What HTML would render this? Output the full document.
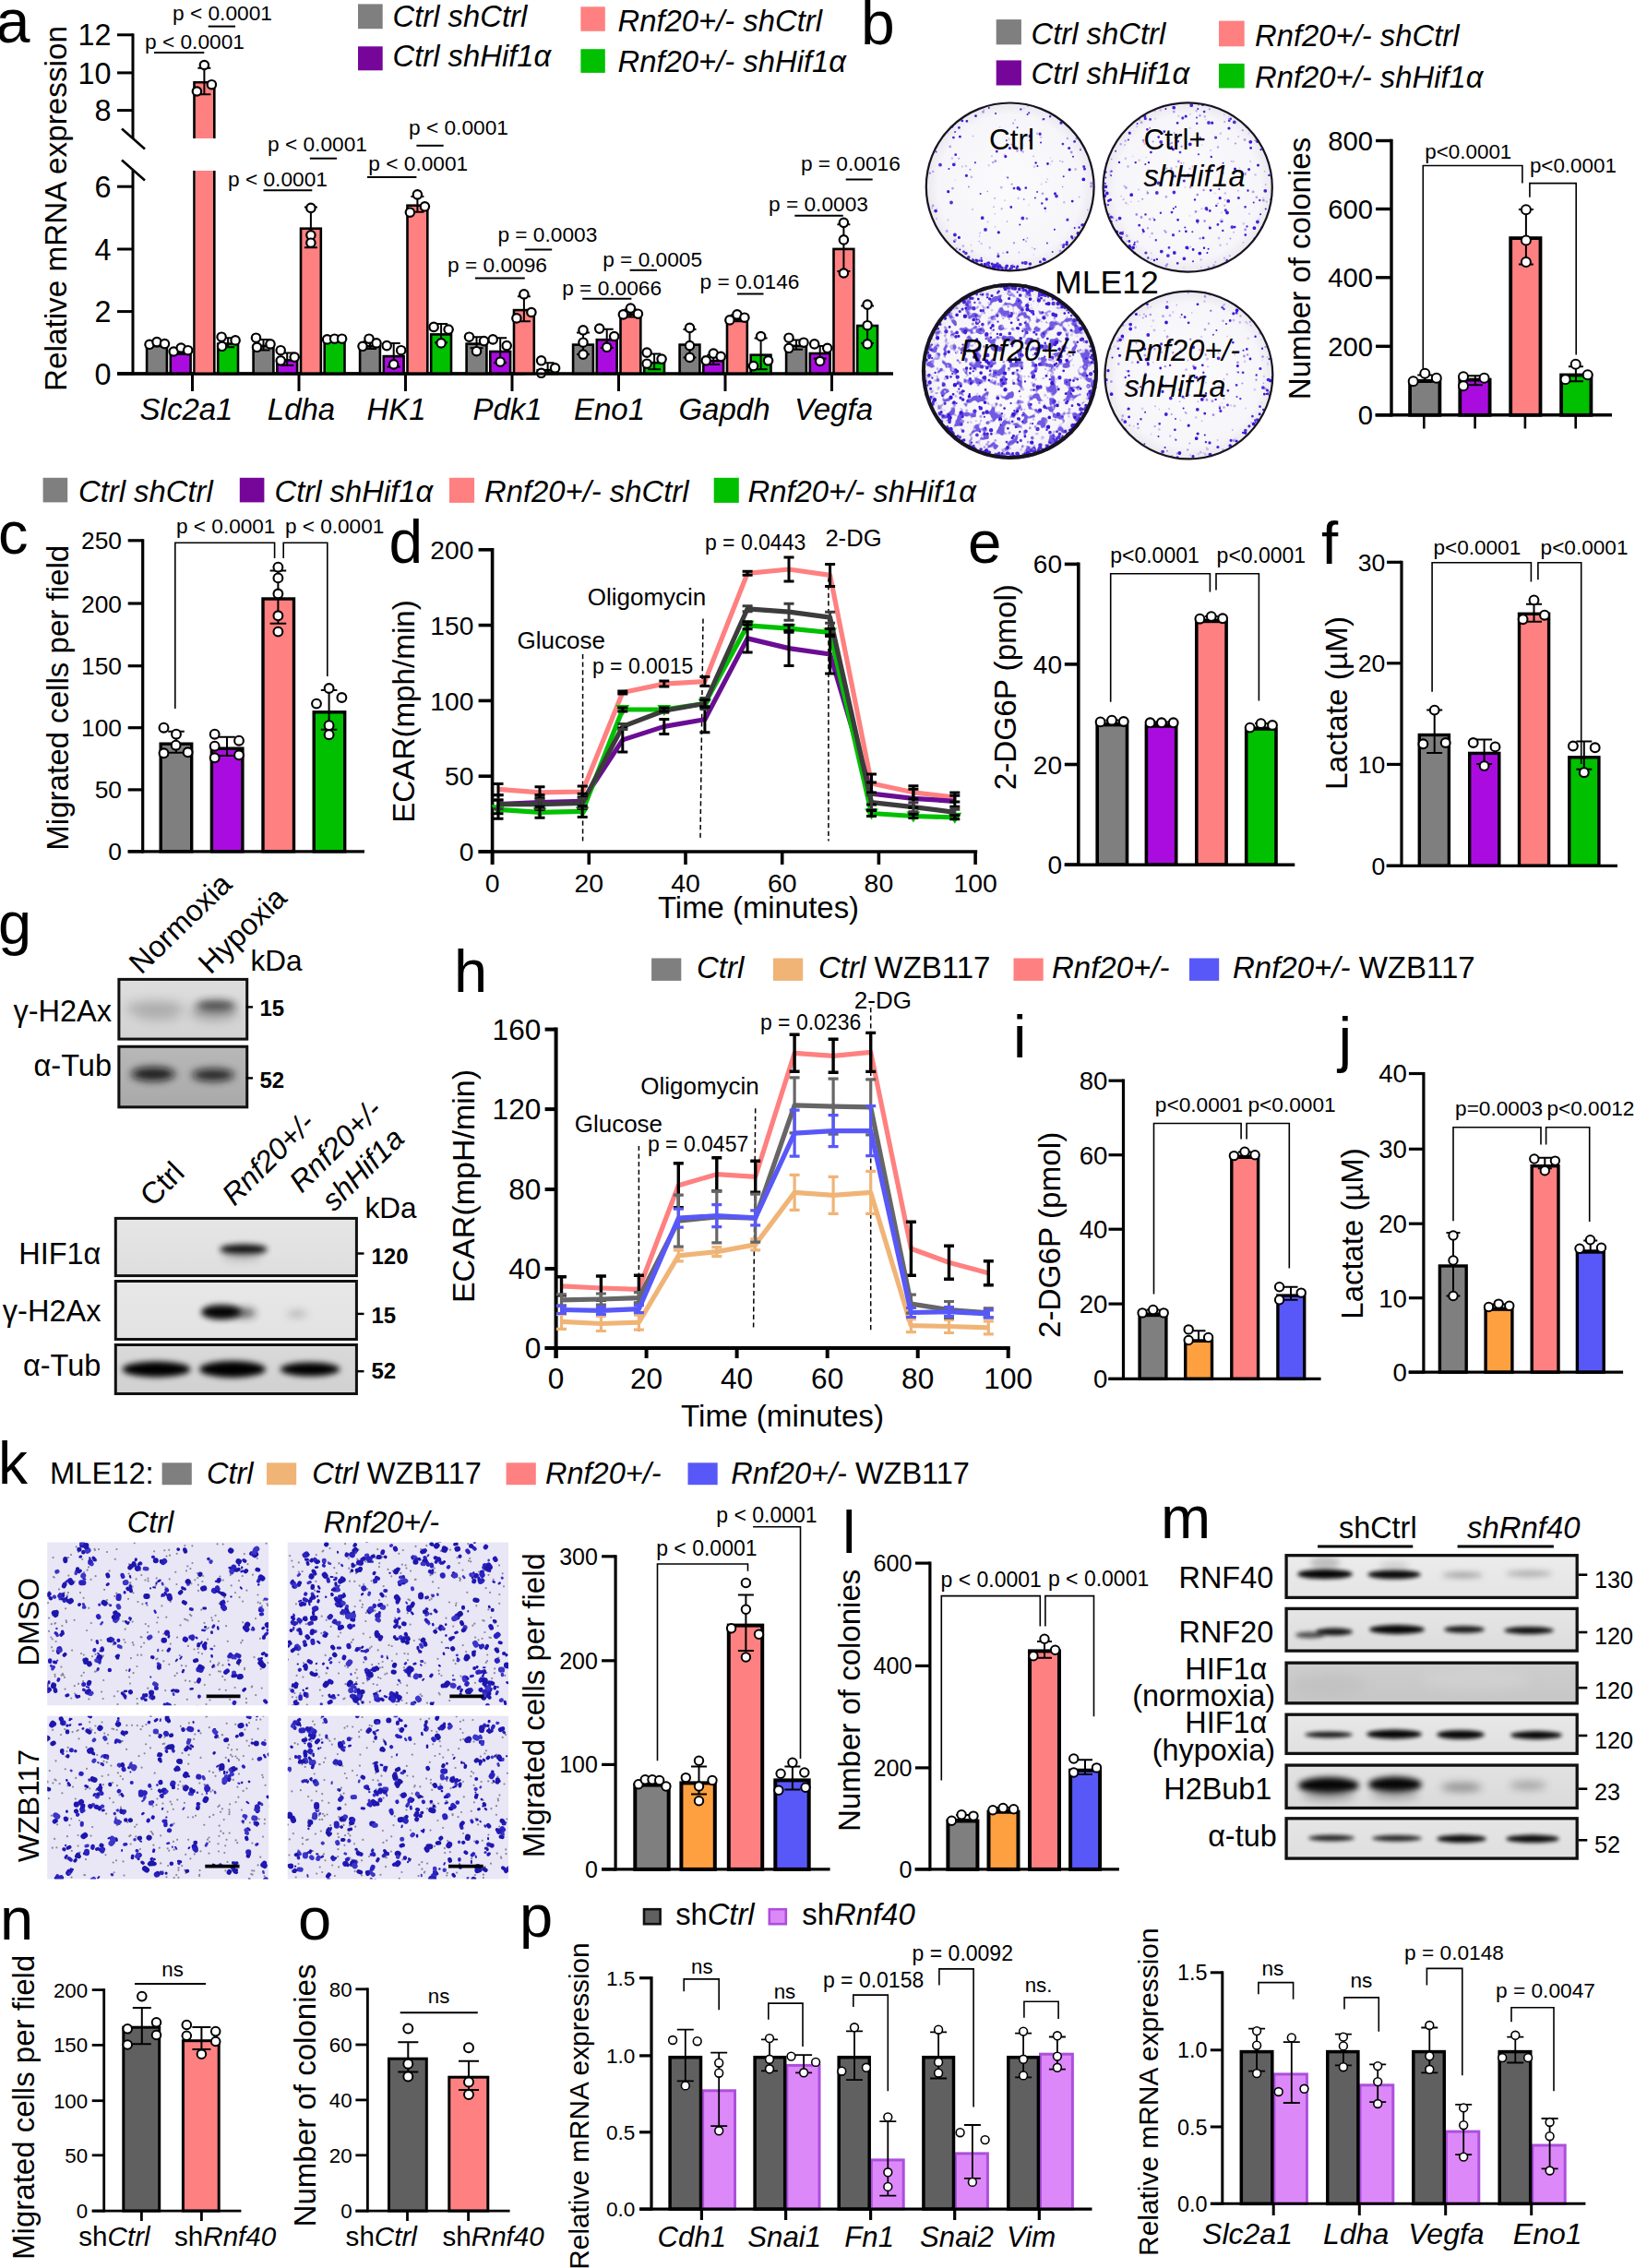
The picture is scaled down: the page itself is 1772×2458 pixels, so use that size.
<!DOCTYPE html>
<html><head><meta charset="utf-8"><title>Figure</title>
<style>html,body{margin:0;padding:0;background:#fff}svg{display:block}text{font-family:"Liberation Sans",Arial,Helvetica,sans-serif;fill:#000;stroke:none}</style></head>
<body>
<svg width="1772" height="2458" viewBox="0 0 1772 2458">
<rect width="1772" height="2458" fill="#fff"/>
<g stroke="#000" fill="none">
<text x="-4.5" y="46.3" font-size="66.5">a</text>
<text font-size="33.3" text-anchor="middle" transform="translate(72.3 226) rotate(-90)">Relative mRNA expression</text>
<path d="M144 185L144 406.5" stroke-width="3"/>
<path d="M144 36.3L144 150" stroke-width="3"/>
<path d="M127 37.8L144 37.8" stroke-width="3"/>
<text x="120.5" y="49.4" font-size="32.4" text-anchor="end">12</text>
<path d="M127 78.9L144 78.9" stroke-width="3"/>
<text x="120.5" y="90.5" font-size="32.4" text-anchor="end">10</text>
<path d="M127 119.6L144 119.6" stroke-width="3"/>
<text x="120.5" y="131.2" font-size="32.4" text-anchor="end">8</text>
<path d="M127 202.2L144 202.2" stroke-width="3"/>
<text x="120.5" y="213.8" font-size="32.4" text-anchor="end">6</text>
<path d="M127 270L144 270" stroke-width="3"/>
<text x="120.5" y="281.6" font-size="32.4" text-anchor="end">4</text>
<path d="M127 337.6L144 337.6" stroke-width="3"/>
<text x="120.5" y="349.2" font-size="32.4" text-anchor="end">2</text>
<path d="M127 405L144 405" stroke-width="3"/>
<text x="120.5" y="416.6" font-size="32.4" text-anchor="end">0</text>
<path d="M132 139.5L157 161.5" stroke-width="2.6"/>
<path d="M132 173.6L157 195.6" stroke-width="2.6"/>
<path d="M127 405L568.5 405" stroke-width="3"/>
<path d="M127 405L968 405" stroke-width="3"/>
<path d="M208.5 405L208.5 424" stroke-width="3"/>
<text x="202" y="455" font-size="33" text-anchor="middle" font-style="italic">Slc2a1</text>
<path d="M324 405L324 424" stroke-width="3"/>
<text x="326.5" y="455" font-size="33" text-anchor="middle" font-style="italic">Ldha</text>
<path d="M439.5 405L439.5 424" stroke-width="3"/>
<text x="429.5" y="455" font-size="33" text-anchor="middle" font-style="italic">HK1</text>
<path d="M555 405L555 424" stroke-width="3"/>
<text x="550" y="455" font-size="33" text-anchor="middle" font-style="italic">Pdk1</text>
<path d="M670.5 405L670.5 424" stroke-width="3"/>
<text x="660.5" y="455" font-size="33" text-anchor="middle" font-style="italic">Eno1</text>
<path d="M786 405L786 424" stroke-width="3"/>
<text x="785" y="455" font-size="33" text-anchor="middle" font-style="italic">Gapdh</text>
<path d="M901.5 405L901.5 424" stroke-width="3"/>
<text x="903.5" y="455" font-size="33" text-anchor="middle" font-style="italic">Vegfa</text>
<rect x="159.1" y="374.9" width="21.8" height="30.1" fill="#7f7f7f" stroke="#000" stroke-width="2.6"/>
<path d="M170 371.9V375.3M163 371.9H177M163 375.3H177" fill="none" stroke-width="2"/>
<circle cx="162" cy="373.3" r="4.7" fill="#fff" stroke="#000" stroke-width="2.2"/>
<circle cx="170" cy="370.6" r="4.7" fill="#fff" stroke="#000" stroke-width="2.2"/>
<circle cx="178.5" cy="372.6" r="4.7" fill="#fff" stroke="#000" stroke-width="2.2"/>
<rect x="184.8" y="382" width="21.8" height="23" fill="#aa0ce0" stroke="#000" stroke-width="2.6"/>
<path d="M195.7 377.3V384.1M188.7 377.3H202.7M188.7 384.1H202.7" fill="none" stroke-width="2"/>
<circle cx="188.2" cy="381" r="4.7" fill="#fff" stroke="#000" stroke-width="2.2"/>
<circle cx="196.2" cy="377" r="4.7" fill="#fff" stroke="#000" stroke-width="2.2"/>
<circle cx="203.7" cy="379.7" r="4.7" fill="#fff" stroke="#000" stroke-width="2.2"/>
<rect x="210.5" y="89.3" width="21.8" height="60.7" fill="#ff8080" stroke="none"/>
<path d="M210.5 150V89.3H232.3V150" stroke-width="2.6"/>
<path d="M210.5 185V405M232.3 185V405" stroke-width="2.6"/>
<rect x="211.8" y="185" width="19.2" height="219" fill="#ff8080" stroke="none"/>
<path d="M221.4 73.7V102.3M214.4 73.7H228.4M214.4 102.3H228.4" fill="none" stroke-width="2"/>
<circle cx="221.4" cy="70.5" r="4.7" fill="#fff" stroke="#000" stroke-width="2.2"/>
<circle cx="213.4" cy="99" r="4.7" fill="#fff" stroke="#000" stroke-width="2.2"/>
<circle cx="229.4" cy="91.7" r="4.7" fill="#fff" stroke="#000" stroke-width="2.2"/>
<rect x="236.2" y="372.6" width="21.8" height="32.5" fill="#00c000" stroke="#000" stroke-width="2.6"/>
<path d="M247.1 366.2V376.3M240.1 366.2H254.1M240.1 376.3H254.1" fill="none" stroke-width="2"/>
<circle cx="240.1" cy="365.2" r="4.7" fill="#fff" stroke="#000" stroke-width="2.2"/>
<circle cx="240.6" cy="375.3" r="4.7" fill="#fff" stroke="#000" stroke-width="2.2"/>
<circle cx="255.1" cy="368.9" r="4.7" fill="#fff" stroke="#000" stroke-width="2.2"/>
<rect x="274.6" y="374.9" width="21.8" height="30.1" fill="#7f7f7f" stroke="#000" stroke-width="2.6"/>
<path d="M285.5 367.9V379.4M278.5 367.9H292.5M278.5 379.4H292.5" fill="none" stroke-width="2"/>
<circle cx="277.5" cy="366.2" r="4.7" fill="#fff" stroke="#000" stroke-width="2.2"/>
<circle cx="278.5" cy="376.3" r="4.7" fill="#fff" stroke="#000" stroke-width="2.2"/>
<circle cx="293" cy="372.9" r="4.7" fill="#fff" stroke="#000" stroke-width="2.2"/>
<rect x="300.3" y="390.4" width="21.8" height="14.6" fill="#aa0ce0" stroke="#000" stroke-width="2.6"/>
<path d="M311.2 382.4V395.9M304.2 382.4H318.2M304.2 395.9H318.2" fill="none" stroke-width="2"/>
<circle cx="304.2" cy="379.7" r="4.7" fill="#fff" stroke="#000" stroke-width="2.2"/>
<circle cx="304.2" cy="390.8" r="4.7" fill="#fff" stroke="#000" stroke-width="2.2"/>
<circle cx="319.2" cy="387.1" r="4.7" fill="#fff" stroke="#000" stroke-width="2.2"/>
<rect x="326" y="247.7" width="21.8" height="157.3" fill="#ff8080" stroke="#000" stroke-width="2.6"/>
<path d="M336.9 224.4V268.3M329.9 224.4H343.9M329.9 268.3H343.9" fill="none" stroke-width="2"/>
<circle cx="336.9" cy="225.4" r="4.7" fill="#fff" stroke="#000" stroke-width="2.2"/>
<circle cx="336.9" cy="254.8" r="4.7" fill="#fff" stroke="#000" stroke-width="2.2"/>
<circle cx="336.9" cy="263.2" r="4.7" fill="#fff" stroke="#000" stroke-width="2.2"/>
<rect x="351.7" y="370.2" width="21.8" height="34.8" fill="#00c000" stroke="#000" stroke-width="2.6"/>
<path d="M362.6 366.9V370.9M355.6 366.9H369.6M355.6 370.9H369.6" fill="none" stroke-width="2"/>
<circle cx="354.6" cy="367.9" r="4.7" fill="#fff" stroke="#000" stroke-width="2.2"/>
<circle cx="362.6" cy="367.2" r="4.7" fill="#fff" stroke="#000" stroke-width="2.2"/>
<circle cx="370.6" cy="367.2" r="4.7" fill="#fff" stroke="#000" stroke-width="2.2"/>
<rect x="390.1" y="375.2" width="21.8" height="29.8" fill="#7f7f7f" stroke="#000" stroke-width="2.6"/>
<path d="M401 369.9V378M394 369.9H408M394 378H408" fill="none" stroke-width="2"/>
<circle cx="393" cy="375.3" r="4.7" fill="#fff" stroke="#000" stroke-width="2.2"/>
<circle cx="400" cy="367.2" r="4.7" fill="#fff" stroke="#000" stroke-width="2.2"/>
<circle cx="408" cy="371.9" r="4.7" fill="#fff" stroke="#000" stroke-width="2.2"/>
<rect x="415.8" y="386.1" width="21.8" height="18.9" fill="#aa0ce0" stroke="#000" stroke-width="2.6"/>
<path d="M426.7 371.9V397.6M419.7 371.9H433.7M419.7 397.6H433.7" fill="none" stroke-width="2"/>
<circle cx="419.2" cy="374.6" r="4.7" fill="#fff" stroke="#000" stroke-width="2.2"/>
<circle cx="426.7" cy="394.9" r="4.7" fill="#fff" stroke="#000" stroke-width="2.2"/>
<circle cx="434.7" cy="379.7" r="4.7" fill="#fff" stroke="#000" stroke-width="2.2"/>
<rect x="441.5" y="222.7" width="21.8" height="182.3" fill="#ff8080" stroke="#000" stroke-width="2.6"/>
<path d="M452.4 213V229.8M445.4 213H459.4M445.4 229.8H459.4" fill="none" stroke-width="2"/>
<circle cx="452.4" cy="210.9" r="4.7" fill="#fff" stroke="#000" stroke-width="2.2"/>
<circle cx="444.4" cy="230.2" r="4.7" fill="#fff" stroke="#000" stroke-width="2.2"/>
<circle cx="460.4" cy="223.8" r="4.7" fill="#fff" stroke="#000" stroke-width="2.2"/>
<rect x="467.2" y="362.4" width="21.8" height="42.6" fill="#00c000" stroke="#000" stroke-width="2.6"/>
<path d="M478.1 351V371.2M471.1 351H485.1M471.1 371.2H485.1" fill="none" stroke-width="2"/>
<circle cx="470.1" cy="354.4" r="4.7" fill="#fff" stroke="#000" stroke-width="2.2"/>
<circle cx="478.1" cy="371.9" r="4.7" fill="#fff" stroke="#000" stroke-width="2.2"/>
<circle cx="486.1" cy="357.1" r="4.7" fill="#fff" stroke="#000" stroke-width="2.2"/>
<rect x="505.6" y="372.6" width="21.8" height="32.5" fill="#7f7f7f" stroke="#000" stroke-width="2.6"/>
<path d="M516.5 365.2V377.3M509.5 365.2H523.5M509.5 377.3H523.5" fill="none" stroke-width="2"/>
<circle cx="508.5" cy="365.2" r="4.7" fill="#fff" stroke="#000" stroke-width="2.2"/>
<circle cx="516.5" cy="380.7" r="4.7" fill="#fff" stroke="#000" stroke-width="2.2"/>
<circle cx="524.5" cy="369.6" r="4.7" fill="#fff" stroke="#000" stroke-width="2.2"/>
<rect x="531.3" y="381" width="21.8" height="24" fill="#aa0ce0" stroke="#000" stroke-width="2.6"/>
<path d="M542.2 366.2V393.2M535.2 366.2H549.2M535.2 393.2H549.2" fill="none" stroke-width="2"/>
<circle cx="534.2" cy="367.9" r="4.7" fill="#fff" stroke="#000" stroke-width="2.2"/>
<circle cx="542.2" cy="392.2" r="4.7" fill="#fff" stroke="#000" stroke-width="2.2"/>
<circle cx="549.2" cy="374.6" r="4.7" fill="#fff" stroke="#000" stroke-width="2.2"/>
<rect x="557" y="336.1" width="21.8" height="68.9" fill="#ff8080" stroke="#000" stroke-width="2.6"/>
<path d="M567.9 321.3V348.3M560.9 321.3H574.9M560.9 348.3H574.9" fill="none" stroke-width="2"/>
<circle cx="567.9" cy="318.9" r="4.7" fill="#fff" stroke="#000" stroke-width="2.2"/>
<circle cx="559.9" cy="344.9" r="4.7" fill="#fff" stroke="#000" stroke-width="2.2"/>
<circle cx="575.9" cy="338.5" r="4.7" fill="#fff" stroke="#000" stroke-width="2.2"/>
<rect x="582.7" y="401.2" width="21.8" height="3.8" fill="#00c000" stroke="#000" stroke-width="2.6"/>
<path d="M593.6 393.2V404.3M586.6 393.2H600.6M586.6 404.3H600.6" fill="none" stroke-width="2"/>
<circle cx="586.6" cy="390.8" r="4.7" fill="#fff" stroke="#000" stroke-width="2.2"/>
<circle cx="586.6" cy="404.3" r="4.7" fill="#fff" stroke="#000" stroke-width="2.2"/>
<circle cx="601.6" cy="398.9" r="4.7" fill="#fff" stroke="#000" stroke-width="2.2"/>
<rect x="621.1" y="373.6" width="21.8" height="31.4" fill="#7f7f7f" stroke="#000" stroke-width="2.6"/>
<path d="M632 360.4V384.1M625 360.4H639M625 384.1H639" fill="none" stroke-width="2"/>
<circle cx="632" cy="357.8" r="4.7" fill="#fff" stroke="#000" stroke-width="2.2"/>
<circle cx="632" cy="371.2" r="4.7" fill="#fff" stroke="#000" stroke-width="2.2"/>
<circle cx="632" cy="384.1" r="4.7" fill="#fff" stroke="#000" stroke-width="2.2"/>
<rect x="646.8" y="368.2" width="21.8" height="36.8" fill="#aa0ce0" stroke="#000" stroke-width="2.6"/>
<path d="M657.7 356.7V377M650.7 356.7H664.7M650.7 377H664.7" fill="none" stroke-width="2"/>
<circle cx="649.7" cy="356.1" r="4.7" fill="#fff" stroke="#000" stroke-width="2.2"/>
<circle cx="657.7" cy="376.3" r="4.7" fill="#fff" stroke="#000" stroke-width="2.2"/>
<circle cx="665.7" cy="364.5" r="4.7" fill="#fff" stroke="#000" stroke-width="2.2"/>
<rect x="672.5" y="340.8" width="21.8" height="64.2" fill="#ff8080" stroke="#000" stroke-width="2.6"/>
<path d="M683.4 335.5V343.6M676.4 335.5H690.4M676.4 343.6H690.4" fill="none" stroke-width="2"/>
<circle cx="675.4" cy="340.9" r="4.7" fill="#fff" stroke="#000" stroke-width="2.2"/>
<circle cx="683.4" cy="334.1" r="4.7" fill="#fff" stroke="#000" stroke-width="2.2"/>
<circle cx="691.4" cy="340.2" r="4.7" fill="#fff" stroke="#000" stroke-width="2.2"/>
<rect x="698.2" y="393.1" width="21.8" height="11.9" fill="#00c000" stroke="#000" stroke-width="2.6"/>
<path d="M709.1 383.4V400.3M702.1 383.4H716.1M702.1 400.3H716.1" fill="none" stroke-width="2"/>
<circle cx="701.1" cy="382.1" r="4.7" fill="#fff" stroke="#000" stroke-width="2.2"/>
<circle cx="701.1" cy="394.2" r="4.7" fill="#fff" stroke="#000" stroke-width="2.2"/>
<circle cx="717.1" cy="389.1" r="4.7" fill="#fff" stroke="#000" stroke-width="2.2"/>
<rect x="736.6" y="373.6" width="21.8" height="31.4" fill="#7f7f7f" stroke="#000" stroke-width="2.6"/>
<path d="M747.5 357.1V387.4M740.5 357.1H754.5M740.5 387.4H754.5" fill="none" stroke-width="2"/>
<circle cx="747.5" cy="355.4" r="4.7" fill="#fff" stroke="#000" stroke-width="2.2"/>
<circle cx="747.5" cy="374.6" r="4.7" fill="#fff" stroke="#000" stroke-width="2.2"/>
<circle cx="747.5" cy="387.4" r="4.7" fill="#fff" stroke="#000" stroke-width="2.2"/>
<rect x="762.3" y="391.1" width="21.8" height="13.9" fill="#aa0ce0" stroke="#000" stroke-width="2.6"/>
<path d="M773.2 384.8V394.9M766.2 384.8H780.2M766.2 394.9H780.2" fill="none" stroke-width="2"/>
<circle cx="765.2" cy="390.8" r="4.7" fill="#fff" stroke="#000" stroke-width="2.2"/>
<circle cx="773.2" cy="383.1" r="4.7" fill="#fff" stroke="#000" stroke-width="2.2"/>
<circle cx="781.2" cy="386.4" r="4.7" fill="#fff" stroke="#000" stroke-width="2.2"/>
<rect x="788" y="346.2" width="21.8" height="58.8" fill="#ff8080" stroke="#000" stroke-width="2.6"/>
<path d="M798.9 341.6V348.3M791.9 341.6H805.9M791.9 348.3H805.9" fill="none" stroke-width="2"/>
<circle cx="790.9" cy="346.9" r="4.7" fill="#fff" stroke="#000" stroke-width="2.2"/>
<circle cx="798.9" cy="340.9" r="4.7" fill="#fff" stroke="#000" stroke-width="2.2"/>
<circle cx="806.9" cy="344.2" r="4.7" fill="#fff" stroke="#000" stroke-width="2.2"/>
<rect x="813.7" y="384.7" width="21.8" height="20.3" fill="#00c000" stroke="#000" stroke-width="2.6"/>
<path d="M824.6 366.5V400.3M817.6 366.5H831.6M817.6 400.3H831.6" fill="none" stroke-width="2"/>
<circle cx="824.6" cy="364.5" r="4.7" fill="#fff" stroke="#000" stroke-width="2.2"/>
<circle cx="816.6" cy="396.6" r="4.7" fill="#fff" stroke="#000" stroke-width="2.2"/>
<circle cx="832.6" cy="390.8" r="4.7" fill="#fff" stroke="#000" stroke-width="2.2"/>
<rect x="852.1" y="374.9" width="21.8" height="30.1" fill="#7f7f7f" stroke="#000" stroke-width="2.6"/>
<path d="M863 368.6V378.7M856 368.6H870M856 378.7H870" fill="none" stroke-width="2"/>
<circle cx="855" cy="366.2" r="4.7" fill="#fff" stroke="#000" stroke-width="2.2"/>
<circle cx="855" cy="377.3" r="4.7" fill="#fff" stroke="#000" stroke-width="2.2"/>
<circle cx="871" cy="371.2" r="4.7" fill="#fff" stroke="#000" stroke-width="2.2"/>
<rect x="877.8" y="383" width="21.8" height="22" fill="#aa0ce0" stroke="#000" stroke-width="2.6"/>
<path d="M888.7 375V388.5M881.7 375H895.7M881.7 388.5H895.7" fill="none" stroke-width="2"/>
<circle cx="882.7" cy="372.9" r="4.7" fill="#fff" stroke="#000" stroke-width="2.2"/>
<circle cx="888.7" cy="391.5" r="4.7" fill="#fff" stroke="#000" stroke-width="2.2"/>
<circle cx="896.7" cy="377.3" r="4.7" fill="#fff" stroke="#000" stroke-width="2.2"/>
<rect x="903.5" y="269.9" width="21.8" height="135.1" fill="#ff8080" stroke="#000" stroke-width="2.6"/>
<path d="M914.4 243.3V294M907.4 243.3H921.4M907.4 294H921.4" fill="none" stroke-width="2"/>
<circle cx="914.4" cy="241.3" r="4.7" fill="#fff" stroke="#000" stroke-width="2.2"/>
<circle cx="914.4" cy="259.9" r="4.7" fill="#fff" stroke="#000" stroke-width="2.2"/>
<circle cx="914.4" cy="296" r="4.7" fill="#fff" stroke="#000" stroke-width="2.2"/>
<rect x="929.2" y="353" width="21.8" height="52" fill="#00c000" stroke="#000" stroke-width="2.6"/>
<path d="M940.1 331.4V371.9M933.1 331.4H947.1M933.1 371.9H947.1" fill="none" stroke-width="2"/>
<circle cx="940.1" cy="330.1" r="4.7" fill="#fff" stroke="#000" stroke-width="2.2"/>
<circle cx="940.1" cy="352.7" r="4.7" fill="#fff" stroke="#000" stroke-width="2.2"/>
<circle cx="940.1" cy="372.9" r="4.7" fill="#fff" stroke="#000" stroke-width="2.2"/>
<path d="M127 405L968 405" stroke-width="3"/>
<text x="187" y="22" font-size="22.7">p &lt; 0.0001</text>
<path d="M225.7 28.6L255 28.6" stroke-width="2"/>
<text x="157" y="53.2" font-size="22.7">p &lt; 0.0001</text>
<path d="M167 56.9L221.3 56.9" stroke-width="2"/>
<text x="290" y="164" font-size="22.7">p &lt; 0.0001</text>
<path d="M335.8 171.7L365 171.7" stroke-width="2"/>
<text x="247" y="201.8" font-size="22.7">p &lt; 0.0001</text>
<path d="M285.5 206.2L338.3 206.2" stroke-width="2"/>
<text x="443" y="146" font-size="22.7">p &lt; 0.0001</text>
<path d="M451.4 157.8L480.7 157.8" stroke-width="2"/>
<text x="399.3" y="184.6" font-size="22.7">p &lt; 0.0001</text>
<path d="M398 192L451.4 192" stroke-width="2"/>
<text x="485" y="295.4" font-size="22.7">p = 0.0096</text>
<path d="M514.9 301.6L568.8 301.6" stroke-width="2"/>
<text x="539.4" y="262.4" font-size="22.7">p = 0.0003</text>
<path d="M568.8 270.5L598.2 270.5" stroke-width="2"/>
<text x="653.2" y="289.2" font-size="22.7">p = 0.0005</text>
<path d="M682.6 292.8L712 292.8" stroke-width="2"/>
<text x="609.2" y="320" font-size="22.7">p = 0.0066</text>
<path d="M631.2 323.7L684.4 323.7" stroke-width="2"/>
<text x="758.5" y="312.7" font-size="22.7">p = 0.0146</text>
<path d="M798.9 318.5L827.5 318.5" stroke-width="2"/>
<text x="867.9" y="185.3" font-size="22.7">p = 0.0016</text>
<path d="M916.7 194.5L945.7 194.5" stroke-width="2"/>
<text x="833" y="228.6" font-size="22.7">p = 0.0003</text>
<path d="M861.3 233.8L913.8 233.8" stroke-width="2"/>
<rect x="388" y="4.4" width="26.7" height="26.8" fill="#7f7f7f" stroke="none"/>
<rect x="388" y="50.3" width="26.7" height="26" fill="#76069a" stroke="none"/>
<text x="425.5" y="29.4" font-size="32.8" font-style="italic">Ctrl shCtrl</text>
<text x="425.5" y="71.6" font-size="32.8" font-style="italic">Ctrl shHif1α</text>
<rect x="629.4" y="7.3" width="26.4" height="26.5" fill="#ff8080" stroke="none"/>
<rect x="629.4" y="53.2" width="26.4" height="25.7" fill="#00c000" stroke="none"/>
<text x="669.5" y="33.8" font-size="32.8" font-style="italic">Rnf20+/- shCtrl</text>
<text x="669.5" y="78.2" font-size="32.8" font-style="italic">Rnf20+/- shHif1α</text>
<defs><filter id="blot" x="0" y="0" width="1" height="1"><feTurbulence type="fractalNoise" baseFrequency="0.11" numOctaves="2" seed="7" result="n"/><feColorMatrix in="n" type="matrix" values="0 0 0 0 0  0 0 0 0 0  0 0 0 0 0  0 0 0 9 -4.8" result="m"/><feComposite in="SourceGraphic" in2="m" operator="in"/></filter><radialGradient id="plbg"><stop offset="0" stop-color="#fbfafc"/><stop offset="0.85" stop-color="#f6f5f9"/><stop offset="1" stop-color="#e9e7ee"/></radialGradient></defs>
<text x="933" y="48.2" font-size="66">b</text>
<rect x="1079.7" y="21.1" width="27.2" height="27.2" fill="#7f7f7f" stroke="none"/>
<rect x="1079.7" y="65.4" width="27.2" height="27.1" fill="#76069a" stroke="none"/>
<text x="1117.5" y="48.3" font-size="32.8" font-style="italic">Ctrl shCtrl</text>
<text x="1117.5" y="90.5" font-size="32.8" font-style="italic">Ctrl shHif1α</text>
<rect x="1321" y="22.6" width="27.7" height="27.7" fill="#ff8080" stroke="none"/>
<rect x="1321" y="68.9" width="27.7" height="26.6" fill="#00c000" stroke="none"/>
<text x="1360" y="50.3" font-size="32.8" font-style="italic">Rnf20+/- shCtrl</text>
<text x="1360" y="94.5" font-size="32.8" font-style="italic">Rnf20+/- shHif1α</text>
<clipPath id="pc1"><circle cx="1094.7" cy="202.4" r="92"/></clipPath>
<circle cx="1094.7" cy="202.4" r="92" fill="url(#plbg)" stroke="none"/>
<g clip-path="url(#pc1)" stroke-linecap="round">
<path d="M1148.9 174.5h.01M1104.4 273.5h.01M1169.8 213.4h.01M1042.8 180.4h.01M1027.4 238.5h.01M1087.2 274.3h.01M1062.2 252.5h.01M1066.4 119h.01" stroke="#c9b4f0" stroke-width="2"/>
<path d="M1033.4 149.1h.01M1095.8 224.5h.01M1039.4 138.4h.01M1132.7 225.8h.01M1044.5 272.8h.01M1035.7 167.7h.01M1164.6 153.4h.01M1034.5 261.5h.01M1080.3 164.2h.01M1042.8 130.9h.01" stroke="#4420da" stroke-width="2.8"/>
<path d="M1121 180.7h.01M1088.9 167.9h.01M1047 180.1h.01M1063.7 264.1h.01M1128 148.7h.01M1150.6 265.7h.01M1103.7 214.9h.01" stroke="#d8c8f4" stroke-width="2.8"/>
<path d="M1134.9 263.6h.01M1121.9 214.5h.01M1171 162.2h.01M1035.1 142.9h.01M1014.6 164.4h.01M1124.1 207.9h.01M1140.7 273h.01M1109.4 259.7h.01M1092.2 192.6h.01M1090.8 152.3h.01M1062.6 210.1h.01M1075.8 288.1h.01" stroke="#5030dc" stroke-width="2"/>
<path d="M1035 195.2h.01M1120.4 276h.01M1138.4 171h.01M1035.4 175.6h.01M1138.4 178.3h.01M1133.3 229.4h.01M1050.9 281.7h.01M1115 222.4h.01" stroke="#d8c8f4" stroke-width="1.6"/>
<path d="M1081.7 275h.01M1076.3 175.9h.01M1011.2 185.9h.01M1156.9 150h.01M1096.6 199.6h.01M1099 263.2h.01M1043.9 266.6h.01" stroke="#b79cec" stroke-width="2.4"/>
<path d="M1082.3 251.8h.01M1027.7 207.7h.01M1089.8 169.6h.01M1159.2 183.8h.01M1039.4 257.4h.01M1150 133.2h.01" stroke="#3a16d6" stroke-width="3.2"/>
<path d="M1134.3 215.9h.01M1175.5 183.1h.01M1174.7 180.5h.01M1108.3 284.8h.01M1054.8 282.4h.01M1105 205.2h.01M1156.9 238.2h.01" stroke="#5030dc" stroke-width="3.2"/>
<path d="M1113.4 258.1h.01M1151.6 202.6h.01M1077.1 224.3h.01M1151.6 175.4h.01M1078 214.9h.01M1178.9 227.6h.01M1070.2 207.5h.01M1091.5 240h.01M1075 169.3h.01M1015 237.1h.01" stroke="#a98ae8" stroke-width="1.6"/>
<path d="M1085.2 203.2h.01M1108.6 164.5h.01M1165.6 183.5h.01M1052.9 191.8h.01M1053.4 272.2h.01M1065.5 121.7h.01M1130.2 129.4h.01M1086.1 161h.01M1097.7 287.5h.01" stroke="#c9b4f0" stroke-width="2.8"/>
<path d="M1102.6 138.2h.01M1105.3 243.5h.01M1115.2 122.3h.01M1128 154.4h.01M1028.4 182.9h.01M1152.7 191.2h.01M1071.8 117h.01M1163 169.8h.01" stroke="#4420da" stroke-width="2"/>
<path d="M1120.1 169.4h.01M1010.2 225.4h.01M1100.1 130h.01M1133.9 197.4h.01M1061.3 261.6h.01M1054.5 147.5h.01" stroke="#b79cec" stroke-width="1.6"/>
<path d="M1090 292.4h.01M1007.8 187.7h.01M1114 114.3h.01M1065.5 121h.01M1166.6 150.3h.01" stroke="#a98ae8" stroke-width="2.4"/>
<path d="M1138.1 126.2h.01M1116.5 152.2h.01M1131.2 129.1h.01M1079.8 289.3h.01M1099.1 289h.01M1071.4 287.8h.01M1091.1 293.1h.01M1104.4 292.1h.01M1086.5 291.5h.01M1077.3 286.7h.01M1089.4 290.5h.01M1070.3 285.3h.01M1131.8 285.1h.01M1162.3 258.3h.01" stroke="#4420da" stroke-width="2.4"/>
<path d="M1056.9 176.2h.01M1040.3 270.4h.01M1063.5 279.7h.01M1142.9 248.7h.01M1106.8 163h.01M1079.1 123h.01M1113.6 123.9h.01M1164.7 246.9h.01M1124.4 180h.01" stroke="#3a16d6" stroke-width="2"/>
<path d="M1094.4 160.6h.01M1081.9 277.7h.01M1172.8 243.8h.01M1158.7 160.5h.01M1127.1 145.2h.01M1047.4 190.3h.01M1143.5 209.8h.01" stroke="#4420da" stroke-width="3.2"/>
<path d="M1078.3 231.8h.01M1118.7 268.6h.01M1052.5 265.7h.01M1083.5 137.8h.01M1061.5 256h.01M1091.2 191.7h.01M1128.7 199.6h.01" stroke="#c9b4f0" stroke-width="1.6"/>
<path d="M1153.3 219.2h.01M1124.1 144.8h.01M1085.7 226.2h.01M1072.8 268.5h.01M1101 158.9h.01M1031.9 171.5h.01" stroke="#c9b4f0" stroke-width="2.4"/>
<path d="M1182.7 198.7h.01M1078.9 174.6h.01M1161.2 165h.01M1112.9 236.8h.01M1165.2 257.3h.01M1182.6 202h.01" stroke="#a98ae8" stroke-width="2.8"/>
<path d="M1057.5 125.7h.01M1040.4 148.2h.01M1032 137.3h.01M1135.5 177.5h.01M1047.9 131.3h.01M1162.2 218.1h.01" stroke="#3a16d6" stroke-width="2.8"/>
<path d="M1151.9 156.1h.01M1111.8 203.7h.01M1099 204.1h.01" stroke="#5030dc" stroke-width="2.8"/>
<path d="M1053.9 226.9h.01M1071.7 179.2h.01M1171.5 160.7h.01M1070.7 240.4h.01M1093.4 150.7h.01M1140.2 174.7h.01" stroke="#d8c8f4" stroke-width="2.4"/>
<path d="M1121.4 269.8h.01M1098.1 133.5h.01M1049.9 202.5h.01M1109.7 216.1h.01M1051.4 183.7h.01M1036.8 269.3h.01" stroke="#a98ae8" stroke-width="2"/>
<path d="M1174.3 194.4h.01M1103.4 203.9h.01" stroke="#3a16d6" stroke-width="3.8"/>
<path d="M1096.2 156.6h.01M1112 261.6h.01M1039.2 171.8h.01" stroke="#b79cec" stroke-width="2"/>
<path d="M1033.8 178.3h.01M1064.7 236.2h.01M1068 248.9h.01M1111.8 284.8h.01M1014.1 228.6h.01M1034.9 254.5h.01" stroke="#4420da" stroke-width="3.8"/>
<path d="M1135.2 194.3h.01M1027.3 144.2h.01M1014.9 226.2h.01M1109.8 117.2h.01M1149.2 271.6h.01M1078.5 245.8h.01M1089 217.3h.01" stroke="#d8c8f4" stroke-width="2"/>
<path d="M1035.4 260.2h.01M1032.5 204.2h.01M1026.2 250.5h.01M1102.5 163.4h.01M1011.1 222.9h.01M1130 209.8h.01M1149 272.1h.01M1029.7 158.9h.01" stroke="#b79cec" stroke-width="2.8"/>
<path d="M1111.3 285h.01M1081 286.2h.01M1116.4 147.5h.01M1031 219.5h.01M1019 178.7h.01M1108.3 236.5h.01M1145 212.6h.01" stroke="#5030dc" stroke-width="3.8"/>
<path d="M1091.7 273.4h.01M1122.6 176.5h.01M1129.3 220.4h.01M1092.7 293h.01M1059.4 282.4h.01M1169.6 246.5h.01" stroke="#3a16d6" stroke-width="2.4"/>
<path d="M1106.3 118.4h.01M1122.5 115.7h.01M1096.9 290.5h.01M1090.4 288.6h.01M1079.4 287.9h.01M1054.3 281.3h.01M1061.6 282.4h.01M1079 287.3h.01M1075.4 289.3h.01" stroke="#5030dc" stroke-width="2.4"/>
<path d="M1049.7 278.9h.01M1115.9 290.8h.01M1072.2 289.3h.01M1046.9 274.5h.01M1077.1 288.6h.01M1085.9 290.3h.01M1070.1 285.8h.01M1096.5 288.7h.01M1081.8 291.7h.01" stroke="#5030dc" stroke-width="3.6"/>
<path d="M1063.7 286.8h.01M1081.8 289h.01M1168.3 252.8h.01M1131.4 281h.01" stroke="#3a16d6" stroke-width="3.6"/>
<path d="M1071.5 285h.01M1068 288h.01M1079 287.9h.01M1116.4 286h.01M1091.3 288.2h.01M1083.6 288.4h.01M1156.1 264.7h.01" stroke="#4420da" stroke-width="3.6"/>
<path d="M1101.9 290.5h.01M1090.5 290.4h.01M1094.8 291.2h.01M1063.8 282.5h.01M1075.1 285.9h.01M1102.8 288.8h.01M1156.3 262.5h.01M1127.4 283.8h.01M1161.5 256.5h.01" stroke="#4420da" stroke-width="3"/>
<path d="M1083.7 287.8h.01M1058.9 283.2h.01M1070.4 285.9h.01M1077.8 290.8h.01M1152.4 267.5h.01M1132.4 281.5h.01M1168.6 254.6h.01M1152.9 265.5h.01" stroke="#5030dc" stroke-width="3"/>
<path d="M1077.4 289.3h.01M1067.3 286.2h.01M1076 291h.01M1084 289.3h.01M1057.9 282h.01M1174 243.8h.01" stroke="#3a16d6" stroke-width="3"/>
</g>
<circle cx="1094.7" cy="202.4" r="90.9" fill="none" stroke="#17141f" stroke-width="2.2"/>
<clipPath id="pc2"><circle cx="1287.2" cy="203" r="92.7"/></clipPath>
<circle cx="1287.2" cy="203" r="92.7" fill="url(#plbg)" stroke="none"/>
<g clip-path="url(#pc2)" stroke-linecap="round">
<path d="M1255.7 148.6h.01M1349.8 254.6h.01M1276.6 238.3h.01M1239.4 250.8h.01M1355.6 160.4h.01M1293.1 270.5h.01M1312.1 206.3h.01M1338.1 246.1h.01M1261.9 142.6h.01M1285.4 250.8h.01M1276.1 133.3h.01" stroke="#3a16d6" stroke-width="2.8"/>
<path d="M1225.7 218.7h.01M1231.4 267.6h.01M1290 123.9h.01M1218.2 215.5h.01M1282.8 176.9h.01M1243.3 207.2h.01M1347 189.3h.01M1289.9 138.9h.01M1284.4 203h.01M1326.8 124.4h.01M1301.8 289.6h.01M1247.6 274.3h.01M1310.6 245.5h.01" stroke="#c9b4f0" stroke-width="1.6"/>
<path d="M1332.8 277.2h.01M1268.2 155.7h.01M1264.3 182.6h.01M1244.2 140.4h.01M1280.3 176.7h.01M1217.2 250.9h.01M1298.1 241.8h.01M1331 150.5h.01M1325.8 187.7h.01M1349.9 187.7h.01M1327.2 132h.01" stroke="#b79cec" stroke-width="2"/>
<path d="M1274.2 224.3h.01M1298.3 118.1h.01M1366.1 232.2h.01M1263.4 118.1h.01M1308.4 274.1h.01M1351.3 138h.01M1271.8 226h.01M1309.6 269.8h.01M1258.6 197h.01M1371.7 226.4h.01" stroke="#3a16d6" stroke-width="2"/>
<path d="M1241.3 128.5h.01M1240.8 126.1h.01M1224.3 144.2h.01M1363.5 179h.01M1203.5 216.5h.01M1271.4 161.8h.01M1311.4 247h.01M1303.5 113.4h.01" stroke="#4420da" stroke-width="3.2"/>
<path d="M1307.4 226h.01M1335.4 246.1h.01M1253.8 209h.01M1272.4 208.5h.01M1310 133h.01M1255.6 198.4h.01M1265.9 277.1h.01M1258.2 153.8h.01M1337.8 132.4h.01" stroke="#5030dc" stroke-width="3.8"/>
<path d="M1322.2 214.7h.01M1287.8 189.9h.01M1313.7 133.2h.01M1338.5 183.1h.01M1332 139h.01M1285.2 126h.01" stroke="#3a16d6" stroke-width="3.2"/>
<path d="M1217.3 216.5h.01M1249.8 236.4h.01M1370.6 185.8h.01M1347.4 262.8h.01M1239.3 154h.01M1271.4 199.7h.01M1320.7 201.8h.01M1336.9 175.1h.01M1327.7 216.7h.01M1221.3 261.4h.01" stroke="#b79cec" stroke-width="1.6"/>
<path d="M1342.4 214.5h.01M1317.6 149.1h.01M1271.5 254.7h.01M1328.3 227.9h.01M1281.8 127.9h.01M1353.6 183.6h.01M1283.3 196h.01M1241.9 274h.01M1324 239.7h.01" stroke="#5030dc" stroke-width="3.2"/>
<path d="M1272.3 191.1h.01M1234 205.5h.01M1292.5 180.5h.01M1371.7 200h.01M1290 267.4h.01M1219.1 157h.01M1342.2 148h.01M1203.1 188.8h.01M1334.5 174.8h.01M1248.1 281.1h.01" stroke="#c9b4f0" stroke-width="2"/>
<path d="M1263.9 213.3h.01M1360.7 152.2h.01M1349.5 188.8h.01M1206.2 235.9h.01M1358.1 207.9h.01M1361.9 213.8h.01M1237.1 132.7h.01M1272.2 121.2h.01M1349 151.5h.01M1246.2 237.6h.01M1290.2 202.9h.01M1220.4 203.5h.01M1232.7 261.9h.01" stroke="#b79cec" stroke-width="2.8"/>
<path d="M1233.9 218.2h.01M1323.9 230.5h.01M1215 212.7h.01M1196.9 193.5h.01M1369.3 214.5h.01M1327.9 283h.01M1200 201.2h.01M1364.6 237.5h.01M1238.3 253.3h.01M1251.9 128.8h.01M1353.5 144.5h.01" stroke="#d8c8f4" stroke-width="2"/>
<path d="M1366.6 162.1h.01M1213 175.9h.01M1308.1 227.2h.01M1305 268.8h.01M1230.7 176.1h.01M1352.5 206.5h.01M1241.5 232.4h.01M1375.4 189.9h.01M1245 176.1h.01M1229.3 265h.01M1315.7 179.8h.01M1295 216.4h.01M1210.8 251.6h.01" stroke="#3a16d6" stroke-width="2.4"/>
<path d="M1313.7 178.7h.01M1273.2 149.4h.01M1341.9 206.7h.01M1274.9 180.7h.01M1320 220.5h.01M1355.1 175h.01M1317.3 284h.01M1272.7 144.1h.01M1204.7 172.5h.01M1242.8 144.9h.01M1337.1 251.7h.01M1203.1 186h.01M1354 231.7h.01" stroke="#a98ae8" stroke-width="1.6"/>
<path d="M1243.9 209.2h.01M1369.4 217.2h.01M1296 229.4h.01M1237 235.5h.01M1221.2 255.7h.01M1239.1 152.2h.01M1263.9 288h.01M1305.6 239.6h.01M1277.3 175h.01M1349.6 248.9h.01M1231.8 232.5h.01M1297.8 211.1h.01M1359.6 258.7h.01M1199.4 177.2h.01M1244.6 184.8h.01" stroke="#a98ae8" stroke-width="2.8"/>
<path d="M1265 286.5h.01M1263.5 251.6h.01M1280.6 158.8h.01M1300.5 125.2h.01M1210.2 238.7h.01M1201.9 232.2h.01M1304.6 206h.01M1300.6 258.4h.01M1309.8 289.6h.01" stroke="#a98ae8" stroke-width="2.4"/>
<path d="M1257.7 119.4h.01M1251.7 120.2h.01M1219.9 171.7h.01M1327 279.7h.01M1343.6 185.7h.01M1218.7 201.8h.01M1327.2 222.7h.01M1220.3 220h.01M1322.8 144.6h.01M1301.6 281.5h.01M1300.9 193.7h.01M1289.5 182.9h.01M1322.5 265.7h.01M1360.6 189.4h.01M1327.8 209.4h.01M1372.8 218.6h.01" stroke="#c9b4f0" stroke-width="2.4"/>
<path d="M1283.4 280.3h.01M1297.8 239.5h.01M1258.8 272.6h.01M1371.3 206.8h.01M1272.2 116.7h.01M1213.6 236.6h.01M1363.1 153.2h.01M1272.8 274h.01M1291.2 114.2h.01M1362.9 240.5h.01M1198.3 202.4h.01M1199.8 209.5h.01" stroke="#4420da" stroke-width="3.8"/>
<path d="M1238.7 248.9h.01M1318.3 222.9h.01M1251 282h.01M1253.9 280.9h.01M1325.3 249.9h.01M1243.3 140.2h.01M1312.8 170h.01M1198 221.6h.01" stroke="#4420da" stroke-width="2.4"/>
<path d="M1234.7 244.2h.01M1319.9 243.4h.01M1270 230.1h.01M1247.4 165.1h.01M1223.9 261.5h.01M1276.2 285.3h.01M1311.3 228.5h.01M1304.1 257.9h.01" stroke="#4420da" stroke-width="2.8"/>
<path d="M1246.1 138.8h.01M1299 113.4h.01M1339 155.4h.01M1332.1 128.8h.01M1333.4 258.4h.01M1310.8 118.2h.01M1238.2 215.8h.01M1249.6 153.4h.01" stroke="#a98ae8" stroke-width="2"/>
<path d="M1262.3 250.1h.01M1320 159.5h.01M1268.8 198.6h.01M1346.8 141.1h.01M1234.8 129.7h.01M1270 155h.01M1244 247.2h.01M1248.6 253h.01M1214.7 156.3h.01M1269.5 182.5h.01M1367.1 246.2h.01M1315.6 287.5h.01M1219.7 152.6h.01" stroke="#b79cec" stroke-width="2.4"/>
<path d="M1266.4 151.8h.01M1200.9 222.1h.01M1252.8 260.2h.01M1253.3 186.8h.01M1204.6 185.6h.01M1333.9 128.8h.01M1365.3 217h.01M1297.2 133.8h.01M1276.9 153.2h.01M1257.9 230.8h.01M1377.5 215.9h.01M1269.8 159.3h.01M1251.2 238.3h.01M1329.7 282h.01M1351.5 245.4h.01M1244.3 279.5h.01" stroke="#5030dc" stroke-width="2.4"/>
<path d="M1321 258.1h.01M1227.2 271.4h.01M1296.7 120.1h.01M1305.8 126.3h.01M1222.5 180.5h.01M1321.7 199.6h.01M1277.8 146.7h.01" stroke="#c9b4f0" stroke-width="2.8"/>
<path d="M1349.6 224.3h.01M1305.1 121.1h.01M1246.6 129.4h.01M1332.2 130.8h.01M1287.1 269.1h.01M1240.1 125.5h.01M1273.6 191h.01M1267 268.4h.01M1279 165.1h.01" stroke="#5030dc" stroke-width="2.8"/>
<path d="M1299 167.2h.01M1222.9 151.6h.01M1225.3 268h.01M1229.8 262.8h.01M1241.3 178h.01M1284.3 246.4h.01M1358.7 219.6h.01M1284.4 190.7h.01M1293 283.2h.01M1300.7 149.3h.01" stroke="#4420da" stroke-width="2"/>
<path d="M1312.1 163h.01M1302.5 226.2h.01M1277.3 125.7h.01M1329.8 264.4h.01" stroke="#d8c8f4" stroke-width="2.4"/>
<path d="M1335.5 174.9h.01M1316.6 209.4h.01M1222.4 221.8h.01M1246.4 256.9h.01M1220.9 255.9h.01M1343.5 182.1h.01M1242.1 170.5h.01M1331.8 126.5h.01M1306.6 129.6h.01M1227.8 169.5h.01M1346.2 187.2h.01M1289.4 233.9h.01M1302.7 157.1h.01M1283 290.4h.01M1208.2 159h.01" stroke="#d8c8f4" stroke-width="1.6"/>
<path d="M1292.3 251.3h.01M1209.1 163.7h.01M1325.6 176.8h.01M1204.1 190.3h.01M1232.6 134h.01M1197.6 206.7h.01M1321.3 205h.01M1198.3 192.5h.01M1197.9 198.7h.01M1278.3 250.4h.01M1297 127.6h.01" stroke="#5030dc" stroke-width="2"/>
<path d="M1331.2 217.9h.01M1228.1 268.4h.01M1355.3 153.8h.01M1226.2 211.2h.01M1330 230.5h.01M1286.3 268.3h.01M1300.3 274.6h.01M1359.4 247.2h.01M1289.8 156.3h.01" stroke="#3a16d6" stroke-width="3.8"/>
<path d="M1323.7 238.1h.01M1347.8 242.4h.01M1240.7 155.9h.01M1313.7 290.5h.01M1234.7 173.7h.01M1232.1 137.1h.01" stroke="#d8c8f4" stroke-width="2.8"/>
<path d="M1198.1 186.4h.01" stroke="#5030dc" stroke-width="3"/>
<path d="M1229.5 274.3h.01M1204.2 239.9h.01M1201.5 217.5h.01" stroke="#4420da" stroke-width="3"/>
<path d="M1214.6 252.8h.01M1216.2 252.9h.01M1210.4 251.3h.01" stroke="#4420da" stroke-width="3.6"/>
<path d="M1215 257.6h.01" stroke="#3a16d6" stroke-width="3"/>
<path d="M1204.2 235.3h.01" stroke="#5030dc" stroke-width="3.6"/>
<path d="M1224.1 266.9h.01M1197.3 212.4h.01" stroke="#3a16d6" stroke-width="3.6"/>
</g>
<circle cx="1287.2" cy="203" r="91.6" fill="none" stroke="#17141f" stroke-width="2.2"/>
<clipPath id="pc3"><circle cx="1094.5" cy="402.3" r="95.6"/></clipPath>
<circle cx="1094.5" cy="402.3" r="95.6" fill="url(#plbg)" stroke="none"/>
<g clip-path="url(#pc3)" stroke-linecap="round">
<rect x="998.9" y="306.7" width="191.2" height="191.2" fill="#5030dc" filter="url(#blot)" opacity="0.8"/>
<path d="M1075.2 358.4h.01M1091.3 391.1h.01M1144.4 437.8h.01M1112.6 314.2h.01M1133.1 400.2h.01M1132.1 438.6h.01M1071.9 344.9h.01M1006.7 417.5h.01M1120.1 454.5h.01M1088.4 488h.01M1045.7 402h.01M1146.3 349.1h.01M1118.5 414.8h.01M1073.7 361.5h.01M1024.1 424.5h.01M1112 348.1h.01" stroke="#c9b4f0" stroke-width="2.3"/>
<path d="M1045.9 342.8h.01M1034.9 417.3h.01M1149.1 391h.01M1031.6 468.6h.01M1100 312.6h.01M1145 371h.01M1094.9 391h.01M1012.9 433.2h.01M1113.7 491.1h.01M1156.3 367.5h.01M1146.8 329h.01M1098.5 449.3h.01M1130.4 317.6h.01M1113.5 335.2h.01M1135.6 487.1h.01M1089.5 422.3h.01M1089 404.6h.01M1084.1 454.4h.01M1122.9 489.7h.01M1069.3 391.4h.01M1030.5 430.7h.01M1119.7 408.2h.01M1136.1 462.7h.01M1140.3 415.3h.01M1016 366.3h.01M1018.1 346.5h.01M1041.6 447.4h.01M1136.4 329.1h.01M1118.2 479.6h.01" stroke="#3a16d6" stroke-width="4.4"/>
<path d="M1179.6 418.5h.01M1144.4 475.8h.01M1070.3 385h.01M1022.8 417.1h.01M1141.7 328.9h.01M1064.1 397.4h.01M1069.4 488.8h.01M1164.2 347.2h.01M1149.5 386h.01M1095.4 341.9h.01M1142.5 435h.01M1025.4 359.3h.01M1084.3 325.9h.01M1026.1 409h.01M1146.8 449h.01M1140.3 387.8h.01M1171.3 443.5h.01M1055.4 334.2h.01M1127.4 482.5h.01M1118.9 337.9h.01M1029 454.7h.01M1056.4 445.8h.01M1147.5 474h.01M1006.9 433.6h.01M1182.1 405.3h.01M1179.8 427.5h.01M1120.6 486.5h.01M1124.5 465h.01" stroke="#5030dc" stroke-width="4.4"/>
<path d="M1142.1 321.1h.01M1030.8 465.8h.01M1098.1 404.5h.01M1096.1 339.9h.01M1105.7 320h.01M1126.8 394.9h.01M1043.6 433h.01M1007.9 414.4h.01M1036 364.8h.01M1010.9 438h.01M1081.4 431.4h.01M1104.3 454h.01M1037.1 360.4h.01M1105 313.5h.01M1084.5 362.5h.01M1004 390h.01M1055.2 346.4h.01M1028.1 381.3h.01M1026.1 464.2h.01M1069.8 398.7h.01M1122.6 395.9h.01M1019 456.2h.01" stroke="#4420da" stroke-width="3.7"/>
<path d="M1116.6 324.1h.01M1148.1 378.3h.01M1071.3 393.7h.01M1106.2 366.9h.01M1163 423.1h.01M1075.9 352.9h.01M1059.6 390.4h.01M1059.7 346.8h.01M1145.9 439.4h.01M1118 368.2h.01M1030 452.5h.01M1063.1 404.1h.01M1028.7 337.9h.01M1067.5 436.1h.01M1156.1 390.6h.01M1085.2 411.8h.01M1113 378h.01M1050.5 429.7h.01M1037.4 402.4h.01M1132.3 441.1h.01M1122.5 383.3h.01M1137.3 452.4h.01M1175.5 353.7h.01M1129.2 375.1h.01M1182.9 430.6h.01M1092 484.9h.01M1051.9 323.1h.01M1108.6 312.5h.01M1037.1 341.3h.01M1055.9 386.9h.01" stroke="#3a16d6" stroke-width="3.7"/>
<path d="M1183.1 391.9h.01M1039.3 378.4h.01M1090.5 454.1h.01M1158.3 451.4h.01M1172.6 359h.01M1122.9 315.2h.01M1071.5 328.4h.01M1140.7 439.5h.01M1073.1 399.8h.01M1173.8 380.3h.01M1137.8 399.1h.01M1075 336.2h.01M1157.1 419.3h.01M1145.3 387.7h.01M1129.3 475.4h.01M1091.9 374.2h.01M1067.7 334.2h.01" stroke="#d8c8f4" stroke-width="2.8"/>
<path d="M1031.4 359.6h.01M1061.9 328.2h.01M1137.4 389.5h.01M1136 378.3h.01M1131.6 325.6h.01M1164.2 370.7h.01M1077.3 391.8h.01M1168.5 380.4h.01M1054.3 351.1h.01M1125 367.4h.01M1175 370.1h.01M1126.3 388.9h.01M1081.7 310h.01M1106.9 443.6h.01M1084.6 439.1h.01M1037 333.8h.01M1010.9 392.4h.01" stroke="#a98ae8" stroke-width="3.2"/>
<path d="M1140.9 454.8h.01M1117.2 484.7h.01M1024.8 418.7h.01M1122.1 491.3h.01M1085.2 407.6h.01M1059.8 344.6h.01M1020 360.9h.01M1056.4 465.3h.01M1052.2 473.4h.01M1110.4 408h.01M1105.5 402.4h.01M1059.2 408.4h.01M1013.2 373.3h.01" stroke="#d8c8f4" stroke-width="2.3"/>
<path d="M1062.9 442.4h.01M1131.4 344.3h.01M1124.4 378.2h.01M1046.2 359.3h.01M1144.1 341.8h.01M1003.6 427.5h.01M1162.4 461.3h.01M1124.8 419.5h.01M1125.9 325.5h.01M1141.5 340.7h.01M1057.4 384.1h.01M1069.3 362.2h.01M1143.3 373.1h.01M1113.3 331.2h.01M1160.9 468.1h.01M1147.5 361.7h.01M1127.1 444.8h.01M1059 349.8h.01M1171.5 356.1h.01M1067.1 409.3h.01M1007.3 385.8h.01M1074.1 466.2h.01M1172.9 367.6h.01M1037.7 408.6h.01M1148.4 409.3h.01M1007.3 367.1h.01M1044.9 327.2h.01M1069.6 446.5h.01M1102.6 491.7h.01" stroke="#4420da" stroke-width="4.4"/>
<path d="M1050.4 379.1h.01M1091 479.1h.01M1089 313.4h.01M1058.6 319.1h.01M1151.4 451.6h.01M1068.1 422.5h.01M1061.5 429.6h.01M1080.7 492.5h.01M1080.9 342.4h.01M1132.7 371.8h.01M1090.7 311.7h.01M1073.7 406h.01M1103.6 346.7h.01M1123.2 362.4h.01M1028.4 335.8h.01M1083.3 324.8h.01M1063.2 314h.01M1030.5 408.4h.01M1127.7 394.8h.01M1097.1 375h.01M1081.3 317.3h.01M1155.1 331.2h.01M1098.8 415.5h.01M1085.8 448.3h.01M1138.1 356.1h.01M1073.2 401.9h.01M1042.5 449h.01M1185.7 423.4h.01M1051.3 404.4h.01M1097.2 456.8h.01M1102.5 401.4h.01" stroke="#5030dc" stroke-width="2.8"/>
<path d="M1154.7 467.4h.01M1063.1 487.1h.01M1108 335.8h.01M1007 406.5h.01M1084.5 377.4h.01M1112.8 360.5h.01M1127.7 419h.01M1168.2 420.3h.01M1105.8 351.5h.01M1111.9 467.4h.01M1138 468.7h.01M1041.7 460h.01M1024.1 383.5h.01M1029.1 457.3h.01M1048 330h.01M1097.2 310.8h.01M1005.4 382.1h.01M1171.5 368.2h.01M1155.8 436.5h.01M1094.3 361.4h.01M1064.9 351.6h.01M1034.1 436h.01M1148.5 470.4h.01M1097.7 312.5h.01M1114.4 317h.01M1058.9 471.4h.01M1051.4 410.9h.01M1043.6 467.1h.01M1065.8 447.7h.01M1032 363.6h.01" stroke="#5030dc" stroke-width="3.7"/>
<path d="M1040.2 337.5h.01M1022.4 450.8h.01M1007.1 387.7h.01M1024 343.9h.01M1043.4 423.9h.01M1098.4 472.4h.01M1137.8 479.8h.01M1108.6 450h.01M1102.4 355.6h.01M1056 399.3h.01M1104.5 412h.01M1131.8 440.6h.01M1169.7 439h.01M1177 358.6h.01M1066.9 470.1h.01M1043.2 451.5h.01M1120.8 360h.01M1185.5 389.9h.01M1041 431.2h.01M1072.5 323.8h.01M1051.9 399.3h.01M1007.6 413.9h.01M1063.1 336.6h.01M1070.2 470.2h.01M1028.4 464.5h.01" stroke="#4420da" stroke-width="3.2"/>
<path d="M1120.3 487.1h.01M1049 457.8h.01M1180.3 396.4h.01M1143.8 329h.01M1092.6 332.4h.01M1004.1 420.5h.01M1050.2 414.9h.01M1176.1 397.5h.01M1143.6 455.2h.01" stroke="#a98ae8" stroke-width="2.3"/>
<path d="M1101.4 491.4h.01M1165.8 352.9h.01M1068.7 367.2h.01M1181.4 375.5h.01M1141.7 471.8h.01M1087.8 366.7h.01M1005.2 417.4h.01M1172.6 442.8h.01M1076.9 357.6h.01M1066.9 451.8h.01M1006.9 371.2h.01M1134.2 442.5h.01M1062.8 393h.01M1036.6 437.1h.01M1163.1 384.5h.01M1099.3 445.1h.01M1117.3 488.6h.01M1032.2 405.1h.01M1146.6 480h.01M1119.1 459.2h.01M1081.5 348.7h.01M1014.9 356.9h.01M1009.9 373.7h.01" stroke="#5030dc" stroke-width="2.3"/>
<path d="M1073.9 355.5h.01M1155.1 426.7h.01M1144.9 394.1h.01M1030.6 336h.01M1178.2 407.1h.01M1107.5 399.3h.01M1157 435.1h.01M1128.5 323.2h.01M1134 407.4h.01M1163.5 412.6h.01M1029.1 354.4h.01M1102.7 479.3h.01M1046.7 334.1h.01M1074.4 470.3h.01M1033.1 427.3h.01M1168.4 438.2h.01M1097.6 491.5h.01M1157.8 469.8h.01M1033.8 436.4h.01M1060.3 324.2h.01M1096.1 349.8h.01M1184.4 379.1h.01M1182.1 387.4h.01M1036.7 474.5h.01M1171.1 421.3h.01M1117.3 438.4h.01M1106.3 384.7h.01M1101.2 392.2h.01M1061.3 377.4h.01M1135.3 367.1h.01M1122.5 402.3h.01M1134 329.3h.01M1071.9 412.1h.01M1091.6 496h.01M1053.7 484.4h.01M1132.5 320.5h.01M1153.8 339.6h.01M1159.7 411.9h.01" stroke="#3a16d6" stroke-width="2.8"/>
<path d="M1010.1 388.1h.01M1016.9 356.2h.01M1036.4 402.6h.01M1100.9 463h.01M1062.1 467.8h.01M1026.9 451.9h.01M1177.1 442.6h.01M1111 413.5h.01M1130 338.7h.01M1053.1 479.7h.01M1137.8 411.2h.01M1108.2 457h.01M1042 382.5h.01M1039.3 421.7h.01M1139.6 406.8h.01M1010.4 409.6h.01M1156 414.1h.01M1027.3 337.1h.01M1062.8 319h.01M1013.6 404h.01M1065.3 409.5h.01M1056.4 327.9h.01M1167.9 411.3h.01M1160.7 426.6h.01M1134.5 465.9h.01M1145.5 468h.01M1043.6 373.6h.01M1070.6 333.2h.01M1095.6 437.1h.01M1132.2 386.7h.01M1166.4 459.4h.01M1102.7 316.6h.01M1024.2 345.9h.01M1080.9 362h.01" stroke="#4420da" stroke-width="2.3"/>
<path d="M1097.1 474.5h.01M1064.8 319.1h.01M1058.8 367.8h.01M1087.4 415.6h.01M1080.9 375.4h.01M1043.1 477.6h.01M1061 348.5h.01M1143 395.3h.01M1047.6 398.9h.01M1038.9 364.3h.01M1045.6 383.6h.01M1147.1 421.8h.01M1165 452.3h.01M1097.9 371.8h.01M1103.5 355.9h.01M1093.6 323.5h.01M1075 320.5h.01M1102.6 445.7h.01M1028.4 449.7h.01M1041.2 418.3h.01M1020.1 446.6h.01M1002.9 412.6h.01M1052.3 415.1h.01" stroke="#3a16d6" stroke-width="3.2"/>
<path d="M1044.6 423.9h.01M1078.6 404.1h.01M1104.8 424.1h.01M1061.8 414.8h.01M1050.8 427.2h.01M1021.4 428.9h.01M1037.6 415.6h.01M1061.5 440.9h.01M1105.3 467.9h.01M1092.4 312.6h.01M1057.6 341.9h.01M1108.3 358.9h.01M1070 322.3h.01M1131.1 361.7h.01M1151.6 472.6h.01M1115.4 494h.01M1025.1 345.1h.01M1054.8 402.3h.01M1084.6 460.5h.01M1036.3 382.3h.01" stroke="#3a16d6" stroke-width="2.3"/>
<path d="M1074.1 455.7h.01M1037.5 424.5h.01M1184.4 412.5h.01M1089.8 469.8h.01M1061.1 353.6h.01M1087.2 345.2h.01M1108.6 450.8h.01M1134.3 458h.01M1105.3 456h.01M1026.1 455.8h.01" stroke="#a98ae8" stroke-width="1.8"/>
<path d="M1158.3 352.5h.01M1057.9 456.2h.01M1135.4 430.8h.01M1094.6 339.8h.01M1110.5 443.7h.01M1101.3 339.6h.01M1128.8 348.6h.01M1135.4 404.6h.01M1052.5 458h.01M1082.4 335.1h.01M1169.3 353.3h.01M1156.2 343.1h.01M1055.7 400.9h.01M1009.5 378.1h.01M1175.7 445.8h.01M1071 348.2h.01" stroke="#c9b4f0" stroke-width="1.8"/>
<path d="M1167.8 370.8h.01M1040.4 474.3h.01M1152.7 401.9h.01M1120 340.5h.01M1093.4 399.7h.01M1120.5 422.6h.01M1004.3 375.8h.01M1167.3 461.2h.01M1099.6 494.4h.01M1162 439.7h.01M1149.4 361h.01M1092.4 464.3h.01M1116.3 336.9h.01M1104.1 326.1h.01M1090.1 312.9h.01M1137.8 377.6h.01M1110.9 473h.01M1142.2 475.4h.01M1103.3 453.7h.01M1161.3 421.2h.01M1090.6 411.2h.01M1082.5 315.8h.01M1100.7 388h.01M1073.9 365.8h.01M1159.3 470.3h.01M1035.9 400.7h.01M1046.3 361.1h.01M1009.5 379.1h.01M1088.6 442.6h.01M1065.7 389.9h.01" stroke="#4420da" stroke-width="2.8"/>
<path d="M1132.6 342h.01M1021.9 345.5h.01M1119.8 384.7h.01M1122.1 417.6h.01M1141.5 442.1h.01M1116.8 459h.01M1156.8 384h.01M1009 407.6h.01M1027.1 396.5h.01M1086.2 342.5h.01M1109.2 377.1h.01M1151.1 353.6h.01M1110.9 489.4h.01M1041.9 465.3h.01" stroke="#b79cec" stroke-width="2.3"/>
<path d="M1179.4 418.7h.01M1178.6 432.1h.01M1040.3 393.1h.01M1071.1 479.2h.01M1117.2 311.6h.01M1004.6 415.5h.01M1093.4 400.8h.01M1067 484.7h.01M1092.4 318.3h.01M1114.2 479.2h.01M1066.8 339h.01M1078.7 477.4h.01M1168.6 422h.01M1079.8 409.1h.01M1087.7 392.2h.01M1007.4 367.7h.01M1117.6 422.7h.01M1171 379.4h.01" stroke="#b79cec" stroke-width="2.8"/>
<path d="M1126.3 320.6h.01M1020.7 456.8h.01M1089.6 308.5h.01M1034.2 472.7h.01M1119 314.8h.01M1065.5 336.6h.01M1019 351.4h.01M1111.3 349.8h.01M1006 376.4h.01M1054.1 323.3h.01M1106.3 477.4h.01M1043.1 335.1h.01M1008.6 421.3h.01M1177.2 388.5h.01M1108.1 384.9h.01M1161 358h.01M1120.7 406.9h.01M1062.7 356.9h.01M1129.9 487h.01M1024.1 437.3h.01M1183.5 384.9h.01M1074.5 396.6h.01M1048.8 434.5h.01M1153.3 379.9h.01M1067.8 464.2h.01" stroke="#5030dc" stroke-width="3.2"/>
<path d="M1069.8 481.5h.01M1009.3 366.4h.01M1139.2 389.9h.01M1094 469.1h.01M1062.9 451.3h.01M1078 345.7h.01M1051.3 330h.01M1142.6 400.3h.01M1011 430h.01M1114.1 389.6h.01M1066.4 375.6h.01M1177.2 360.2h.01M1030.8 340.2h.01M1044.7 400.4h.01M1105.7 410.8h.01M1145.6 419.3h.01" stroke="#b79cec" stroke-width="3.2"/>
<path d="M1004.2 410h.01M1092.1 489.5h.01M1150.1 333.2h.01M1109.3 309.8h.01M1114.9 408.1h.01M1016 399.7h.01M1063.3 317.7h.01M1061.1 478.3h.01M1090.2 374.6h.01M1094.4 318.4h.01M1179.1 431.5h.01M1119.3 369.8h.01M1032.5 400.7h.01M1061.1 344.8h.01M1180.7 427.9h.01M1132.8 428.4h.01M1082.9 415.8h.01" stroke="#c9b4f0" stroke-width="2.8"/>
<path d="M1075.5 411.7h.01M1135.8 341.4h.01M1106.1 429.7h.01M1157.6 360.9h.01M1168.8 349.9h.01M1039.8 329.5h.01M1093.8 346h.01M1064.4 360.2h.01" stroke="#b79cec" stroke-width="1.8"/>
<path d="M1145.4 410.8h.01M1106.5 310.5h.01M1027.3 371.8h.01M1142 391.7h.01M1084.3 457.2h.01M1080.9 416.1h.01M1124.6 489.1h.01M1105.2 338h.01M1161.4 362.9h.01M1031.9 364.9h.01M1100.9 404.5h.01M1045.2 482.5h.01M1172.5 350.4h.01M1144.2 482.1h.01M1015.1 385.8h.01M1064.5 472.9h.01M1106.6 487.3h.01M1069 429.9h.01M1122.4 411h.01M1171.2 409.5h.01" stroke="#d8c8f4" stroke-width="3.2"/>
<path d="M1013.8 367.1h.01M1016.2 376h.01M1144.1 390h.01M1047.3 408.3h.01M1145.8 399.5h.01M1033.5 406.5h.01M1117.7 493.2h.01M1157.7 387.8h.01M1167.3 364.3h.01M1014.8 437.1h.01M1143.5 474.8h.01M1012 368.8h.01M1051.9 456.9h.01M1148.5 331h.01" stroke="#d8c8f4" stroke-width="1.8"/>
<path d="M1122.2 462.7h.01M1099.8 308.3h.01M1159.5 385.9h.01M1039.5 377.1h.01M1032.6 334.6h.01M1086.3 353.8h.01M1060.2 417.2h.01M1116.3 463.9h.01M1082.3 416.4h.01M1065.3 389.5h.01M1108.1 435.9h.01M1126.4 436.6h.01M1015.1 362.8h.01" stroke="#a98ae8" stroke-width="2.8"/>
<path d="M1074.7 406.4h.01M1136.9 482.2h.01M1024.2 410.3h.01M1047.7 444.8h.01M1138.2 482.7h.01M1059.8 348.2h.01M1136 486.3h.01M1107.3 314.5h.01M1108.4 422h.01M1009.3 364.4h.01M1037.2 381.5h.01M1016.9 421.1h.01M1106.8 407.9h.01M1139.7 406.2h.01M1176.3 355.9h.01" stroke="#c9b4f0" stroke-width="3.2"/>
<path d="M1182 426.1h.01M1181.2 424.2h.01M1187.7 415.7h.01M1176.5 444h.01M1187.3 420h.01M1177 439.5h.01M1112.3 309.9h.01M1116.7 313.4h.01M1171.3 357.1h.01M1097.9 311h.01M1077.6 309.8h.01M1129 319.2h.01M1151 332.8h.01M1056.9 486.8h.01M1068.3 492.1h.01M1080.7 494.5h.01M1030.7 464.5h.01M1068.6 488.3h.01M1161.5 465.8h.01" stroke="#3a16d6" stroke-width="3.6"/>
<path d="M1183.9 385.5h.01M1178.1 443.1h.01M1185.1 421.4h.01M1185.9 402.5h.01M1179 439.9h.01M1162.1 464.5h.01M1169.8 453.9h.01M1164.5 460.3h.01M1171.2 448.8h.01M1178.4 443.3h.01M1153.3 332.6h.01M1110.9 309.5h.01M1150.9 330.5h.01M1033.3 469.7h.01M1072.5 490.1h.01M1026.9 463.2h.01M1116.4 493.9h.01M1145 477.1h.01M1135.3 483h.01M1158.3 470.2h.01M1106.7 495.8h.01M1134.9 483.7h.01" stroke="#3a16d6" stroke-width="3"/>
<path d="M1167.9 455.3h.01M1177.1 440.7h.01M1181.7 428h.01M1171 454.4h.01M1177.4 442.5h.01M1183.9 419.1h.01M1150.8 328.5h.01M1161.2 342h.01M1133.2 320.7h.01M1170.4 350.4h.01M1025.7 341.8h.01M1136.1 321.5h.01M1149.6 329.8h.01M1040.5 473.5h.01M1050.8 483.6h.01M1011.5 435.1h.01M1056.1 485h.01M1010.8 437.8h.01M1018.7 457.8h.01M1039.6 477.8h.01M1103.9 493.1h.01M1094.3 494.8h.01M1133.8 482.6h.01M1104 493h.01M1115.1 491.3h.01M1150.7 474.1h.01" stroke="#5030dc" stroke-width="2.4"/>
<path d="M1181.8 428.4h.01M1186.1 412.9h.01M1179.4 441.6h.01M1180.7 431.6h.01M1126.7 316.7h.01M1111.8 314.7h.01M1024.5 338.8h.01M1041.4 324.7h.01M1134.5 319.1h.01M1091.3 311.6h.01M1111.6 314.6h.01M1116.9 315h.01M1123.7 312.8h.01M1001 413h.01M1126.2 485.5h.01M1098.5 493.8h.01M1008.9 430.2h.01M1018.1 447.8h.01M1124.4 491h.01M1103.8 493.7h.01M1081.5 493.6h.01M1067.9 492.8h.01" stroke="#4420da" stroke-width="3"/>
<path d="M1171.5 455.6h.01M1182.4 387.3h.01M1181.6 433.6h.01M1182.4 427.8h.01M1185.6 425h.01M1128 318.2h.01M1133.2 320.4h.01M1094.2 312.3h.01M1154 333.7h.01M1101.2 309.4h.01M1098.5 312h.01M1089.9 309.3h.01M1176.7 358.9h.01M1136.4 318.6h.01M1148.3 324.7h.01M1038.2 472.6h.01M1066.4 489.6h.01M1026.6 462.4h.01M1144 477.1h.01M1156.6 470.8h.01M1093.3 491.6h.01M1138.5 484.6h.01M1135.5 486.3h.01" stroke="#5030dc" stroke-width="3"/>
<path d="M1182.5 430.3h.01M1186.7 403.7h.01M1172.2 447.5h.01M1184 427.6h.01M1051.3 318.2h.01M1097.8 308.3h.01M1135.4 319.5h.01M1104.2 313.4h.01M1132.2 317.3h.01M1143.9 323.3h.01M1031.5 472.2h.01M1008.5 437.1h.01M1095 495h.01M1116.2 492.9h.01M1098.9 496.1h.01M1103 492.4h.01M1086 491.2h.01M1110.5 491.8h.01" stroke="#3a16d6" stroke-width="2.4"/>
<path d="M1159.7 466.3h.01M1182.5 426.3h.01M1184.6 389h.01M1187 393.8h.01M1183.3 392.8h.01M1088.5 311.5h.01M1089.7 313.5h.01M1116.3 314.5h.01M1089.1 311.2h.01M1140.5 319.9h.01M1035.8 473.6h.01M1044.7 477h.01M1051.8 486.3h.01M1102.4 495.6h.01M1104.8 495h.01M1043.8 482.1h.01M1157.1 470.7h.01" stroke="#4420da" stroke-width="3.6"/>
<path d="M1185.9 424.3h.01M1172.6 447.3h.01M1186.2 418.9h.01M1173.8 443.7h.01M1188 400.5h.01M1170.1 453.4h.01M1185.4 426.8h.01M1119.2 314.7h.01M1148 326h.01M1158.2 338.7h.01M1140.8 324.2h.01M1179.2 363.4h.01M1114.2 311.1h.01M1047.6 323.3h.01M1154.1 331.2h.01M1017.7 454.2h.01M1055.3 483h.01M1026 464.2h.01M1016.1 455.2h.01M1036.4 474.1h.01M1143.6 478.9h.01M1115.4 491h.01M1108 494.4h.01" stroke="#4420da" stroke-width="2.4"/>
<path d="M1188.1 406.9h.01M1176.2 442.6h.01M1182.3 380.3h.01M1167.1 346.7h.01M1126.6 318.5h.01M1115.7 312.6h.01M1177.6 370.6h.01M1109.4 314.5h.01M1047 483h.01M1091.6 491.4h.01M1011.6 435.5h.01M1018.7 448.8h.01M1134.2 485.9h.01M1125.5 488.2h.01M1120.6 489.2h.01M1117.6 488.5h.01M1125.7 487.5h.01M1103.1 492.6h.01M1127.6 485.2h.01M1082.7 491.4h.01" stroke="#5030dc" stroke-width="3.6"/>
</g>
<circle cx="1094.5" cy="402.3" r="93.6" fill="none" stroke="#17141f" stroke-width="4"/>
<clipPath id="pc4"><circle cx="1288.4" cy="406.5" r="92"/></clipPath>
<circle cx="1288.4" cy="406.5" r="92" fill="url(#plbg)" stroke="none"/>
<g clip-path="url(#pc4)" stroke-linecap="round">
<path d="M1271.3 382.3h.01M1371.6 375.9h.01M1270.1 494.5h.01M1251.4 378.2h.01M1352.1 384.4h.01M1246.8 341h.01M1290.2 367.7h.01M1220.4 417.6h.01M1242 342.7h.01M1262.8 397.1h.01M1361.5 411.6h.01" stroke="#a98ae8" stroke-width="2.4"/>
<path d="M1203.8 424.5h.01M1368.1 390.2h.01M1294.3 370.8h.01M1247.9 353.8h.01M1198.9 396.7h.01M1296.2 389.4h.01M1324.5 436.9h.01M1220.4 352.3h.01M1367.1 436.4h.01M1367.5 367.8h.01" stroke="#d8c8f4" stroke-width="1.6"/>
<path d="M1269.7 449.1h.01M1354.9 348.7h.01M1265 488.8h.01M1346.4 415.4h.01M1284.8 447.1h.01M1259 381.8h.01" stroke="#a98ae8" stroke-width="2"/>
<path d="M1282.6 442.4h.01M1274.4 476.7h.01M1275.8 495.6h.01M1329 350.9h.01M1305.8 471.4h.01M1262.6 485.1h.01M1205.5 387.5h.01M1360.8 457.6h.01M1268.5 371h.01M1233.2 459.4h.01" stroke="#3a16d6" stroke-width="2"/>
<path d="M1340.1 339h.01M1258.6 372.8h.01M1279.2 381.3h.01M1282 430h.01M1199.2 411.6h.01M1322.9 445.4h.01" stroke="#5030dc" stroke-width="3.2"/>
<path d="M1204.4 413.6h.01M1341.5 392.8h.01M1371.5 421.3h.01M1313.9 434.7h.01M1337.2 477.5h.01M1306 321.3h.01M1216.2 455h.01M1240.9 385.1h.01M1315 449.7h.01M1211.5 369.6h.01M1203.1 377.7h.01M1348.4 386h.01M1265.1 364.9h.01M1375.7 425.1h.01M1293.4 397h.01M1307.9 433.2h.01M1368.5 386.6h.01M1310.5 492.5h.01" stroke="#a98ae8" stroke-width="2.8"/>
<path d="M1216.8 450.7h.01M1322 440.8h.01M1306 357.1h.01M1230.6 355h.01M1287.9 317h.01M1365.8 361h.01M1212.3 394.5h.01M1260.5 342.7h.01" stroke="#b79cec" stroke-width="2.8"/>
<path d="M1227.1 392.9h.01M1249.9 347.6h.01M1238.1 443h.01M1349.1 391.8h.01M1352.7 366.8h.01M1199.8 415.2h.01M1359.9 422.2h.01M1298.8 492.2h.01M1263.3 376.4h.01" stroke="#d8c8f4" stroke-width="2.8"/>
<path d="M1338 440.1h.01M1301.2 490.2h.01M1268 342h.01M1308.5 389.2h.01M1300.3 379.1h.01M1337 347.1h.01M1343.8 349.3h.01M1306.4 492.3h.01M1285.6 400.7h.01M1233.5 463.9h.01M1308.6 486.9h.01M1251 357.9h.01" stroke="#c9b4f0" stroke-width="2.8"/>
<path d="M1365.5 440.7h.01M1336.3 371.2h.01M1357.4 451.2h.01M1211.9 377.8h.01M1340.1 417.4h.01M1330.5 439h.01M1347.1 403.8h.01M1256.7 459.3h.01" stroke="#5030dc" stroke-width="2.8"/>
<path d="M1260.1 489.6h.01M1279.1 422.3h.01M1320.6 388.3h.01M1368.9 420.1h.01" stroke="#5030dc" stroke-width="3.8"/>
<path d="M1241.1 446.7h.01M1347.5 379.8h.01M1245.4 378.3h.01M1255.5 473.1h.01M1280.7 341h.01M1236.1 419.2h.01M1318.4 358h.01M1312.3 336.7h.01M1222.4 402.4h.01" stroke="#4420da" stroke-width="2"/>
<path d="M1293.2 376.3h.01M1263.8 449h.01M1268.8 431.6h.01M1297.8 443.8h.01M1219.3 457.1h.01M1244.3 363h.01M1214.1 368.3h.01M1225.2 351.6h.01M1264.7 333h.01M1294.9 398.8h.01M1225.2 356.5h.01" stroke="#4420da" stroke-width="3.8"/>
<path d="M1287.5 390.4h.01M1235.2 341.6h.01M1252 440.2h.01M1338.1 384h.01M1290.1 385.7h.01M1279.3 344h.01M1340.8 403.1h.01M1240.4 415.8h.01M1356.2 458.2h.01M1278.6 435.2h.01" stroke="#c9b4f0" stroke-width="2"/>
<path d="M1289.9 493.2h.01M1211.9 366.3h.01M1369.9 408h.01M1271.2 338.3h.01M1334.2 439.5h.01M1244 333.3h.01M1302.2 365h.01M1355.7 352.8h.01M1352 350.3h.01" stroke="#d8c8f4" stroke-width="2.4"/>
<path d="M1307 426.3h.01M1276.3 495.6h.01M1322 442.4h.01M1373 426.9h.01M1317.6 432.9h.01M1360.6 364.8h.01M1373.9 426.6h.01M1375.9 428.5h.01" stroke="#3a16d6" stroke-width="2.4"/>
<path d="M1244.1 393.7h.01M1355 389h.01M1370.3 427.2h.01M1298 329.8h.01M1257.7 399h.01M1244.4 395.2h.01M1303.3 395.8h.01M1233.2 392.6h.01M1305.7 448.2h.01M1223.6 451.9h.01M1240.9 378.3h.01M1324.8 333.2h.01" stroke="#3a16d6" stroke-width="2.8"/>
<path d="M1222.1 443.7h.01M1283.3 431.8h.01M1224.3 460.9h.01M1239.9 340.6h.01M1320.6 382.4h.01M1233.6 420.4h.01M1326.8 330h.01M1308.3 434.1h.01M1289.3 480.6h.01M1241.4 414.8h.01M1320.8 418.5h.01M1238.8 344.4h.01" stroke="#b79cec" stroke-width="2"/>
<path d="M1369.4 415.3h.01M1267.1 443.1h.01M1221 401.7h.01M1298.4 435.2h.01M1326.5 432.1h.01M1244.4 384.8h.01M1335.7 466h.01M1319.6 477h.01" stroke="#a98ae8" stroke-width="1.6"/>
<path d="M1309 397.4h.01M1225.4 342.3h.01M1302.5 456.2h.01M1326.5 410.9h.01M1217.2 367.4h.01M1373.6 387h.01M1279.7 378.3h.01M1350.2 349.1h.01M1230.4 414.6h.01M1275.3 330.6h.01M1307.7 485.3h.01" stroke="#b79cec" stroke-width="1.6"/>
<path d="M1330.1 364.5h.01M1288.8 406.6h.01M1262.3 358.4h.01M1216.1 351.3h.01M1304.5 490.9h.01M1291.7 338.9h.01M1289.7 406.4h.01M1208.1 375.5h.01M1263.9 416.4h.01M1338.6 475.4h.01M1256.4 443.6h.01M1350.9 469.9h.01M1309.3 381.1h.01M1247.4 332.7h.01M1249.7 392.7h.01M1273.4 475.2h.01" stroke="#c9b4f0" stroke-width="1.6"/>
<path d="M1344.5 342.4h.01M1275.9 491.5h.01M1265 327.2h.01M1251.7 462.1h.01M1287.2 487.5h.01M1217.2 352.7h.01M1325.5 347.8h.01M1310 350.6h.01M1325.5 487.4h.01M1306.7 384.5h.01M1326.5 441.5h.01M1311.4 319.2h.01M1288.5 428.1h.01" stroke="#b79cec" stroke-width="2.4"/>
<path d="M1353.9 461.8h.01M1311 479.9h.01M1319.9 484.5h.01M1218.9 465h.01M1365.9 399.5h.01M1334.1 477.3h.01M1260 424.4h.01" stroke="#4420da" stroke-width="3.2"/>
<path d="M1223.2 443h.01M1336.8 339.8h.01M1293 494.5h.01M1231.4 340.5h.01M1341.3 396.6h.01M1296.9 409.2h.01M1213.5 385.3h.01M1298.1 470h.01M1288.2 461.2h.01M1201 401.7h.01M1324.1 422.8h.01" stroke="#3a16d6" stroke-width="3.2"/>
<path d="M1344.3 432.1h.01M1368 377.8h.01M1219.7 409h.01M1294.9 409.1h.01M1268.1 395.9h.01M1304.3 403.8h.01M1223.2 402.3h.01M1369 443.9h.01M1361.7 406.5h.01M1326.5 335h.01M1347.1 469h.01" stroke="#5030dc" stroke-width="2.4"/>
<path d="M1329.9 405.7h.01M1325.5 331.7h.01M1285.7 447.9h.01M1256.4 465.4h.01M1296.3 452.4h.01M1298.6 413.2h.01M1231.6 371.8h.01M1305.5 326.6h.01M1268.2 472.5h.01" stroke="#c9b4f0" stroke-width="2.4"/>
<path d="M1220.7 389.8h.01M1306.9 414.7h.01M1313.2 337h.01M1247.4 470.6h.01M1225.1 471.4h.01M1228.8 462h.01M1264.9 366.2h.01M1279.4 455.6h.01M1374.2 393.4h.01M1373.9 395.3h.01M1350.1 442.4h.01" stroke="#d8c8f4" stroke-width="2"/>
<path d="M1306.4 408.2h.01M1301.3 408.6h.01M1375.6 389.1h.01M1223.5 407h.01M1236.5 454.2h.01M1258.5 415.9h.01M1306.9 479.1h.01M1378.9 409h.01M1360.3 455.5h.01" stroke="#4420da" stroke-width="2.4"/>
<path d="M1274 454.1h.01M1314.9 362.7h.01M1340.5 429.9h.01M1240.3 481.2h.01M1342.1 403.4h.01" stroke="#5030dc" stroke-width="2"/>
<path d="M1330.9 423.3h.01M1351.3 378.4h.01M1241.5 405.7h.01M1288.1 349.8h.01M1333.2 347.5h.01M1305 430h.01M1273.4 465.8h.01M1284.1 343.7h.01M1243.4 329.8h.01" stroke="#4420da" stroke-width="2.8"/>
<path d="M1340.6 336.3h.01M1358.7 459.5h.01M1302.8 432.9h.01M1296.7 475.2h.01M1264 349.5h.01M1259.5 417.6h.01M1242.5 389.6h.01M1204.6 427.2h.01M1376.9 412.6h.01M1216.4 364.5h.01M1278.4 491h.01" stroke="#3a16d6" stroke-width="3.8"/>
<path d="M1349.6 469.1h.01M1333.2 483.1h.01" stroke="#3a16d6" stroke-width="3.6"/>
<path d="M1340.1 478.1h.01M1373.5 423h.01M1365.2 448.7h.01" stroke="#3a16d6" stroke-width="3"/>
<path d="M1311.7 492.5h.01M1362.8 455.1h.01M1375 411.6h.01" stroke="#4420da" stroke-width="3.6"/>
<path d="M1374.1 411.6h.01" stroke="#4420da" stroke-width="3"/>
<path d="M1349.8 466.6h.01" stroke="#5030dc" stroke-width="3.6"/>
</g>
<circle cx="1288.4" cy="406.5" r="90.9" fill="none" stroke="#17141f" stroke-width="2.2"/>
<text x="1072" y="162.2" font-size="31.5">Ctrl</text>
<text x="1239.5" y="162.2" font-size="31.5">Ctrl+</text>
<text x="1239.5" y="202.3" font-size="32.5" font-style="italic">shHif1a</text>
<text x="1143" y="318.2" font-size="35.6">MLE12</text>
<text x="1041" y="390.9" font-size="32.5" font-style="italic">Rnf20+/-</text>
<text x="1218.5" y="390.9" font-size="32.5" font-style="italic">Rnf20+/-</text>
<text x="1218.5" y="429.7" font-size="32.5" font-style="italic">shHif1a</text>
<text font-size="33" text-anchor="middle" transform="translate(1420 291) rotate(-90)">Number of colonies</text>
<path d="M1508 150.8L1508 451.5" stroke-width="3.4"/>
<path d="M1491 152.5L1508 152.5" stroke-width="3.4"/>
<text x="1488" y="163" font-size="29.2" text-anchor="end">800</text>
<path d="M1491 226.5L1508 226.5" stroke-width="3.4"/>
<text x="1488" y="237" font-size="29.2" text-anchor="end">600</text>
<path d="M1491 300.8L1508 300.8" stroke-width="3.4"/>
<text x="1488" y="311.3" font-size="29.2" text-anchor="end">400</text>
<path d="M1491 375.3L1508 375.3" stroke-width="3.4"/>
<text x="1488" y="385.8" font-size="29.2" text-anchor="end">200</text>
<path d="M1491 449.8L1508 449.8" stroke-width="3.4"/>
<text x="1488" y="460.3" font-size="29.2" text-anchor="end">0</text>
<rect x="1528.1" y="412.8" width="32.3" height="37" fill="#7f7f7f" stroke="#000" stroke-width="3.8"/>
<rect x="1582.3" y="411.6" width="32.3" height="38.2" fill="#aa0ce0" stroke="#000" stroke-width="3.8"/>
<rect x="1637.2" y="258.1" width="32.3" height="191.7" fill="#ff8080" stroke="#000" stroke-width="3.8"/>
<rect x="1692.1" y="406.5" width="32.3" height="43.3" fill="#00c000" stroke="#000" stroke-width="3.8"/>
<path d="M1490.5 449.8L1747 449.8" stroke-width="3.4"/>
<path d="M1543.3 449.8L1543.3 464.5" stroke-width="2.6"/>
<path d="M1598.6 449.8L1598.6 464.5" stroke-width="2.6"/>
<path d="M1652.9 449.8L1652.9 464.5" stroke-width="2.6"/>
<path d="M1707.7 449.8L1707.7 464.5" stroke-width="2.6"/>
<path d="M1544.3 406.5V414M1536.3 406.5H1552.3M1536.3 414H1552.3" fill="none" stroke-width="2"/>
<path d="M1598.8 407.2V417.3M1590.8 407.2H1606.8M1590.8 417.3H1606.8" fill="none" stroke-width="2"/>
<path d="M1653.9 227V286.6M1645.9 227H1661.9M1645.9 286.6H1661.9" fill="none" stroke-width="2"/>
<path d="M1707.9 397.2V413.3M1699.9 397.2H1715.9M1699.9 413.3H1715.9" fill="none" stroke-width="2"/>
<circle cx="1531.7" cy="413.3" r="5" fill="#fff" stroke="#000" stroke-width="2"/>
<circle cx="1544.3" cy="404.7" r="5" fill="#fff" stroke="#000" stroke-width="2"/>
<circle cx="1556.8" cy="409.8" r="5" fill="#fff" stroke="#000" stroke-width="2"/>
<circle cx="1586" cy="408.2" r="5" fill="#fff" stroke="#000" stroke-width="2"/>
<circle cx="1586" cy="418.3" r="5" fill="#fff" stroke="#000" stroke-width="2"/>
<circle cx="1608.6" cy="409.8" r="5" fill="#fff" stroke="#000" stroke-width="2"/>
<circle cx="1653.9" cy="227.2" r="5" fill="#fff" stroke="#000" stroke-width="2"/>
<circle cx="1653.9" cy="260.4" r="5" fill="#fff" stroke="#000" stroke-width="2"/>
<circle cx="1653.9" cy="284" r="5" fill="#fff" stroke="#000" stroke-width="2"/>
<circle cx="1707.7" cy="394.7" r="5" fill="#fff" stroke="#000" stroke-width="2"/>
<circle cx="1696.6" cy="411.3" r="5" fill="#fff" stroke="#000" stroke-width="2"/>
<circle cx="1720.7" cy="406.2" r="5" fill="#fff" stroke="#000" stroke-width="2"/>
<path d="M1542.3 399.7L1542.3 179.5L1649.9 179.5L1649.9 198.6" fill="none" stroke-width="1.6"/>
<path d="M1657.9 213.7L1657.9 198.6L1708.2 198.6L1708.2 384.6" fill="none" stroke-width="1.6"/>
<text x="1544.3" y="172.4" font-size="22.4">p&lt;0.0001</text>
<text x="1657.9" y="187" font-size="22.4">p&lt;0.0001</text>
<rect x="46.6" y="517.8" width="26.6" height="26.6" fill="#7f7f7f" stroke="none"/>
<text x="85" y="544.2" font-size="32.8" font-style="italic">Ctrl shCtrl</text>
<rect x="259.8" y="517.8" width="26.6" height="26.6" fill="#76069a" stroke="none"/>
<text x="297.5" y="544.2" font-size="32.8" font-style="italic">Ctrl shHif1α</text>
<rect x="487" y="517.8" width="27.1" height="27.1" fill="#ff8080" stroke="none"/>
<text x="525" y="544.2" font-size="32.8" font-style="italic">Rnf20+/- shCtrl</text>
<rect x="773.7" y="517.8" width="27.1" height="27.1" fill="#00c000" stroke="none"/>
<text x="810.5" y="544.2" font-size="32.8" font-style="italic">Rnf20+/- shHif1α</text>
<text x="-2" y="600" font-size="65">c</text>
<text font-size="33.1" text-anchor="middle" transform="translate(74 756.3) rotate(-90)">Migrated cells per field</text>
<path d="M154.7 584.2L154.7 924.4" stroke-width="3.2"/>
<path d="M138.7 585.8L154.7 585.8" stroke-width="3.2"/>
<text x="132" y="595.3" font-size="26.4" text-anchor="end">250</text>
<path d="M138.7 654L154.7 654" stroke-width="3.2"/>
<text x="132" y="663.5" font-size="26.4" text-anchor="end">200</text>
<path d="M138.7 721.7L154.7 721.7" stroke-width="3.2"/>
<text x="132" y="731.2" font-size="26.4" text-anchor="end">150</text>
<path d="M138.7 788.7L154.7 788.7" stroke-width="3.2"/>
<text x="132" y="798.2" font-size="26.4" text-anchor="end">100</text>
<path d="M138.7 855.9L154.7 855.9" stroke-width="3.2"/>
<text x="132" y="865.4" font-size="26.4" text-anchor="end">50</text>
<path d="M138.7 922.8L154.7 922.8" stroke-width="3.2"/>
<text x="132" y="932.3" font-size="26.4" text-anchor="end">0</text>
<rect x="174.2" y="806.2" width="33.5" height="116.6" fill="#7f7f7f" stroke="#000" stroke-width="3.4"/>
<rect x="229.4" y="811.2" width="33.5" height="111.6" fill="#aa0ce0" stroke="#000" stroke-width="3.4"/>
<rect x="285" y="649" width="33.5" height="273.8" fill="#ff8080" stroke="#000" stroke-width="3.4"/>
<rect x="340.2" y="771.8" width="33.5" height="151" fill="#00c000" stroke="#000" stroke-width="3.4"/>
<path d="M138.7 922.8L395 922.8" stroke-width="3.2"/>
<path d="M191 792.7V815.8M182.2 792.7H199.8M182.2 815.8H199.8" fill="none" stroke-width="2"/>
<path d="M246 798.7V819M237.2 798.7H254.8M237.2 819H254.8" fill="none" stroke-width="2"/>
<path d="M301.4 618.4V675.8M292.6 618.4H310.2M292.6 675.8H310.2" fill="none" stroke-width="2"/>
<path d="M356.6 748V790.7M347.8 748H365.4M347.8 790.7H365.4" fill="none" stroke-width="2"/>
<circle cx="177.5" cy="788.7" r="4.9" fill="#fff" stroke="#000" stroke-width="2.1"/>
<circle cx="191" cy="795.7" r="4.9" fill="#fff" stroke="#000" stroke-width="2.1"/>
<circle cx="190.6" cy="807.7" r="4.9" fill="#fff" stroke="#000" stroke-width="2.1"/>
<circle cx="177.5" cy="816.3" r="4.9" fill="#fff" stroke="#000" stroke-width="2.1"/>
<circle cx="203.6" cy="815.3" r="4.9" fill="#fff" stroke="#000" stroke-width="2.1"/>
<circle cx="232.7" cy="795.7" r="4.9" fill="#fff" stroke="#000" stroke-width="2.1"/>
<circle cx="259" cy="802.7" r="4.9" fill="#fff" stroke="#000" stroke-width="2.1"/>
<circle cx="232.7" cy="808.7" r="4.9" fill="#fff" stroke="#000" stroke-width="2.1"/>
<circle cx="259" cy="818.3" r="4.9" fill="#fff" stroke="#000" stroke-width="2.1"/>
<circle cx="232.7" cy="821.3" r="4.9" fill="#fff" stroke="#000" stroke-width="2.1"/>
<circle cx="301.4" cy="614.7" r="4.9" fill="#fff" stroke="#000" stroke-width="2.1"/>
<circle cx="301.4" cy="626.4" r="4.9" fill="#fff" stroke="#000" stroke-width="2.1"/>
<circle cx="301.4" cy="643.5" r="4.9" fill="#fff" stroke="#000" stroke-width="2.1"/>
<circle cx="301.4" cy="667.3" r="4.9" fill="#fff" stroke="#000" stroke-width="2.1"/>
<circle cx="301.4" cy="684.6" r="4.9" fill="#fff" stroke="#000" stroke-width="2.1"/>
<circle cx="356.6" cy="746" r="4.9" fill="#fff" stroke="#000" stroke-width="2.1"/>
<circle cx="370.4" cy="756" r="4.9" fill="#fff" stroke="#000" stroke-width="2.1"/>
<circle cx="343" cy="762.6" r="4.9" fill="#fff" stroke="#000" stroke-width="2.1"/>
<circle cx="356.6" cy="786.2" r="4.9" fill="#fff" stroke="#000" stroke-width="2.1"/>
<circle cx="356.6" cy="796.2" r="4.9" fill="#fff" stroke="#000" stroke-width="2.1"/>
<path d="M189.8 768.1L189.8 588.3L297.6 588.3L297.6 605.1" fill="none" stroke-width="1.6"/>
<path d="M307.2 605.1L307.2 588.3L354.8 588.3L354.8 733" fill="none" stroke-width="1.6"/>
<text x="191" y="578" font-size="22.6">p &lt; 0.0001</text>
<text x="308.9" y="578" font-size="22.6">p &lt; 0.0001</text>
<text x="421.5" y="609.5" font-size="66">d</text>
<text font-size="33.2" text-anchor="middle" transform="translate(448.5 771) rotate(-90)">ECAR(mph/min)</text>
<path d="M533.6 594L533.6 937" stroke-width="3.6"/>
<path d="M518.6 595.8L533.6 595.8" stroke-width="3.6"/>
<text x="513.4" y="605.9" font-size="28.2" text-anchor="end">200</text>
<path d="M518.6 677.6L533.6 677.6" stroke-width="3.6"/>
<text x="513.4" y="687.7" font-size="28.2" text-anchor="end">150</text>
<path d="M518.6 759.4L533.6 759.4" stroke-width="3.6"/>
<text x="513.4" y="769.5" font-size="28.2" text-anchor="end">100</text>
<path d="M518.6 841.2L533.6 841.2" stroke-width="3.6"/>
<text x="513.4" y="851.3" font-size="28.2" text-anchor="end">50</text>
<path d="M518.6 923L533.6 923" stroke-width="3.6"/>
<text x="513.4" y="933.1" font-size="28.2" text-anchor="end">0</text>
<path d="M518.5 923L1059.2 923" stroke-width="3.6"/>
<path d="M533.6 923L533.6 937" stroke-width="3.6"/>
<text x="533.6" y="967" font-size="28.4" text-anchor="middle">0</text>
<path d="M638.3 923L638.3 937" stroke-width="3.6"/>
<text x="638.3" y="967" font-size="28.4" text-anchor="middle">20</text>
<path d="M743 923L743 937" stroke-width="3.6"/>
<text x="743" y="967" font-size="28.4" text-anchor="middle">40</text>
<path d="M847.7 923L847.7 937" stroke-width="3.6"/>
<text x="847.7" y="967" font-size="28.4" text-anchor="middle">60</text>
<path d="M952.4 923L952.4 937" stroke-width="3.6"/>
<text x="952.4" y="967" font-size="28.4" text-anchor="middle">80</text>
<path d="M1057.1 923L1057.1 937" stroke-width="3.6"/>
<text x="1057.1" y="967" font-size="28.4" text-anchor="middle">100</text>
<text x="822" y="994.5" font-size="32.9" text-anchor="middle">Time (minutes)</text>
<path d="M631.6 709L631.6 911.5" stroke-width="1.5" stroke-dasharray="5.2 3.4"/>
<path d="M762 670.5L759 908" stroke-width="1.5" stroke-dasharray="5.2 3.4"/>
<path d="M897.9 625.5L897.9 911.5" stroke-width="1.5" stroke-dasharray="5.2 3.4"/>
<path d="M540 855.4L585 858.8L631.2 858L674.8 750.5L719.8 741.1L763.9 738.6L810.1 621.3L855 617L899.6 623.4L944.5 849L989.9 858.8L1034.8 864" fill="none" stroke-width="5.2" stroke="#ff8080" stroke-linejoin="round"/>
<path d="M540 871.7L585 869.5L631.2 868.3L674.8 801.9L719.8 787.4L763.9 779.7L810.1 691.9L855 702.6L899.6 709L944.5 860.1L989.9 865.3L1034.8 868.3" fill="none" stroke-width="5.2" stroke="#6a0d94" stroke-linejoin="round"/>
<path d="M540 877.3L585 880.3L631.2 879.4L674.8 769L719.8 769L763.9 762.5L810.1 677.8L855 681.2L899.6 685.5L944.5 881.5L989.9 884.5L1034.8 885.8" fill="none" stroke-width="5.2" stroke="#00c000" stroke-linejoin="round"/>
<path d="M532.5 872.3h15l-7.5 12z" fill="#00c000" stroke="none"/>
<path d="M577.5 875.3h15l-7.5 12z" fill="#00c000" stroke="none"/>
<path d="M623.7 874.4h15l-7.5 12z" fill="#00c000" stroke="none"/>
<path d="M667.3 764h15l-7.5 12z" fill="#00c000" stroke="none"/>
<path d="M712.3 764h15l-7.5 12z" fill="#00c000" stroke="none"/>
<path d="M756.4 757.5h15l-7.5 12z" fill="#00c000" stroke="none"/>
<path d="M802.6 672.8h15l-7.5 12z" fill="#00c000" stroke="none"/>
<path d="M847.5 676.2h15l-7.5 12z" fill="#00c000" stroke="none"/>
<path d="M892.1 680.5h15l-7.5 12z" fill="#00c000" stroke="none"/>
<path d="M937 876.5h15l-7.5 12z" fill="#00c000" stroke="none"/>
<path d="M982.4 879.5h15l-7.5 12z" fill="#00c000" stroke="none"/>
<path d="M1027.3 880.8h15l-7.5 12z" fill="#00c000" stroke="none"/>
<path d="M540 871.7L585 871.7L631.2 870.4L674.8 787.4L719.8 770.2L763.9 762.5L810.1 659.8L855 663.2L899.6 669.2L944.5 869.6L989.9 874.7L1034.8 880.3" fill="none" stroke-width="5.2" stroke="#3c3c3c" stroke-linejoin="round"/>
<path d="M540 849.4V861.4M534.5 849.4H545.5M534.5 861.4H545.5" fill="none" stroke-width="3"/>
<path d="M585 852.8V864.8M579.5 852.8H590.5M579.5 864.8H590.5" fill="none" stroke-width="3"/>
<path d="M631.2 852V864M625.7 852H636.7M625.7 864H636.7" fill="none" stroke-width="3"/>
<path d="M674.8 749V752M669.3 749H680.3M669.3 752H680.3" fill="none" stroke-width="3"/>
<path d="M719.8 738.1V744.1M714.3 738.1H725.3M714.3 744.1H725.3" fill="none" stroke-width="3"/>
<path d="M763.9 733.6V743.6M758.4 733.6H769.4M758.4 743.6H769.4" fill="none" stroke-width="3"/>
<path d="M810.1 619.3V623.3M804.6 619.3H815.6M804.6 623.3H815.6" fill="none" stroke-width="3"/>
<path d="M855 604V630M849.5 604H860.5M849.5 630H860.5" fill="none" stroke-width="3"/>
<path d="M899.6 611.4V635.4M894.1 611.4H905.1M894.1 635.4H905.1" fill="none" stroke-width="3"/>
<path d="M944.5 839V859M939 839H950M939 859H950" fill="none" stroke-width="3"/>
<path d="M989.9 851.8V865.8M984.4 851.8H995.4M984.4 865.8H995.4" fill="none" stroke-width="3"/>
<path d="M1034.8 859V869M1029.3 859H1040.3M1029.3 869H1040.3" fill="none" stroke-width="3"/>
<path d="M540 861.7V881.7M534.5 861.7H545.5M534.5 881.7H545.5" fill="none" stroke-width="3"/>
<path d="M585 861.5V877.5M579.5 861.5H590.5M579.5 877.5H590.5" fill="none" stroke-width="3"/>
<path d="M631.2 860.3V876.3M625.7 860.3H636.7M625.7 876.3H636.7" fill="none" stroke-width="3"/>
<path d="M674.8 788.9V814.9M669.3 788.9H680.3M669.3 814.9H680.3" fill="none" stroke-width="3"/>
<path d="M719.8 779.4V795.4M714.3 779.4H725.3M714.3 795.4H725.3" fill="none" stroke-width="3"/>
<path d="M763.9 765.7V793.7M758.4 765.7H769.4M758.4 793.7H769.4" fill="none" stroke-width="3"/>
<path d="M810.1 676.9V706.9M804.6 676.9H815.6M804.6 706.9H815.6" fill="none" stroke-width="3"/>
<path d="M855 683.6V721.6M849.5 683.6H860.5M849.5 721.6H860.5" fill="none" stroke-width="3"/>
<path d="M899.6 688V730M894.1 688H905.1M894.1 730H905.1" fill="none" stroke-width="3"/>
<path d="M944.5 848.1V872.1M939 848.1H950M939 872.1H950" fill="none" stroke-width="3"/>
<path d="M989.9 855.3V875.3M984.4 855.3H995.4M984.4 875.3H995.4" fill="none" stroke-width="3"/>
<path d="M1034.8 862.3V874.3M1029.3 862.3H1040.3M1029.3 874.3H1040.3" fill="none" stroke-width="3"/>
<path d="M540 866.7V876.7M534.5 866.7H545.5M534.5 876.7H545.5" fill="none" stroke-width="3" stroke="#3c3c3c"/>
<path d="M585 866.7V876.7M579.5 866.7H590.5M579.5 876.7H590.5" fill="none" stroke-width="3" stroke="#3c3c3c"/>
<path d="M631.2 865.4V875.4M625.7 865.4H636.7M625.7 875.4H636.7" fill="none" stroke-width="3" stroke="#3c3c3c"/>
<path d="M674.8 784.4V790.4M669.3 784.4H680.3M669.3 790.4H680.3" fill="none" stroke-width="3" stroke="#3c3c3c"/>
<path d="M719.8 768.2V772.2M714.3 768.2H725.3M714.3 772.2H725.3" fill="none" stroke-width="3" stroke="#3c3c3c"/>
<path d="M763.9 756.5V768.5M758.4 756.5H769.4M758.4 768.5H769.4" fill="none" stroke-width="3" stroke="#3c3c3c"/>
<path d="M810.1 656.8V662.8M804.6 656.8H815.6M804.6 662.8H815.6" fill="none" stroke-width="3" stroke="#3c3c3c"/>
<path d="M855 654.2V672.2M849.5 654.2H860.5M849.5 672.2H860.5" fill="none" stroke-width="3" stroke="#3c3c3c"/>
<path d="M899.6 663.2V675.2M894.1 663.2H905.1M894.1 675.2H905.1" fill="none" stroke-width="3" stroke="#3c3c3c"/>
<path d="M944.5 861.6V877.6M939 861.6H950M939 877.6H950" fill="none" stroke-width="3" stroke="#3c3c3c"/>
<path d="M989.9 869.7V879.7M984.4 869.7H995.4M984.4 879.7H995.4" fill="none" stroke-width="3" stroke="#3c3c3c"/>
<path d="M1034.8 877.3V883.3M1029.3 877.3H1040.3M1029.3 883.3H1040.3" fill="none" stroke-width="3" stroke="#3c3c3c"/>
<path d="M540 867.3V887.3M534.5 867.3H545.5M534.5 887.3H545.5" fill="none" stroke-width="3"/>
<path d="M585 874.3V886.3M579.5 874.3H590.5M579.5 886.3H590.5" fill="none" stroke-width="3"/>
<path d="M631.2 873.4V885.4M625.7 873.4H636.7M625.7 885.4H636.7" fill="none" stroke-width="3"/>
<path d="M674.8 767V771M669.3 767H680.3M669.3 771H680.3" fill="none" stroke-width="3"/>
<path d="M719.8 767V771M714.3 767H725.3M714.3 771H725.3" fill="none" stroke-width="3"/>
<path d="M763.9 758.5V766.5M758.4 758.5H769.4M758.4 766.5H769.4" fill="none" stroke-width="3"/>
<path d="M810.1 673.8V681.8M804.6 673.8H815.6M804.6 681.8H815.6" fill="none" stroke-width="3"/>
<path d="M855 677.2V685.2M849.5 677.2H860.5M849.5 685.2H860.5" fill="none" stroke-width="3"/>
<path d="M899.6 681.5V689.5M894.1 681.5H905.1M894.1 689.5H905.1" fill="none" stroke-width="3"/>
<path d="M944.5 878.5V884.5M939 878.5H950M939 884.5H950" fill="none" stroke-width="3"/>
<path d="M989.9 882.5V886.5M984.4 882.5H995.4M984.4 886.5H995.4" fill="none" stroke-width="3"/>
<path d="M1034.8 883.8V887.8M1029.3 883.8H1040.3M1029.3 887.8H1040.3" fill="none" stroke-width="3"/>
<text x="560.5" y="702.6" font-size="26">Glucose</text>
<text x="636.7" y="656.4" font-size="26">Oligomycin</text>
<text x="894.4" y="592.2" font-size="25.6">2-DG</text>
<text x="641.9" y="730.4" font-size="23">p = 0.0015</text>
<text x="763.9" y="595.6" font-size="23">p = 0.0443</text>
<text x="1049" y="609.5" font-size="65.5">e</text>
<text font-size="33.3" text-anchor="middle" transform="translate(1101 744.7) rotate(-90)">2-DG6P (pmol)</text>
<path d="M1168.8 609.6L1168.8 939" stroke-width="3.6"/>
<path d="M1153.8 611.4L1168.8 611.4" stroke-width="3.6"/>
<text x="1151" y="621.4" font-size="28" text-anchor="end">60</text>
<path d="M1153.8 719.9L1168.8 719.9" stroke-width="3.6"/>
<text x="1151" y="729.9" font-size="28" text-anchor="end">40</text>
<path d="M1153.8 828.5L1168.8 828.5" stroke-width="3.6"/>
<text x="1151" y="838.5" font-size="28" text-anchor="end">20</text>
<path d="M1153.8 937.2L1168.8 937.2" stroke-width="3.6"/>
<text x="1151" y="947.2" font-size="28" text-anchor="end">0</text>
<rect x="1189.2" y="785.6" width="32.3" height="151.6" fill="#7f7f7f" stroke="#000" stroke-width="3.6"/>
<rect x="1242.4" y="786.9" width="32.3" height="150.3" fill="#aa0ce0" stroke="#000" stroke-width="3.6"/>
<rect x="1296.8" y="673.4" width="32.3" height="263.8" fill="#ff8080" stroke="#000" stroke-width="3.6"/>
<rect x="1350.7" y="790" width="32.3" height="147.2" fill="#00c000" stroke="#000" stroke-width="3.6"/>
<path d="M1153.8 937.2L1403.3 937.2" stroke-width="3.6"/>
<path d="M1205.4 780.5V783.5M1198.4 780.5H1212.4M1198.4 783.5H1212.4" fill="none" stroke-width="1.8"/>
<path d="M1258.9 782.3V784.3M1251.9 782.3H1265.9M1251.9 784.3H1265.9" fill="none" stroke-width="1.8"/>
<path d="M1312.8 668V671.5M1305.8 668H1319.8M1305.8 671.5H1319.8" fill="none" stroke-width="1.8"/>
<path d="M1367 784V788.5M1360 784H1374M1360 788.5H1374" fill="none" stroke-width="1.8"/>
<circle cx="1192.6" cy="782.4" r="4.9" fill="#fff" stroke="#000" stroke-width="2.1"/>
<circle cx="1205" cy="780.7" r="4.9" fill="#fff" stroke="#000" stroke-width="2.1"/>
<circle cx="1217.8" cy="782" r="4.9" fill="#fff" stroke="#000" stroke-width="2.1"/>
<circle cx="1246.5" cy="783.3" r="4.9" fill="#fff" stroke="#000" stroke-width="2.1"/>
<circle cx="1258.9" cy="783.3" r="4.9" fill="#fff" stroke="#000" stroke-width="2.1"/>
<circle cx="1271.7" cy="783.3" r="4.9" fill="#fff" stroke="#000" stroke-width="2.1"/>
<circle cx="1300.4" cy="670.7" r="4.9" fill="#fff" stroke="#000" stroke-width="2.1"/>
<circle cx="1312.8" cy="668.1" r="4.9" fill="#fff" stroke="#000" stroke-width="2.1"/>
<circle cx="1325.1" cy="670.3" r="4.9" fill="#fff" stroke="#000" stroke-width="2.1"/>
<circle cx="1354.7" cy="788.6" r="4.9" fill="#fff" stroke="#000" stroke-width="2.1"/>
<circle cx="1366.6" cy="784.2" r="4.9" fill="#fff" stroke="#000" stroke-width="2.1"/>
<circle cx="1379" cy="786" r="4.9" fill="#fff" stroke="#000" stroke-width="2.1"/>
<path d="M1203.7 760.8L1203.7 621.7L1311.4 621.7L1311.4 641.6" fill="none" stroke-width="1.6"/>
<path d="M1318 639.4L1318 621.7L1364.4 621.7L1364.4 759.5" fill="none" stroke-width="1.6"/>
<text x="1203.2" y="609.6" font-size="23">p&lt;0.0001</text>
<text x="1318.6" y="609.6" font-size="23">p&lt;0.0001</text>
<text x="1432" y="610.5" font-size="65.5">f</text>
<text font-size="33.4" text-anchor="middle" transform="translate(1460 762) rotate(-90)">Lactate (µM)</text>
<path d="M1519 607.7L1519 939.9" stroke-width="3.2"/>
<path d="M1503 609.3L1519 609.3" stroke-width="3.2"/>
<text x="1501.3" y="618.9" font-size="26.6" text-anchor="end">30</text>
<path d="M1503 718.8L1519 718.8" stroke-width="3.2"/>
<text x="1501.3" y="728.4" font-size="26.6" text-anchor="end">20</text>
<path d="M1503 828.4L1519 828.4" stroke-width="3.2"/>
<text x="1501.3" y="838" font-size="26.6" text-anchor="end">10</text>
<path d="M1503 938.3L1519 938.3" stroke-width="3.2"/>
<text x="1501.3" y="947.9" font-size="26.6" text-anchor="end">0</text>
<rect x="1538.3" y="796.5" width="32.1" height="141.8" fill="#7f7f7f" stroke="#000" stroke-width="3.4"/>
<rect x="1592.7" y="816.4" width="32.1" height="121.9" fill="#aa0ce0" stroke="#000" stroke-width="3.4"/>
<rect x="1646.5" y="665.3" width="32.1" height="273" fill="#ff8080" stroke="#000" stroke-width="3.4"/>
<rect x="1700.8" y="820.8" width="32.1" height="117.5" fill="#00c000" stroke="#000" stroke-width="3.4"/>
<path d="M1502.6 938.3L1753 938.3" stroke-width="3.2"/>
<path d="M1554.7 769.6V816M1546.2 769.6H1563.2M1546.2 816H1563.2" fill="none" stroke-width="2"/>
<path d="M1608.6 801.4V827.9M1600.1 801.4H1617.1M1600.1 827.9H1617.1" fill="none" stroke-width="2"/>
<path d="M1662.5 654.8V673.8M1654 654.8H1671M1654 673.8H1671" fill="none" stroke-width="2"/>
<path d="M1716.8 803.6V833.7M1708.3 803.6H1725.3M1708.3 833.7H1725.3" fill="none" stroke-width="2"/>
<circle cx="1554.7" cy="769.6" r="4.9" fill="#fff" stroke="#000" stroke-width="2.1"/>
<circle cx="1542.4" cy="806.3" r="4.9" fill="#fff" stroke="#000" stroke-width="2.1"/>
<circle cx="1566.7" cy="805" r="4.9" fill="#fff" stroke="#000" stroke-width="2.1"/>
<circle cx="1596.7" cy="805" r="4.9" fill="#fff" stroke="#000" stroke-width="2.1"/>
<circle cx="1620.5" cy="809.4" r="4.9" fill="#fff" stroke="#000" stroke-width="2.1"/>
<circle cx="1608.6" cy="830.1" r="4.9" fill="#fff" stroke="#000" stroke-width="2.1"/>
<circle cx="1662.5" cy="650.4" r="4.9" fill="#fff" stroke="#000" stroke-width="2.1"/>
<circle cx="1650.6" cy="671.2" r="4.9" fill="#fff" stroke="#000" stroke-width="2.1"/>
<circle cx="1674" cy="666.7" r="4.9" fill="#fff" stroke="#000" stroke-width="2.1"/>
<circle cx="1704.9" cy="808.5" r="4.9" fill="#fff" stroke="#000" stroke-width="2.1"/>
<circle cx="1728.7" cy="810.3" r="4.9" fill="#fff" stroke="#000" stroke-width="2.1"/>
<circle cx="1716.8" cy="837.2" r="4.9" fill="#fff" stroke="#000" stroke-width="2.1"/>
<path d="M1552.1 749.8L1552.1 609.8L1659.4 609.8L1659.4 630.5" fill="none" stroke-width="1.6"/>
<path d="M1666.9 628.3L1666.9 609.8L1713.7 609.8L1713.7 828" fill="none" stroke-width="1.6"/>
<text x="1553.4" y="600.5" font-size="22.6">p&lt;0.0001</text>
<text x="1669.6" y="600.5" font-size="22.6">p&lt;0.0001</text>
<defs><filter id="bb1" x="-30%" y="-100%" width="160%" height="300%"><feGaussianBlur stdDeviation="1"/></filter><filter id="bb2" x="-30%" y="-100%" width="160%" height="300%"><feGaussianBlur stdDeviation="2"/></filter><filter id="bb3" x="-30%" y="-100%" width="160%" height="300%"><feGaussianBlur stdDeviation="3"/></filter><filter id="bb4" x="-30%" y="-100%" width="160%" height="300%"><feGaussianBlur stdDeviation="4"/></filter><filter id="bb6" x="-30%" y="-100%" width="160%" height="300%"><feGaussianBlur stdDeviation="6"/></filter></defs>
<text x="-2" y="1022.8" font-size="65">g</text>
<text font-size="32.5" transform="translate(153 1057) rotate(-44)">Normoxia</text>
<text font-size="32.5" transform="translate(228 1057) rotate(-44)">Hypoxia</text>
<text x="271.6" y="1052.1" font-size="31.5">kDa</text>
<clipPath id="bl1"><rect x="127.4" y="1059.9" width="141.8" height="67.7"/></clipPath>
<linearGradient id="gbl1" x1="0" y1="0" x2="0" y2="1"><stop offset="0" stop-color="#dedede"/><stop offset="1" stop-color="#d2d2d2"/></linearGradient>
<rect x="127.4" y="1059.9" width="141.8" height="67.7" fill="url(#gbl1)" stroke="none"/>
<g clip-path="url(#bl1)" stroke="none">
<ellipse cx="168" cy="1093" rx="32" ry="8" fill="#888" opacity="0.5" filter="url(#bb6)"/>
<ellipse cx="172" cy="1100" rx="24" ry="7" fill="#999" opacity="0.35" filter="url(#bb6)"/>
<ellipse cx="234" cy="1090" rx="21" ry="5.5" fill="#222" opacity="0.8" filter="url(#bb4)"/>
<ellipse cx="232" cy="1097" rx="26" ry="9" fill="#555" opacity="0.4" filter="url(#bb6)"/>
</g>
<rect x="128.9" y="1061.4" width="138.8" height="64.7" fill="none" stroke="#111" stroke-width="3"/>
<clipPath id="bl2"><rect x="127.4" y="1132.8" width="141.8" height="68.5"/></clipPath>
<linearGradient id="gbl2" x1="0" y1="0" x2="0" y2="1"><stop offset="0" stop-color="#b8b8b8"/><stop offset="1" stop-color="#a9a9a9"/></linearGradient>
<rect x="127.4" y="1132.8" width="141.8" height="68.5" fill="url(#gbl2)" stroke="none"/>
<g clip-path="url(#bl2)" stroke="none">
<ellipse cx="166" cy="1164" rx="24" ry="7.5" fill="#111" opacity="0.9" filter="url(#bb4)"/>
<ellipse cx="231" cy="1165" rx="23" ry="6.8" fill="#111" opacity="0.85" filter="url(#bb4)"/>
</g>
<rect x="128.9" y="1134.3" width="138.8" height="65.5" fill="none" stroke="#111" stroke-width="3"/>
<text x="121" y="1107.2" font-size="32.5" text-anchor="end">γ-H2Ax</text>
<text x="121" y="1165.9" font-size="32.5" text-anchor="end">α-Tub</text>
<path d="M266.8 1091.4L274.1 1091.4" stroke-width="2.4"/>
<text x="281.5" y="1100.9" font-size="24" font-weight="bold">15</text>
<path d="M266.8 1168.4L274.1 1168.4" stroke-width="2.4"/>
<text x="281.5" y="1179.4" font-size="24" font-weight="bold">52</text>
<text font-size="33" transform="translate(165.5 1309) rotate(-45)">Ctrl</text>
<text font-size="32.5" font-style="italic" transform="translate(254 1308) rotate(-45)">Rnf20+/-</text>
<text font-size="32.5" font-style="italic" transform="translate(327 1294) rotate(-45)">Rnf20+/-</text>
<text font-size="32.5" font-style="italic" transform="translate(362 1314) rotate(-45)">shHif1a</text>
<text x="395.6" y="1320" font-size="31.5">kDa</text>
<clipPath id="bl3"><rect x="123.8" y="1318.9" width="264.1" height="65.2"/></clipPath>
<linearGradient id="gbl3" x1="0" y1="0" x2="0" y2="1"><stop offset="0" stop-color="#e6e6e6"/><stop offset="1" stop-color="#dedede"/></linearGradient>
<rect x="123.8" y="1318.9" width="264.1" height="65.2" fill="url(#gbl3)" stroke="none"/>
<g clip-path="url(#bl3)" stroke="none">
<ellipse cx="264" cy="1354" rx="26" ry="5.5" fill="#000" opacity="0.95" filter="url(#bb3)"/>
<ellipse cx="262" cy="1362" rx="22" ry="5" fill="#666" opacity="0.3" filter="url(#bb4)"/>
</g>
<rect x="125.3" y="1320.4" width="261.1" height="62.2" fill="none" stroke="#111" stroke-width="3"/>
<clipPath id="bl4"><rect x="123.8" y="1387" width="264.1" height="66"/></clipPath>
<linearGradient id="gbl4" x1="0" y1="0" x2="0" y2="1"><stop offset="0" stop-color="#e8e8e8"/><stop offset="1" stop-color="#e2e2e2"/></linearGradient>
<rect x="123.8" y="1387" width="264.1" height="66" fill="url(#gbl4)" stroke="none"/>
<g clip-path="url(#bl4)" stroke="none">
<ellipse cx="240" cy="1422" rx="22" ry="8" fill="#000" opacity="0.97" filter="url(#bb3)"/>
<ellipse cx="265" cy="1423" rx="12" ry="5" fill="#222" opacity="0.7" filter="url(#bb4)"/>
<ellipse cx="322" cy="1424" rx="11" ry="4" fill="#666" opacity="0.35" filter="url(#bb4)"/>
</g>
<rect x="125.3" y="1388.5" width="261.1" height="63" fill="none" stroke="#111" stroke-width="3"/>
<clipPath id="bl5"><rect x="123.8" y="1456" width="264.1" height="56"/></clipPath>
<linearGradient id="gbl5" x1="0" y1="0" x2="0" y2="1"><stop offset="0" stop-color="#dadada"/><stop offset="1" stop-color="#d0d0d0"/></linearGradient>
<rect x="123.8" y="1456" width="264.1" height="56" fill="url(#gbl5)" stroke="none"/>
<g clip-path="url(#bl5)" stroke="none">
<ellipse cx="169.5" cy="1484" rx="37" ry="8.5" fill="#000" opacity="1" filter="url(#bb3)"/>
<ellipse cx="252" cy="1484" rx="36" ry="9" fill="#000" opacity="1" filter="url(#bb3)"/>
<ellipse cx="336" cy="1484" rx="32.5" ry="7.5" fill="#000" opacity="1" filter="url(#bb3)"/>
</g>
<rect x="125.3" y="1457.5" width="261.1" height="53" fill="none" stroke="#111" stroke-width="3"/>
<text x="109.4" y="1369.5" font-size="32.5" text-anchor="end">HIF1α</text>
<text x="109.4" y="1431.9" font-size="32.5" text-anchor="end">γ-H2Ax</text>
<text x="109.4" y="1490.6" font-size="32.5" text-anchor="end">α-Tub</text>
<path d="M387.2 1358.5L394.5 1358.5" stroke-width="2.4"/>
<text x="402.5" y="1369.5" font-size="24" font-weight="bold">120</text>
<path d="M387.2 1423.9L394.5 1423.9" stroke-width="2.4"/>
<text x="402.5" y="1433.8" font-size="24" font-weight="bold">15</text>
<path d="M387.2 1486.2L394.5 1486.2" stroke-width="2.4"/>
<text x="402.5" y="1494.3" font-size="24" font-weight="bold">52</text>
<rect x="706.1" y="1038.5" width="32.2" height="24.4" fill="#7f7f7f" stroke="none"/>
<text x="755" y="1059.9" font-size="33" font-style="italic">Ctrl</text>
<rect x="838" y="1038.5" width="32.2" height="24.4" fill="#f0b477" stroke="none"/>
<text x="887" y="1059.9" font-size="33"><tspan font-style="italic">Ctrl</tspan> WZB117</text>
<rect x="1098.5" y="1038.5" width="32.2" height="24.4" fill="#ff8080" stroke="none"/>
<text x="1140" y="1059.9" font-size="33" font-style="italic">Rnf20+/-</text>
<rect x="1289" y="1038.5" width="32.2" height="24.4" fill="#5858f8" stroke="none"/>
<text x="1336" y="1059.9" font-size="33"><tspan font-style="italic">Rnf20+/-</tspan> WZB117</text>
<text x="492" y="1074.9" font-size="65">h</text>
<text font-size="34" text-anchor="middle" transform="translate(514 1285.5) rotate(-90)">ECAR(mpH/min)</text>
<path d="M602.6 1113.6L602.6 1472" stroke-width="4"/>
<path d="M590.6 1115.6L602.6 1115.6" stroke-width="4"/>
<text x="586.3" y="1126.9" font-size="31.6" text-anchor="end">160</text>
<path d="M590.6 1202.1L602.6 1202.1" stroke-width="4"/>
<text x="586.3" y="1213.4" font-size="31.6" text-anchor="end">120</text>
<path d="M590.6 1289L602.6 1289" stroke-width="4"/>
<text x="586.3" y="1300.3" font-size="31.6" text-anchor="end">80</text>
<path d="M590.6 1375L602.6 1375" stroke-width="4"/>
<text x="586.3" y="1386.3" font-size="31.6" text-anchor="end">40</text>
<path d="M590.6 1461L602.6 1461" stroke-width="4"/>
<text x="586.3" y="1472.3" font-size="31.6" text-anchor="end">0</text>
<path d="M590.6 1461L1094.8 1461" stroke-width="4"/>
<path d="M602.6 1461L602.6 1472" stroke-width="4"/>
<text x="602.6" y="1505.1" font-size="31.6" text-anchor="middle">0</text>
<path d="M700.6 1461L700.6 1472" stroke-width="4"/>
<text x="700.6" y="1505.1" font-size="31.6" text-anchor="middle">20</text>
<path d="M798.6 1461L798.6 1472" stroke-width="4"/>
<text x="798.6" y="1505.1" font-size="31.6" text-anchor="middle">40</text>
<path d="M896.7 1461L896.7 1472" stroke-width="4"/>
<text x="896.7" y="1505.1" font-size="31.6" text-anchor="middle">60</text>
<path d="M994.7 1461L994.7 1472" stroke-width="4"/>
<text x="994.7" y="1505.1" font-size="31.6" text-anchor="middle">80</text>
<path d="M1092.7 1461L1092.7 1472" stroke-width="4"/>
<text x="1092.7" y="1505.1" font-size="31.6" text-anchor="middle">100</text>
<text x="848" y="1545.8" font-size="33.2" text-anchor="middle">Time (minutes)</text>
<path d="M692.4 1241.9L692.4 1443" stroke-width="1.5" stroke-dasharray="5.2 3.4"/>
<path d="M818.7 1201.2L816.6 1438.8" stroke-width="1.5" stroke-dasharray="5.2 3.4"/>
<path d="M943.7 1092L943.7 1443" stroke-width="1.5" stroke-dasharray="5.2 3.4"/>
<path d="M608.5 1393.8L651.4 1396L692.4 1397.3L735.3 1284.7L776.8 1272.7L818.7 1275.3L861.1 1141.3L903.1 1144.3L943.7 1140.4L987.4 1353.2L1028.5 1368.2L1071.3 1379.7" fill="none" stroke-width="5.2" stroke="#ff8080" stroke-linejoin="round"/>
<path d="M608.5 1383.8V1403.8M603 1383.8H614M603 1403.8H614" fill="none" stroke-width="3.4"/>
<path d="M651.4 1383V1409M645.9 1383H656.9M645.9 1409H656.9" fill="none" stroke-width="3.4"/>
<path d="M692.4 1382.3V1412.3M686.9 1382.3H697.9M686.9 1412.3H697.9" fill="none" stroke-width="3.4"/>
<path d="M735.3 1260.7V1308.7M729.8 1260.7H740.8M729.8 1308.7H740.8" fill="none" stroke-width="3.4"/>
<path d="M776.8 1254.7V1290.7M771.3 1254.7H782.3M771.3 1290.7H782.3" fill="none" stroke-width="3.4"/>
<path d="M818.7 1258.3V1292.3M813.2 1258.3H824.2M813.2 1292.3H824.2" fill="none" stroke-width="3.4"/>
<path d="M861.1 1121.3V1161.3M855.6 1121.3H866.6M855.6 1161.3H866.6" fill="none" stroke-width="3.4"/>
<path d="M903.1 1126.3V1162.3M897.6 1126.3H908.6M897.6 1162.3H908.6" fill="none" stroke-width="3.4"/>
<path d="M943.7 1119.4V1161.4M938.2 1119.4H949.2M938.2 1161.4H949.2" fill="none" stroke-width="3.4"/>
<path d="M987.4 1324.2V1382.2M981.9 1324.2H992.9M981.9 1382.2H992.9" fill="none" stroke-width="3.4"/>
<path d="M1028.5 1350.2V1386.2M1023 1350.2H1034M1023 1386.2H1034" fill="none" stroke-width="3.4"/>
<path d="M1071.3 1366.7V1392.7M1065.8 1366.7H1076.8M1065.8 1392.7H1076.8" fill="none" stroke-width="3.4"/>
<path d="M608.5 1432.4L651.4 1434.5L692.4 1433.2L735.3 1360.9L776.8 1356.6L818.7 1348.9L861.1 1292.4L903.1 1295.4L943.7 1292.4L987.4 1436.6L1028.5 1437.5L1071.3 1438.8" fill="none" stroke-width="5.2" stroke="#f0b477" stroke-linejoin="round"/>
<path d="M608.5 1424.4V1440.4M603 1424.4H614M603 1440.4H614" fill="none" stroke-width="3.2" stroke="#f0b477"/>
<path d="M651.4 1426.5V1442.5M645.9 1426.5H656.9M645.9 1442.5H656.9" fill="none" stroke-width="3.2" stroke="#f0b477"/>
<path d="M692.4 1425.2V1441.2M686.9 1425.2H697.9M686.9 1441.2H697.9" fill="none" stroke-width="3.2" stroke="#f0b477"/>
<path d="M735.3 1354.9V1366.9M729.8 1354.9H740.8M729.8 1366.9H740.8" fill="none" stroke-width="3.2" stroke="#f0b477"/>
<path d="M776.8 1351.6V1361.6M771.3 1351.6H782.3M771.3 1361.6H782.3" fill="none" stroke-width="3.2" stroke="#f0b477"/>
<path d="M818.7 1342.9V1354.9M813.2 1342.9H824.2M813.2 1354.9H824.2" fill="none" stroke-width="3.2" stroke="#f0b477"/>
<path d="M861.1 1273.4V1311.4M855.6 1273.4H866.6M855.6 1311.4H866.6" fill="none" stroke-width="3.2" stroke="#f0b477"/>
<path d="M903.1 1275.4V1315.4M897.6 1275.4H908.6M897.6 1315.4H908.6" fill="none" stroke-width="3.2" stroke="#f0b477"/>
<path d="M943.7 1269.4V1315.4M938.2 1269.4H949.2M938.2 1315.4H949.2" fill="none" stroke-width="3.2" stroke="#f0b477"/>
<path d="M987.4 1429.6V1443.6M981.9 1429.6H992.9M981.9 1443.6H992.9" fill="none" stroke-width="3.2" stroke="#f0b477"/>
<path d="M1028.5 1430.5V1444.5M1023 1430.5H1034M1023 1444.5H1034" fill="none" stroke-width="3.2" stroke="#f0b477"/>
<path d="M1071.3 1431.8V1445.8M1065.8 1431.8H1076.8M1065.8 1445.8H1076.8" fill="none" stroke-width="3.2" stroke="#f0b477"/>
<path d="M608.5 1408.8L651.4 1408L692.4 1406.7L735.3 1323.2L776.8 1318.9L818.7 1320.2L861.1 1197.8L903.1 1199.1L943.7 1199.9L987.4 1413.1L1028.5 1419.5L1071.3 1422.9" fill="none" stroke-width="5.2" stroke="#666" stroke-linejoin="round"/>
<path d="M608.5 1402.8V1414.8M603 1402.8H614M603 1414.8H614" fill="none" stroke-width="3.2" stroke="#666"/>
<path d="M651.4 1402V1414M645.9 1402H656.9M645.9 1414H656.9" fill="none" stroke-width="3.2" stroke="#666"/>
<path d="M692.4 1400.7V1412.7M686.9 1400.7H697.9M686.9 1412.7H697.9" fill="none" stroke-width="3.2" stroke="#666"/>
<path d="M735.3 1295.2V1351.2M729.8 1295.2H740.8M729.8 1351.2H740.8" fill="none" stroke-width="3.2" stroke="#666"/>
<path d="M776.8 1290.9V1346.9M771.3 1290.9H782.3M771.3 1346.9H782.3" fill="none" stroke-width="3.2" stroke="#666"/>
<path d="M818.7 1294.2V1346.2M813.2 1294.2H824.2M813.2 1346.2H824.2" fill="none" stroke-width="3.2" stroke="#666"/>
<path d="M861.1 1167.8V1227.8M855.6 1167.8H866.6M855.6 1227.8H866.6" fill="none" stroke-width="3.2" stroke="#666"/>
<path d="M903.1 1169.1V1229.1M897.6 1169.1H908.6M897.6 1229.1H908.6" fill="none" stroke-width="3.2" stroke="#666"/>
<path d="M943.7 1169.9V1229.9M938.2 1169.9H949.2M938.2 1229.9H949.2" fill="none" stroke-width="3.2" stroke="#666"/>
<path d="M987.4 1403.1V1423.1M981.9 1403.1H992.9M981.9 1423.1H992.9" fill="none" stroke-width="3.2" stroke="#666"/>
<path d="M1028.5 1410.5V1428.5M1023 1410.5H1034M1023 1428.5H1034" fill="none" stroke-width="3.2" stroke="#666"/>
<path d="M1071.3 1417.9V1427.9M1065.8 1417.9H1076.8M1065.8 1427.9H1076.8" fill="none" stroke-width="3.2" stroke="#666"/>
<path d="M608.5 1419.5L651.4 1420.4L692.4 1418.7L735.3 1320.2L776.8 1317.6L818.7 1319.8L861.1 1228.2L903.1 1225.6L943.7 1225.6L987.4 1422.5L1028.5 1421.7L1071.3 1423.8" fill="none" stroke-width="5.2" stroke="#5858f8" stroke-linejoin="round"/>
<path d="M608.5 1415.5V1423.5M603 1415.5H614M603 1423.5H614" fill="none" stroke-width="3.2" stroke="#5858f8"/>
<path d="M651.4 1416.4V1424.4M645.9 1416.4H656.9M645.9 1424.4H656.9" fill="none" stroke-width="3.2" stroke="#5858f8"/>
<path d="M692.4 1414.7V1422.7M686.9 1414.7H697.9M686.9 1422.7H697.9" fill="none" stroke-width="3.2" stroke="#5858f8"/>
<path d="M735.3 1310.2V1330.2M729.8 1310.2H740.8M729.8 1330.2H740.8" fill="none" stroke-width="3.2" stroke="#5858f8"/>
<path d="M776.8 1305.6V1329.6M771.3 1305.6H782.3M771.3 1329.6H782.3" fill="none" stroke-width="3.2" stroke="#5858f8"/>
<path d="M818.7 1311.8V1327.8M813.2 1311.8H824.2M813.2 1327.8H824.2" fill="none" stroke-width="3.2" stroke="#5858f8"/>
<path d="M861.1 1203.2V1253.2M855.6 1203.2H866.6M855.6 1253.2H866.6" fill="none" stroke-width="3.2" stroke="#5858f8"/>
<path d="M903.1 1208.6V1242.6M897.6 1208.6H908.6M897.6 1242.6H908.6" fill="none" stroke-width="3.2" stroke="#5858f8"/>
<path d="M943.7 1198.6V1252.6M938.2 1198.6H949.2M938.2 1252.6H949.2" fill="none" stroke-width="3.2" stroke="#5858f8"/>
<path d="M987.4 1417.5V1427.5M981.9 1417.5H992.9M981.9 1427.5H992.9" fill="none" stroke-width="3.2" stroke="#5858f8"/>
<path d="M1028.5 1416.7V1426.7M1023 1416.7H1034M1023 1426.7H1034" fill="none" stroke-width="3.2" stroke="#5858f8"/>
<path d="M1071.3 1419.8V1427.8M1065.8 1419.8H1076.8M1065.8 1427.8H1076.8" fill="none" stroke-width="3.2" stroke="#5858f8"/>
<text x="622.7" y="1226.9" font-size="26">Glucose</text>
<text x="694.2" y="1186.2" font-size="26">Oligomycin</text>
<text x="925.8" y="1093.3" font-size="26">2-DG</text>
<text x="701.9" y="1248.3" font-size="23">p = 0.0457</text>
<text x="823.9" y="1116.4" font-size="23">p = 0.0236</text>
<text x="1098" y="1145.5" font-size="65">i</text>
<text font-size="33.3" text-anchor="middle" transform="translate(1148.5 1338.4) rotate(-90)">2-DG6P (pmol)</text>
<path d="M1217.5 1169.6L1217.5 1496" stroke-width="3.2"/>
<path d="M1201.5 1171.2L1217.5 1171.2" stroke-width="3.2"/>
<text x="1200.4" y="1181.1" font-size="27.6" text-anchor="end">80</text>
<path d="M1201.5 1251.7L1217.5 1251.7" stroke-width="3.2"/>
<text x="1200.4" y="1261.6" font-size="27.6" text-anchor="end">60</text>
<path d="M1201.5 1332.2L1217.5 1332.2" stroke-width="3.2"/>
<text x="1200.4" y="1342.1" font-size="27.6" text-anchor="end">40</text>
<path d="M1201.5 1413.1L1217.5 1413.1" stroke-width="3.2"/>
<text x="1200.4" y="1423" font-size="27.6" text-anchor="end">20</text>
<path d="M1201.5 1494.4L1217.5 1494.4" stroke-width="3.2"/>
<text x="1200.4" y="1504.3" font-size="27.6" text-anchor="end">0</text>
<rect x="1235.1" y="1425.5" width="28.8" height="68.9" fill="#7f7f7f" stroke="#000" stroke-width="3.4"/>
<rect x="1284.7" y="1453.3" width="28.8" height="41.1" fill="#ffa040" stroke="#000" stroke-width="3.4"/>
<rect x="1334.8" y="1254.3" width="28.8" height="240.1" fill="#ff8080" stroke="#000" stroke-width="3.4"/>
<rect x="1384.9" y="1404.1" width="28.8" height="90.3" fill="#5858f8" stroke="#000" stroke-width="3.4"/>
<path d="M1201.3 1494.4L1431.6 1494.4" stroke-width="3.2"/>
<path d="M1249.7 1419.5V1423.5M1242.7 1419.5H1256.7M1242.7 1423.5H1256.7" fill="none" stroke-width="1.8"/>
<path d="M1299 1442.2V1452.5M1291.5 1442.2H1306.5M1291.5 1452.5H1306.5" fill="none" stroke-width="2"/>
<path d="M1349 1248.5V1252.5M1342 1248.5H1356M1342 1252.5H1356" fill="none" stroke-width="1.8"/>
<path d="M1399 1394.7V1408.8M1391.5 1394.7H1406.5M1391.5 1408.8H1406.5" fill="none" stroke-width="2"/>
<circle cx="1238.1" cy="1422.9" r="4.7" fill="#fff" stroke="#000" stroke-width="2"/>
<circle cx="1249.7" cy="1419.5" r="4.7" fill="#fff" stroke="#000" stroke-width="2"/>
<circle cx="1261.2" cy="1422.9" r="4.7" fill="#fff" stroke="#000" stroke-width="2"/>
<circle cx="1288.2" cy="1440.9" r="4.7" fill="#fff" stroke="#000" stroke-width="2"/>
<circle cx="1288.2" cy="1452.5" r="4.7" fill="#fff" stroke="#000" stroke-width="2"/>
<circle cx="1309.6" cy="1449.5" r="4.7" fill="#fff" stroke="#000" stroke-width="2"/>
<circle cx="1337.4" cy="1252.6" r="4.7" fill="#fff" stroke="#000" stroke-width="2"/>
<circle cx="1349" cy="1248.3" r="4.7" fill="#fff" stroke="#000" stroke-width="2"/>
<circle cx="1360.1" cy="1251.7" r="4.7" fill="#fff" stroke="#000" stroke-width="2"/>
<circle cx="1386.6" cy="1394.7" r="4.7" fill="#fff" stroke="#000" stroke-width="2"/>
<circle cx="1386.6" cy="1408.8" r="4.7" fill="#fff" stroke="#000" stroke-width="2"/>
<circle cx="1410.2" cy="1401.1" r="4.7" fill="#fff" stroke="#000" stroke-width="2"/>
<path d="M1250.5 1402.4L1250.5 1217.5L1345.1 1217.5L1345.1 1234.6" fill="none" stroke-width="1.6"/>
<path d="M1351.1 1234.6L1351.1 1217.5L1397.3 1217.5L1397.3 1374.6" fill="none" stroke-width="1.6"/>
<text x="1251.8" y="1204.6" font-size="22.7">p&lt;0.0001</text>
<text x="1352.4" y="1204.6" font-size="22.7">p&lt;0.0001</text>
<text x="1450.5" y="1148.5" font-size="66">j</text>
<text font-size="32.9" text-anchor="middle" transform="translate(1477 1337) rotate(-90)">Lactate (µM)</text>
<path d="M1542.9 1161.9L1542.9 1488.8" stroke-width="3.2"/>
<path d="M1526.9 1163.5L1542.9 1163.5" stroke-width="3.2"/>
<text x="1524.9" y="1173.4" font-size="27.6" text-anchor="end">40</text>
<path d="M1526.9 1245.3L1542.9 1245.3" stroke-width="3.2"/>
<text x="1524.9" y="1255.2" font-size="27.6" text-anchor="end">30</text>
<path d="M1526.9 1326.2L1542.9 1326.2" stroke-width="3.2"/>
<text x="1524.9" y="1336.1" font-size="27.6" text-anchor="end">20</text>
<path d="M1526.9 1406.7L1542.9 1406.7" stroke-width="3.2"/>
<text x="1524.9" y="1416.6" font-size="27.6" text-anchor="end">10</text>
<path d="M1526.9 1487.2L1542.9 1487.2" stroke-width="3.2"/>
<text x="1524.9" y="1497.1" font-size="27.6" text-anchor="end">0</text>
<rect x="1560.4" y="1372" width="28.8" height="115.2" fill="#7f7f7f" stroke="#000" stroke-width="3.4"/>
<rect x="1610.1" y="1419.1" width="28.8" height="68.1" fill="#ffa040" stroke="#000" stroke-width="3.4"/>
<rect x="1660.2" y="1263.7" width="28.8" height="223.5" fill="#ff8080" stroke="#000" stroke-width="3.4"/>
<rect x="1709.4" y="1357" width="28.8" height="130.2" fill="#5858f8" stroke="#000" stroke-width="3.4"/>
<path d="M1526.6 1487.2L1759.1 1487.2" stroke-width="3.2"/>
<path d="M1575 1336V1404.5M1567.5 1336H1582.5M1567.5 1404.5H1582.5" fill="none" stroke-width="2"/>
<path d="M1624.5 1413.5V1417.5M1617.5 1413.5H1631.5M1617.5 1417.5H1631.5" fill="none" stroke-width="1.8"/>
<path d="M1674.3 1254.7V1266.3M1666.8 1254.7H1681.8M1666.8 1266.3H1681.8" fill="none" stroke-width="2"/>
<path d="M1723.7 1344.6V1355.3M1716.2 1344.6H1731.2M1716.2 1355.3H1731.2" fill="none" stroke-width="2"/>
<circle cx="1575" cy="1339" r="4.7" fill="#fff" stroke="#000" stroke-width="2"/>
<circle cx="1575" cy="1366" r="4.7" fill="#fff" stroke="#000" stroke-width="2"/>
<circle cx="1575" cy="1404.5" r="4.7" fill="#fff" stroke="#000" stroke-width="2"/>
<circle cx="1613.5" cy="1416.5" r="4.7" fill="#fff" stroke="#000" stroke-width="2"/>
<circle cx="1624.2" cy="1413.1" r="4.7" fill="#fff" stroke="#000" stroke-width="2"/>
<circle cx="1635.8" cy="1415.2" r="4.7" fill="#fff" stroke="#000" stroke-width="2"/>
<circle cx="1662.8" cy="1256" r="4.7" fill="#fff" stroke="#000" stroke-width="2"/>
<circle cx="1685.4" cy="1258.1" r="4.7" fill="#fff" stroke="#000" stroke-width="2"/>
<circle cx="1674.3" cy="1268.8" r="4.7" fill="#fff" stroke="#000" stroke-width="2"/>
<circle cx="1712" cy="1353.2" r="4.7" fill="#fff" stroke="#000" stroke-width="2"/>
<circle cx="1723.5" cy="1343.8" r="4.7" fill="#fff" stroke="#000" stroke-width="2"/>
<circle cx="1735.5" cy="1352.3" r="4.7" fill="#fff" stroke="#000" stroke-width="2"/>
<path d="M1575 1323.2L1575 1221.7L1670 1221.7L1670 1240.6" fill="none" stroke-width="1.6"/>
<path d="M1675.6 1240.6L1675.6 1221.7L1722.7 1221.7L1722.7 1324" fill="none" stroke-width="1.6"/>
<text x="1577.1" y="1208.5" font-size="22.6">p=0.0003</text>
<text x="1676.5" y="1208.5" font-size="22.6">p&lt;0.0012</text>
<defs><filter id="soft" x="0" y="0" width="1" height="1" filterUnits="objectBoundingBox"><feGaussianBlur stdDeviation="0.45"/></filter></defs>
<text x="-2" y="1608.3" font-size="64">k</text>
<text x="54" y="1608.3" font-size="32.7">MLE12:</text>
<rect x="175.6" y="1585.3" width="32.2" height="23.9" fill="#7f7f7f" stroke="none"/>
<text x="224" y="1608" font-size="32.5" font-style="italic">Ctrl</text>
<rect x="289" y="1585.3" width="32.2" height="23.9" fill="#f0b477" stroke="none"/>
<text x="338.3" y="1608" font-size="32.5"><tspan font-style="italic">Ctrl</tspan> WZB117</text>
<rect x="548.6" y="1585.3" width="32.2" height="23.9" fill="#ff8080" stroke="none"/>
<text x="591" y="1608" font-size="32.5" font-style="italic">Rnf20+/-</text>
<rect x="745.5" y="1585.3" width="32.2" height="23.9" fill="#5858f8" stroke="none"/>
<text x="792.3" y="1608" font-size="32.5"><tspan font-style="italic">Rnf20+/-</tspan> WZB117</text>
<text x="163" y="1660.6" font-size="32.4" text-anchor="middle" font-style="italic">Ctrl</text>
<text x="413.4" y="1660.6" font-size="32.4" text-anchor="middle" font-style="italic">Rnf20+/-</text>
<text font-size="31.8" text-anchor="middle" transform="translate(41.5 1757.7) rotate(-90)">DMSO</text>
<text font-size="32.1" text-anchor="middle" transform="translate(41.5 1957) rotate(-90)">WZB117</text>
<clipPath id="mc1"><rect x="51.2" y="1671.6" width="240" height="176.7"/></clipPath>
<rect x="51.2" y="1671.6" width="240" height="176.7" fill="#e9e6f6" stroke="none"/>
<g clip-path="url(#mc1)" stroke-linecap="round" fill="none"><g filter="url(#soft)">
<path d="M90.8 1793.5h.01M203.6 1756.3h.01M103 1811.7h.01M245.1 1762.2h.01M172.4 1713.3h.01M52 1737.2h.01M191.7 1683.8h.01M241.7 1712.6h.01M107 1679.1h.01M290.6 1802.1h.01M261.2 1780.4h.01M59.4 1729.7h.01M170.6 1692.1h.01M279.7 1736.7h.01M88.4 1816.1h.01M81.2 1835.6h.01M160 1769.1h.01M133.5 1757.2h.01M96.1 1678.2h.01M259 1713.1h.01M238.5 1708.5h.01M283.7 1829.6h.01M232.4 1806.4h.01M190.6 1800.5h.01M80.6 1755.8h.01M249.7 1707.1h.01M272.8 1828.4h.01M149.5 1736.1h.01M159.5 1739.8h.01M290 1739.9h.01M57.6 1688.1h.01M223.5 1847h.01M170.2 1758.5h.01M183.3 1803.8h.01M104.5 1779.2h.01M184.8 1781.6h.01M94.6 1701.7h.01M134.8 1835.4h.01M134.4 1777.1h.01M124.8 1689.8h.01M67 1815.4h.01M237.7 1737.8h.01M215.2 1791h.01M266.9 1840.9h.01M148.9 1846.4h.01M281.9 1775.9h.01M263.2 1758.3h.01M141.3 1715.3h.01M261.5 1700.3h.01M67.8 1813.9h.01M236.9 1757h.01M252.1 1680.8h.01M113.1 1722.8h.01M151.9 1701.8h.01M67.9 1731.3h.01M267 1845.4h.01M230.2 1756.2h.01M111.7 1841h.01M177.4 1800.3h.01M58 1709.1h.01M252.4 1812.1h.01M262.7 1777.9h.01M153.5 1774.3h.01M255 1726h.01M179.4 1720.4h.01M235.6 1673.4h.01M215.7 1840.2h.01M56.8 1776.5h.01M205.7 1822.1h.01M191.4 1717h.01M148.5 1841h.01M268.5 1695.2h.01M74 1688.2h.01M57.3 1750.6h.01M85 1824.9h.01M208.5 1694h.01M180.5 1728.9h.01M169.7 1710.4h.01M91.1 1704.1h.01M141.9 1797.1h.01M183.2 1679.8h.01M221.8 1826h.01M237 1811.3h.01M53.1 1753.6h.01M66.4 1806.6h.01M93.3 1797.3h.01M111.9 1794.7h.01M126.5 1679h.01M144.5 1726.3h.01M267.4 1723.7h.01M171.9 1768.7h.01M278.8 1689h.01M195.5 1761.4h.01M227.5 1842.5h.01M125.6 1795.2h.01M177.4 1770.7h.01M66.5 1815.6h.01M285.6 1734.4h.01M127.5 1847.1h.01M77 1685h.01M68.8 1815.5h.01M233.6 1750.8h.01M200.3 1675.1h.01M205.9 1749.8h.01M175.4 1740.4h.01M147.6 1711.4h.01M62.9 1748.3h.01M110.5 1796h.01M247.4 1799.5h.01M160.6 1713.4h.01M143.7 1757.6h.01M202.8 1841.8h.01M71.7 1756.4h.01M169.3 1798.3h.01M264.9 1809.3h.01M201.6 1805.6h.01M211.5 1823.4h.01M219 1792.3h.01M110.1 1833.6h.01M143.8 1780.2h.01M249.2 1841.9h.01M288.6 1672.7h.01M126.2 1726.7h.01M145.1 1697.3h.01M184 1685.7h.01M123.8 1838.3h.01M229.4 1753.3h.01M77.2 1840.5h.01M220.1 1708h.01M131.7 1785h.01M214.8 1717.7h.01M279.5 1728.5h.01M112.2 1821h.01M88 1792h.01M99.2 1777.3h.01M117.8 1738.6h.01M277 1754.1h.01M156.1 1780.6h.01M118.6 1702.4h.01M143.5 1719.7h.01M96.4 1841.4h.01M59.5 1814.8h.01M275.5 1796.1h.01M55.8 1760.2h.01M60.6 1779h.01M219.3 1714h.01M53 1767.8h.01M73.9 1726.2h.01M160.2 1829.7h.01M140 1695.4h.01M241.2 1816.9h.01M178.3 1680.3h.01M96.2 1742.8h.01M183.7 1711.4h.01M243.8 1820.6h.01M273.2 1827.7h.01M55.4 1774.5h.01M70.5 1830.6h.01M230.5 1805.8h.01M96.4 1682.1h.01M246.8 1778.8h.01M200.1 1754.8h.01M243.2 1731.3h.01M115.9 1734h.01M122.7 1782.4h.01M264.8 1684.1h.01M67.4 1762h.01M213.9 1705.1h.01M116 1682h.01M60.1 1759.1h.01M214.6 1787h.01M89.2 1690h.01M274.6 1766.8h.01M149.2 1793.7h.01M225.9 1764.3h.01M70 1817.8h.01M102.5 1678.8h.01M135.7 1765.7h.01M202 1702.4h.01M221.5 1758.9h.01M90.1 1822h.01M244.8 1831.8h.01M214.3 1710h.01M237.8 1831.1h.01M179.2 1832.1h.01M284 1740.5h.01M277.2 1837.1h.01M241.7 1673.6h.01M135.7 1780h.01M196.9 1805.1h.01M206.4 1700.1h.01M274.6 1766.4h.01M262.8 1708.1h.01M290.7 1769.6h.01M237.3 1802.4h.01M263.1 1735.6h.01M71.1 1743.3h.01M94 1767h.01M246.8 1735.6h.01M82.7 1676.4h.01M152.7 1774.2h.01M57.5 1789.2h.01M101.8 1690.5h.01M273.8 1764h.01M266 1762.4h.01M80.7 1714h.01M153 1784.8h.01M236.2 1804.4h.01M207.4 1716.3h.01M154.4 1738.4h.01M168.7 1718.5h.01M180.3 1752.7h.01M59.7 1817h.01M191.9 1813.4h.01M228 1800.7h.01M289.6 1738.2h.01M145.7 1672.3h.01M210.6 1774.3h.01M189.5 1847.9h.01M98.5 1711.8h.01M227.4 1815.1h.01M167.1 1681.3h.01M140.1 1817.6h.01M171.2 1753.1h.01M144.7 1782.7h.01M194.8 1794.1h.01M258.9 1804.4h.01M141.2 1715.8h.01M238.9 1811.7h.01M274 1706.7h.01M254.6 1829h.01M69.7 1726h.01M203.3 1697.4h.01M250.7 1718.4h.01M215 1723.9h.01M103.6 1708.2h.01M170.6 1797.6h.01M103.5 1792.9h.01M131.6 1786.3h.01M139.6 1705.7h.01M85 1681.8h.01M218.3 1744.7h.01M80.8 1827.2h.01M208.4 1675.3h.01M225.1 1776.7h.01M157.7 1760.1h.01M282.1 1737.7h.01M203.9 1783.9h.01M139 1732.8h.01M232.4 1783.9h.01M160.9 1762.4h.01M104.8 1811.1h.01M56 1785.3h.01M160.4 1710.7h.01M192 1774.6h.01M72 1758.2h.01M90.8 1812.8h.01M129.7 1729.6h.01M102.9 1680.1h.01M96 1698.4h.01M201 1821.3h.01M104.2 1691.3h.01M179.5 1692h.01M148.5 1806h.01M100 1795.2h.01M180.5 1686.6h.01M109.4 1777.5h.01M74.3 1707.6h.01M189.6 1816.2h.01M176.1 1788.8h.01M53.4 1725.1h.01M127.6 1833h.01M137 1810.3h.01M59.4 1759.7h.01M265.1 1807.9h.01M190.3 1703.8h.01M273.5 1685.7h.01M282.7 1808.8h.01M223.9 1765.4h.01M90.6 1731.8h.01M210.5 1787.5h.01M144.6 1813.2h.01M64 1722.4h.01M72.9 1729h.01M241.5 1804.7h.01M87 1726.1h.01M78.1 1788.6h.01M157.4 1712.5h.01M141 1824.5h.01M153.2 1793.7h.01M201.8 1755.3h.01M184.7 1735.9h.01M98.8 1759h.01M124.3 1729.9h.01M96 1833h.01M153.3 1707h.01M58.8 1709.5h.01M259.6 1731.1h.01M211.3 1712.3h.01M207.3 1751.2h.01" stroke="#605e74" stroke-width="2.2" opacity="0.7"/>
<path d="M229.4 1768.7l0.1 0.8M231.8 1761.8l-1 1.6M82.5 1837.6l1.1 1.3M119.7 1739.8l-0.1 0M135.3 1839.1l0.5 1M274.2 1764.2l0.7 1.7M105.5 1800.4l-0.1 0.2M106.4 1808.5l-0.4 0.9M107.7 1739l0 0.2" stroke="#2a22c0" stroke-width="3"/>
<path d="M213.6 1850.8l0.9 2.3M53.4 1727.3l-0.9 1.2M53.1 1830.7l0.6 0.6M145.1 1694.2l0.6 1.7M116.5 1706.6l0.6 1.7M59.8 1831.3l0.3 1.4M90.3 1682l-0 0.3M282.4 1799.9l0.9 1.5M241.2 1727.3l1.9 1.1M278.6 1701l1.4 0.4" stroke="#1c16ae" stroke-width="4.5"/>
<path d="M86.2 1738.8l-0.4 0.4M68.4 1727.8l0.1 1.5M141.2 1718.7l0 2.3M286 1791.8l-1.4 0.7M281 1802.2l-0.1 0.2M101.2 1688.4l0.4 0.3M265.3 1830.6l-1.2 1.3M73.6 1837.1l-1.4 0.6M193.1 1679.1l0.2 0.1M155.8 1836.9l0.1 1.7" stroke="#1c16ae" stroke-width="3.5"/>
<path d="M91.8 1741.9l-1.2 0.1M58.3 1806.7l-1.4 2M181.7 1848.8l0.9 1.3M105.8 1797.3l0.2 0.9M82.7 1703.3l-0.5 2.1M61.9 1771.8l0.3 0.5M171.5 1803l1.7 1.4" stroke="#3a34c8" stroke-width="3.5"/>
<path d="M90.4 1738.5l0.9 2.2M55.4 1805.4l1.5 1M66.5 1731.4l-1.6 1.4M165.2 1839.5l-0.3 1.6M287.1 1733l2.2 0.2M140.7 1753.5l-0.2 0.4" stroke="#3a34c8" stroke-width="3"/>
<path d="M236.1 1763.5l0.3 1.9M198.3 1811.9l-0.4 0M215.8 1810l1.8 1.1M178.9 1726.1l1.4 1.9M231.7 1804.7l-1.2 2M262.2 1698.7l0 0" stroke="#2018b4" stroke-width="2.5"/>
<path d="M64.4 1787.2l0.3 0.9M178.2 1691.9l-1.3 1.1M215.3 1809.4l2.4 0.5M242 1741.5l1 1.5M128.7 1730l-0.2 2.1M231.9 1723.8l0.4 0.3M253.3 1698.5l0.6 2.3M90.4 1715.3l-2.3 0" stroke="#2a22c0" stroke-width="6"/>
<path d="M228.7 1692.2l-0.3 0.7M58.7 1730.5l0.4 0.4M128.7 1784.1l1.8 0.7M252.6 1795.4l-0.5 0.9M151.7 1694.5l0.7 0.1M96.4 1835.6l2.1 0.5" stroke="#3a34c8" stroke-width="4"/>
<path d="M215.9 1820.4l-0.8 1.9M118.8 1809.9l0 0.1M217.6 1807.4l2 0M110.6 1786.6l0.3 1.4M220.9 1783.3l0.3 1.3M54.2 1799.4l0 1.3" stroke="#2018b4" stroke-width="4.5"/>
<path d="M54.5 1731.8l0.6 0.6M236.4 1722.2l-1.1 2M98.4 1692.3l-1.1 1.7M126.8 1795.2l0.5 0.6M258.6 1700.9l-2 0.9M70.5 1792.9l-0.9 0.9M222.6 1781.1l0 0.2M240.2 1736.8l-0.2 1.6M66.9 1771.2l-0.6 0.6M272.4 1683.2l-0.3 0.7" stroke="#1a14a8" stroke-width="4"/>
<path d="M126.6 1754.2l-1.4 1.8M49.6 1826.8l-0.3 0.3M90.3 1707.7l-0.1 0.3M278.3 1678.7l-0.6 0.3M95.6 1680.1l-1 0.7M136.6 1715l-0.8 0.2M275 1684.3l1.2 0.7" stroke="#3a34c8" stroke-width="6"/>
<path d="M125.9 1752l-2.1 0.8M58.1 1826.4l-0.2 0.9M268.2 1760.7l-0.2 0.2M203.7 1714.2l0.3 0.3M283.7 1803.7l1.5 1.3M258.4 1692.2l0.6 0.2M260.9 1817l-1.5 0.3" stroke="#1a14a8" stroke-width="6"/>
<path d="M127.8 1750.3l-1.9 1.2M289.7 1761l0.2 0.5M89.1 1673.4l0 1.1M183.5 1729.8l0.5 2.4M266 1764.1l1.5 1.7M164 1834.4l0.1 0M181 1769.5l0.1 0.4M76 1713.2l1.3 1.9M149.7 1699.4l-0.8 0.5M277.2 1684.4l-1.1 0.6M200.7 1776.7l0.3 0.1" stroke="#2018b4" stroke-width="6"/>
<path d="M124 1747.9l-0.1 1.8M280.7 1797.4l-0.8 1M255 1797.6l0.6 0M258.7 1695.7l0.5 0.8M196.7 1795.6l-1.3 2" stroke="#2a22c0" stroke-width="2"/>
<path d="M50.3 1832.7l2.2 0.5M124.2 1780.7l0.4 0.3M242 1735.4l0.8 1.8M63.6 1819.9l-0.5 1.2M178.4 1847.2l0.2 1.7M289.2 1770.2l-1.7 1.5M108.2 1799.4l-0.3 2.5M206.6 1743.8l1.5 0.4M225.9 1689.5l0.1 0.1M60.3 1769.9l0.7 0.4M165.7 1687.4l0.6 0.1M90.7 1831.3l0.4 0.2" stroke="#2a22c0" stroke-width="3.5"/>
<path d="M174.5 1691.7l0.2 1.2M85.5 1838.6l-2.1 0.4M87.1 1702.4l-1.6 1.3M134.3 1837.1l1.4 1.2M67.6 1768.4l0.6 1.8M76.7 1714.8l2 0.6M58.7 1801.2l1.7 0.5M183.5 1787.3l-1.2 1.7M157.7 1842.2l0.3 0.1" stroke="#2018b4" stroke-width="3.5"/>
<path d="M120.5 1778.8l-0.4 0.1M144.1 1695.5l0.8 0.3M285.6 1764.3l-0.8 0.6M164.2 1836.3l-1.2 2.2M220.8 1742.9l1.8 0.2M188.3 1831.8l-1.9 0.6M199.9 1721.7l0.5 0.5M152 1694l-1.7 1.4M237.1 1725.2l2.1 1.2" stroke="#1a14a8" stroke-width="3"/>
<path d="M128.4 1777.8l0 0.2M141.6 1722.4l0.4 1.9M222.1 1784l0.2 2.4M287.1 1843.3l1.2 1.4M264.3 1691l1.1 0.8M102.3 1690.1l0.4 0.2M215.3 1782.1l-0.2 1.4" stroke="#2018b4" stroke-width="4"/>
<path d="M282.5 1743.7l1.2 1.4M167.5 1824.9l1.8 1M98.8 1694.2l0.4 0.8M89.3 1671.9l-0.3 0.5M128.2 1740.6l0.6 1.4M162.9 1774.1l-1.4 0.9M252.8 1795.6l1.1 0.2M276 1680.5l-0.3 2.3M250.8 1702.8l0.3 1.2M253.6 1812.9l-0 0" stroke="#3a34c8" stroke-width="5"/>
<path d="M284.1 1749.3l-1.3 0.2M280.6 1712.4l-0.6 1.2M102.4 1788l-0.1 0.5M208.8 1776l-0.1 0.2M215.9 1838.4l-0 0M70.9 1733.3l-1.3 1.7M177.2 1728.5l-0 0.2M155.1 1840.2l-0.9 0.3" stroke="#2a22c0" stroke-width="4"/>
<path d="M281.6 1745.3l-0.2 0.1M138.7 1722.3l1.9 0.5M117.3 1716.7l-1.1 0.8M53.1 1822.8l-0.2 1.1M87.7 1687.1l-0.8 0.1M242.6 1735.9l-1.2 0.7" stroke="#2018b4" stroke-width="3"/>
<path d="M208.7 1830.2l-2.1 0.3M69.1 1732.6l-2.2 0.6M137 1832.7l-2.1 0.4M198.6 1810.2l0.4 0.1M173.5 1712.7l-2 1.1" stroke="#1a14a8" stroke-width="2.5"/>
<path d="M169.4 1829.5l0 0.1M235.5 1720.7l0.5 1.2M181.3 1847.5l1.6 1.7M65.4 1728.6l-0.7 1M256.8 1793.8l2.2 1M208.6 1773.8l-1.8 0.5M90.7 1825.6l0 0M106.4 1751.6l0.6 1" stroke="#2a22c0" stroke-width="5"/>
<path d="M142.5 1697.2l-1.7 1.7M93.5 1799.1l-1.7 0.1M86 1679.2l-0.2 0M217 1706.1l-0.2 0.4M164.6 1839.4l1.3 0.3" stroke="#1a14a8" stroke-width="5"/>
<path d="M175.9 1715.7l0.5 1.6M273 1766.1l0.4 0.1M248.5 1699l0.7 0.6M204.5 1717.5l-1.1 0.1M188 1835.5l0.2 1.3M158.8 1737.5l-0.2 0M61.4 1764.9l0 0.1M162.4 1839.4l0.4 0.5M228.7 1786.9l1.2 0.3M100 1834l0.3 1.3M72.8 1735.3l0.1 0.6M110.9 1758.3l-1.5 1.9" stroke="#3a34c8" stroke-width="2.5"/>
<path d="M247.9 1803.6l0.8 0.9M280.6 1717.2l-0.6 0.4M97.1 1688.3l0.5 1M72.6 1730.8l-1 1.9M94 1828.1l2.1 0.6M140.6 1809.2l-0.5 1.8M169.6 1715.3l-0.2 1.3M166.2 1720.3l1.8 0.3M141.9 1754l-0.6 1.8" stroke="#1c16ae" stroke-width="2"/>
<path d="M246.4 1810.8l-1.8 1.5M237.3 1712.4l-0.3 0.7M70.1 1717l-0.8 1.9M96.4 1832.6l-2.1 1.3M172.3 1806.3l0.1 0.9" stroke="#2018b4" stroke-width="5"/>
<path d="M171.3 1787.8l-0.2 1.5M105.9 1791.7l1.1 0.7M62.3 1799.6l-0.4 0.1M163.1 1817.3l0.3 0.4" stroke="#3a34c8" stroke-width="2"/>
<path d="M127.1 1797l0.7 0.1M105.2 1778.4l0.4 2.2M197.6 1720.6l0.4 1.2M135.1 1725.5l0 0.4M147.4 1689.9l-0.3 1M72.4 1734l1 0M136.5 1757.5l1.4 1.6" stroke="#1c16ae" stroke-width="3"/>
<path d="M128.3 1794.2l-0.6 0M132.5 1835.1l0.1 0.1M62.5 1789.5l0.6 1.8" stroke="#1a14a8" stroke-width="3.5"/>
<path d="M216.8 1806.2l1.2 0.7M141.4 1833.6l0.1 0.3M96.8 1823.3l-0.6 1.4M70.7 1689.6l0.1 2.1" stroke="#1c16ae" stroke-width="5"/>
<path d="M183.6 1848.2l0.8 1.1M254.1 1845l-0.3 0.8M249.9 1793.2l-1.4 1.9M97.5 1692.2l0.5 0.2M132.6 1707l0.6 1.8M180.6 1722.9l0.3 0.6M120 1776l2 1.2" stroke="#2a22c0" stroke-width="4.5"/>
<path d="M289.6 1766.4l0.8 0.5M219.3 1766.8l2.5 0.1M72.8 1713.3l-1.6 1.5M212.6 1774.8l0.7 0.5M263.4 1702.6l-1.9 0.6M167.7 1745.7l0.9 2" stroke="#2a22c0" stroke-width="2.5"/>
<path d="M286 1774.1l-0.1 1M138.3 1721.6l0.7 0.7M165 1796l0.5 0.2M190.8 1832.6l1.8 0.2M288.6 1793.8l-0 0.2M158.4 1836.9l0 0.5M254.3 1816.2l-1.9 0.1" stroke="#1c16ae" stroke-width="4"/>
<path d="M222.9 1763.2l-0.7 0.3M249.6 1699l0.6 0.6M283.8 1797.2l-2.2 0.9M183.2 1773l-0.5 1.3M229.5 1794.3l0.2 1.1M256.1 1815.3l-0.7 0.9" stroke="#1c16ae" stroke-width="2.5"/>
<path d="M76.9 1734.9l-1 0.7M282.7 1709.3l1.7 1.3M108.1 1796.1l-0.4 0M93.4 1675l-0.1 1.1M221.3 1721.4l-1.3 0.3M96.7 1803.1l0.1 0.3M112.5 1736.9l1.3 0.7M250 1680.5l0.4 0.2M168.8 1691.2l0 0M58.8 1748.2l1.4 1.8M178 1777.7l-0.5 0M159.6 1729.9l-1.3 0" stroke="#1c16ae" stroke-width="6"/>
<path d="M117.8 1777l0.2 0.7M213 1799.4l-1.8 0.5M125.5 1747.5l-1.1 0.3M199.1 1736.4l1.5 0.9M266.9 1702.4l-0.8 0.8M84.1 1700.5l0 0.6M93 1801l-0.5 0.7M196.2 1725.3l-1.1 1M259.4 1799.9l-1.2 2M61.4 1746.9l-0.2 1.3M200.3 1679.5l0.6 1.9" stroke="#1a14a8" stroke-width="4.5"/>
<path d="M258.4 1838.3l0.7 0.5M233.8 1713.8l2 0.5M250.2 1730.5l0.5 0.1M218.8 1779.3l-1 1.8M140.9 1708.1l-0 0M191.9 1798.6l-0.8 1.1M90.5 1711.3l1.9 0.1M163.1 1721.3l0 0.2M175.7 1727.9l-0.4 2.2M139.7 1758.1l-0.8 1.7" stroke="#2018b4" stroke-width="2"/>
<path d="M108.3 1789.2l2.2 0.4M140.8 1708.3l0.6 1.4M260.8 1720.3l1 1.3" stroke="#1a14a8" stroke-width="2"/>
<path d="M104.9 1799.4l-0.5 0M156.9 1700l2.4 0.3M62.3 1703.1l-0.8 0.3M64 1788.5l0.9 0.6" stroke="#3a34c8" stroke-width="4.5"/>
</g></g>
<path d="M223.7 1838.4L260.5 1838.4" stroke-width="3.8"/>
<clipPath id="mc2"><rect x="311.7" y="1671.6" width="239.3" height="176.7"/></clipPath>
<rect x="311.7" y="1671.6" width="239.3" height="176.7" fill="#e9e6f6" stroke="none"/>
<g clip-path="url(#mc2)" stroke-linecap="round" fill="none"><g filter="url(#soft)">
<path d="M541 1696.4h.01M317.4 1848.1h.01M355.8 1692.9h.01M467.6 1732.7h.01M524.6 1712.5h.01M541.3 1728h.01M455.6 1836.3h.01M475.7 1834.8h.01M481.2 1680.2h.01M522.6 1775.8h.01M386 1705.2h.01M515.1 1774.6h.01M536.2 1808.4h.01M541.7 1771.7h.01M478.8 1779.8h.01M373.5 1840.7h.01M386.5 1809.6h.01M540.1 1786.6h.01M345.7 1817.4h.01M471.4 1704.3h.01M323.5 1765.6h.01M319.4 1835.1h.01M432.9 1763h.01M409.7 1788.4h.01M531 1725.9h.01M401.1 1774.5h.01M382.8 1776.8h.01M441.7 1748.2h.01M472.8 1764.9h.01M332.8 1847.7h.01M396.8 1747.9h.01M408.1 1835.8h.01M539.6 1762.1h.01M407.6 1688.7h.01M526 1701.9h.01M442.5 1733.3h.01M390.3 1734.7h.01M357.5 1678.1h.01M439.8 1812.2h.01M466.5 1707.2h.01M477.7 1680.8h.01M410 1817.9h.01M532.1 1753h.01M514.3 1759.7h.01M437.1 1774.9h.01M548.9 1803h.01M424.9 1800.1h.01M465.6 1734.1h.01M499.4 1816.5h.01M457.3 1838.2h.01M316.1 1760h.01M463.6 1731.8h.01M352.7 1793.9h.01M415.7 1719.1h.01M321.7 1842.5h.01M396 1692.5h.01M363.5 1716.6h.01M519 1703.5h.01M377.8 1688.8h.01M424.2 1708.3h.01M394.1 1801.5h.01M533.1 1819h.01M320.9 1738.3h.01M514.9 1677.4h.01M360.3 1758.2h.01M403.2 1804.2h.01M483.5 1753.7h.01M371.3 1712.4h.01M375.4 1683.1h.01M471 1699.5h.01M524.5 1785.7h.01M325.3 1759.7h.01M456.2 1679.1h.01M428.2 1676.9h.01M495.1 1672.3h.01M462.9 1845.7h.01M514.2 1712.8h.01M439.6 1696.3h.01M393.6 1824.2h.01M507.4 1673.2h.01M402.6 1784.7h.01M353.7 1813.4h.01M525.4 1769h.01M398.3 1821.5h.01M434.4 1704.9h.01M378.2 1699.7h.01M512.4 1761.7h.01M478.4 1816h.01M544.7 1705.3h.01M408.8 1826.1h.01M494 1739.9h.01M468.6 1706.1h.01M350.4 1680.5h.01M402.6 1713.3h.01M435.6 1842.9h.01M348.3 1770.1h.01M518.6 1777.3h.01M437.9 1807.3h.01M316.9 1839.2h.01M476 1814.1h.01M509.2 1689h.01M327.6 1703.1h.01M432.5 1837.4h.01M529.3 1744.4h.01M460.6 1802.3h.01M391.2 1843.1h.01M537.1 1800.1h.01M527.4 1813.1h.01M467.8 1728.4h.01M379 1713.7h.01M325.4 1835.2h.01M383.1 1675.8h.01M387.3 1689.8h.01M418.2 1730.3h.01M353.7 1755.8h.01M411 1734.2h.01M506.3 1725.8h.01M441.2 1826.7h.01M541.2 1737.8h.01M321.4 1839.5h.01M434.7 1710h.01M342.4 1713.8h.01M386 1696.1h.01M323.4 1847.3h.01M508 1691.6h.01M426.7 1813.2h.01M432.4 1683.8h.01M393 1738.9h.01M530.5 1774.6h.01M421.5 1783h.01M323.3 1792.9h.01M505.1 1790.1h.01M398.1 1722.1h.01M314.1 1686.1h.01M348.7 1751.7h.01M497.9 1710h.01M424.7 1784h.01M462.3 1675.2h.01M532 1775h.01M384.3 1713.9h.01M476.6 1836.4h.01M392.4 1741.9h.01M445 1702.5h.01M408.8 1833.7h.01M444.8 1817h.01M374.4 1825.1h.01M499 1711.4h.01M438.5 1792.1h.01M448.8 1778h.01M369.1 1769.5h.01M396.5 1812.6h.01M400.9 1844.7h.01M450.6 1711.8h.01M411.2 1694.2h.01M487.9 1679.7h.01M456.5 1726h.01M497.6 1694h.01M474.5 1797.8h.01M367.5 1694.6h.01M400.8 1786.3h.01M374.1 1673.2h.01M417.3 1814.5h.01M349.5 1837.8h.01M433.3 1700h.01M335.6 1737.1h.01M425.7 1702.6h.01M331.8 1760.2h.01M372.5 1750.1h.01M419.6 1794.8h.01M449.9 1711.9h.01M354.7 1823.3h.01M323.8 1693.4h.01M328.4 1817.6h.01M441.2 1834.8h.01M461.6 1730.9h.01M414.7 1801h.01M367 1813.5h.01M409.2 1679.1h.01M393.9 1770.6h.01M346.8 1831.6h.01M533.3 1762h.01M528.2 1793.5h.01M440.5 1699.5h.01M539.7 1834.1h.01M419.9 1739.6h.01M329.3 1781h.01M516.3 1740.3h.01M380.8 1779.9h.01M501.5 1701.6h.01M379.3 1785.1h.01M321.6 1815.9h.01M387.2 1818.6h.01M420.5 1700.9h.01M316.3 1691.6h.01M374 1805.5h.01M501.7 1783.1h.01M385.2 1788.9h.01M487 1736.5h.01M331.2 1754.5h.01M364.8 1704.9h.01M405.2 1684.8h.01M526.6 1721.2h.01M526.7 1801.9h.01M314.3 1830.5h.01M505.4 1764.4h.01M523.3 1756.1h.01M317.7 1698.1h.01M386 1823.2h.01M510.2 1692.4h.01M395.4 1691.3h.01M366.4 1733.8h.01M410.9 1698.1h.01M469.1 1714.4h.01M524.7 1756.7h.01M414.5 1806.9h.01M394.2 1717h.01M341 1723.7h.01M367.8 1801.5h.01M396.6 1796.5h.01M377.6 1683.9h.01M384.7 1741h.01M529.5 1706.8h.01M362.3 1699.2h.01M372.3 1841.3h.01M534.7 1711.8h.01M323.6 1757.6h.01M451.6 1691.3h.01M411.8 1807.4h.01M312 1798.6h.01M475.6 1810.6h.01M428.2 1753.6h.01M435.8 1695.7h.01M434.7 1713.9h.01M388.5 1679.5h.01M349.6 1681.4h.01M441.2 1713.4h.01M444.7 1760.6h.01M367.5 1694.1h.01M454.3 1791.2h.01M476.9 1761.3h.01M450.5 1675.9h.01M385 1813.1h.01M402 1690h.01M412.4 1819h.01M335.2 1691.4h.01M430.9 1825.8h.01M405.1 1715.4h.01M495.5 1688.3h.01M382.4 1777.3h.01M515 1823.8h.01M389.7 1718.6h.01M398.7 1693.1h.01M376.9 1807.1h.01M546 1719.3h.01M329 1802.3h.01M542.9 1811.9h.01M410.5 1803.1h.01M493.7 1803.1h.01M429.6 1848.1h.01M498.5 1713.1h.01M414.8 1687.4h.01M401.4 1816h.01M428.1 1764.2h.01M498.1 1687h.01M396.3 1757h.01M429.9 1792.6h.01M535.9 1813.2h.01M442.2 1792.5h.01M440.6 1845.9h.01M454.4 1776.6h.01M406.4 1745.7h.01M494.5 1737.5h.01M528 1800.2h.01M540.3 1796.5h.01M448.1 1736.4h.01M316 1788.5h.01M491.5 1799.4h.01M493.4 1677.9h.01M475.4 1721h.01M404.7 1825.1h.01M408.6 1754.1h.01M323.8 1703.7h.01M362 1709.6h.01M436.8 1680h.01M333 1686.8h.01M487.2 1843.1h.01M491.2 1762.6h.01M342.9 1810.1h.01M342.7 1685.2h.01M434.1 1824h.01M386 1824.2h.01M391.2 1842.4h.01M488.5 1824.4h.01M547.3 1815.9h.01M358.7 1762.8h.01M442 1799.2h.01M366.7 1773.6h.01M379.7 1704.1h.01M419.3 1813.6h.01M444.2 1734.3h.01" stroke="#605e74" stroke-width="2.2" opacity="0.7"/>
<path d="M364.8 1733.3l1 1.3M495 1673.4l-2.1 0.4M351 1772.7l1.9 0.2M320.5 1786.3l1 0.7M462.2 1746.8l-0.4 1.1M417.6 1687.3l0.2 0.2M315.4 1766.9l0.1 0.4M536.5 1828.4l-0.3 1.4M369.8 1729.7l2.2 0.8" stroke="#1a14a8" stroke-width="3.5"/>
<path d="M363.2 1732.4l0.7 1.4M498 1829.5l-1.5 0.6M447.7 1686.7l-1.1 1M456.6 1800.5l1.2 0.1M523.6 1698.8l1.1 1.4M537 1758l-1 0.1M544.2 1710.1l0.1 0.1M414 1795l0 0.4M348.1 1846.8l0.4 0.1M358.4 1797.3l-0.3 0.1M369.5 1734.1l0.4 0.7M324.6 1706.2l-1.4 1.3M368.7 1731.7l0 0.3M317.5 1833.1l0 0.1M491.7 1774.6l-2.3 0.1" stroke="#3a34c8" stroke-width="3"/>
<path d="M379.2 1762.7l0.3 0.3M478.1 1764l-0.5 0.5M405.6 1809.2l0 0M388.9 1693.6l2.2 0.3M529.4 1696.3l1.4 1.9M443.3 1742.5l-0 1.4M366.9 1738.5l2.3 0.9M399 1811.8l-0.5 0.3" stroke="#2018b4" stroke-width="6"/>
<path d="M383.3 1761.8l0.1 0M367.7 1763l-0.1 2.1M433.1 1763.4l-0.1 0.2M522.7 1811.5l-1.5 0.9M460.8 1679.8l0.4 0.6M443.1 1814.3l0.1 1.4M468.2 1673.3l0.4 0.8M463.3 1731.1l-1.4 0.6M350.6 1696.6l0.7 0.5M508 1796.5l0 0M321.5 1759l-2 0.2M367 1723l0.1 0.4M367.8 1714.2l0.7 0.8" stroke="#2a22c0" stroke-width="3.5"/>
<path d="M385.9 1831l0.9 1.2M367.7 1758.6l-0.4 1.3M376 1740.9l-0.6 2.4M456.1 1782.6l1.1 2.1M338.6 1727.4l0.1 0.6M438.9 1775.2l-0.1 0M463.6 1748.9l-1.4 0.9M426.6 1839.9l-1.9 0.2M396.9 1669.5l0.7 0.7M332.5 1836l0.2 2.4M446.9 1721.2l0.2 1.2M399.6 1818.9l-0.8 0" stroke="#3a34c8" stroke-width="4"/>
<path d="M388.6 1831.7l0.4 0.9M389.1 1701l-0.8 0.3M386.8 1701.6l0.3 1.2M338.2 1690.5l-0.7 0.9M502 1741.8l-0 1M313.6 1779.6l1 1.5M375.4 1744.3l0.9 1.2M336.4 1735.1l-0.9 0.3M331.2 1782.6l-0.8 0.3M403.8 1686.7l1.1 0M461.4 1690.8l0.5 1.2M433.5 1716.6l-0.2 0.6M364.9 1734.5l-0.1 0M529.1 1832l-1 0.1M467.5 1673l-0.2 0.3" stroke="#1a14a8" stroke-width="4"/>
<path d="M339.1 1769l-1.2 1.1M401.9 1692.5l1.8 0.1M353.1 1730.8l0.1 0M439.9 1802.3l-0.9 1.1M370.4 1696.1l0.5 0.8M361.2 1839.1l-2.1 0.3M474.3 1727.7l0.1 0.9M344.1 1730l0 0M413.1 1742.9l2.1 0.1M382 1828.7l0.1 0.5M391.8 1789.3l2.4 0.2M541.7 1715.6l-0.9 0.6M433.4 1715.1l1 0.8M431.3 1743.9l0.7 0.8M364.1 1710l0.4 0.4M398.9 1815.9l-1.2 0.1" stroke="#2a22c0" stroke-width="2.5"/>
<path d="M334.9 1774.8l-1.3 1.1M517.1 1806.5l-0.1 0.4M530.8 1697.3l1.6 1.9M411.4 1747.6l-0.5 2M325.8 1756.9l-0.9 1M351 1693.2l0.3 0.7" stroke="#2018b4" stroke-width="3"/>
<path d="M342 1768.1l-1.1 0.4M365.5 1759.9l1.7 1.2M479.2 1764.4l1.8 1M434.2 1709.4l-0.4 0.1M463.6 1757.3l0.6 0.8M496.9 1798.9l-0.6 0.8M395.8 1796.6l0.4 1.2M370.6 1709.8l0.3 0.3M374.7 1746.8l-2 0.7M351.9 1769.4l1.8 1.3M400.4 1726.4l-0.5 1.7M383.7 1696.7l-1.5 0.7M528.6 1701.8l2 0.6M424.3 1674.9l-0.6 0.3M469.3 1729.3l-0.2 0.2M385.3 1832.7l-0.4 0.7M544.4 1814.4l0.1 1.1M389.4 1786.5l-0.3 0.6M527.9 1834.2l-1.3 0.6M336.1 1714.7l-1.9 0.8M324.7 1765.9l-1.8 0.7M432.3 1746.4l-0.5 0.2M398.4 1685.3l-1.7 0.1" stroke="#3a34c8" stroke-width="3.5"/>
<path d="M332.9 1773.6l0.2 0.3M408.3 1769.3l-0.2 0.8M536.4 1689.2l0.7 1.3M377.8 1783.2l0.3 1.5M320.3 1844.9l0.4 1.4M339.3 1730.5l0.6 0.6M516.3 1707.5l-0.8 0.7M327.9 1738.1l-1.4 0.7M428.3 1678.1l0.4 1.1M531.8 1762.5l0.8 1.7M318.3 1715.9l0 0.1M429.1 1756.9l0.4 0.3M423.8 1839.6l-0.5 1.2M357.3 1822.2l1.7 1M529.5 1834.5l0.4 0.9M433.3 1839.6l-0.7 1.1M358.5 1751.6l-0.4 0.7M526.7 1676.2l-0.5 0.7M510.5 1675.4l0.2 0M513.8 1713.3l-0.1 0.6M495 1751.2l1.1 1.3" stroke="#2018b4" stroke-width="5"/>
<path d="M523.8 1838.7l-0.2 1.8M522.9 1703.6l-1.1 0.1M413.3 1727.6l1.3 1.7M498.5 1686.7l-0.1 0.1M439.7 1770.8l0.5 1.3M385 1674.1l-0.4 0.7M342.6 1814.5l-1.4 0.7M408 1807.3l1.1 1.3M317 1752.9l1.1 1.4M331.2 1804.6l-1.2 1.1M546 1792l0.3 0M337.4 1732.5l0.2 0M528 1783.9l-0.9 2.2M428.9 1838.2l0.6 0.6M330 1738.5l-0.1 0.1M514.2 1807.9l0 0M324.7 1766.4l0.9 2.1M471.9 1688.2l-0.2 0.1M330.6 1835.6l0.1 1.5M529.8 1838.7l0.8 1.1" stroke="#1c16ae" stroke-width="4"/>
<path d="M525 1838.7l-0.6 0.9M379.7 1823.7l-1.1 1.7M383.7 1839.1l0.9 1.8M409.2 1772.4l0.3 0M496.1 1678.6l-0.6 0.1M376.9 1749.1l-0 0M508.4 1832.7l-1.4 0.5M506.2 1795.7l-0.7 1.7M390.4 1837.5l-1 2.1M353.8 1824.8l-1.1 1.3M443.9 1808.3l-0.3 2.3M450.4 1692.8l0.1 0M341.3 1753.7l-2.4 0.1M385.3 1680l-0.9 0.8M498.9 1749l-0.4 0.2M401.6 1814.5l0.2 1" stroke="#1a14a8" stroke-width="6"/>
<path d="M370.5 1763.3l-1.9 1M390.5 1700.4l-0.5 1.1M480.7 1680.1l1.6 0.3M437.2 1776l-0.5 2.2M381.7 1754.9l1 0.3M521.2 1831.4l-0.2 0.1M338.6 1767.7l-0.5 2M330.3 1754.4l0.8 0.2M548.8 1805.5l0.1 0.2M514.8 1734l2.4 0.5M525.8 1824.1l-0.7 0.8" stroke="#1c16ae" stroke-width="5"/>
<path d="M521.5 1819.9l-0.7 1.5M370.4 1747.9l-0 0.2M466.1 1703l1.8 1M330 1733.4l2 1.1M467.7 1695.7l0.3 1.7M462.9 1693.9l1.2 1.8M337.7 1758.9l-2.3 0.7M506.5 1680.6l1.1 1.5M522.8 1783.7l-1.5 1.6M441.9 1809.4l-1.2 1M363.1 1756.7l0.5 1.4M405.9 1740.2l-0.3 0.7M325.6 1838.5l0 2.5" stroke="#2a22c0" stroke-width="4.5"/>
<path d="M528.4 1848.6l0 0.5M382 1838.1l-0.6 0.2M341.2 1690.5l0.6 0.6M506.3 1824.4l-0.6 1M549.8 1851.1l1.2 1.9M406.5 1712.9l0.2 0.7M338.8 1778.3l0.3 2.2M525.4 1696.5l0.8 2.3M510.3 1831.7l-0.8 0.8M424.4 1835.4l-0.3 0.6M519.3 1812l-1.6 0.4M324 1755.7l1.3 0.9M317.3 1758.2l2 1.4M362.6 1757.4l-0.1 0.3M357 1752.7l0.2 0.2M316.8 1715.4l0.3 0.1" stroke="#2a22c0" stroke-width="5"/>
<path d="M523.9 1807.2l1.7 0.1M490.9 1820.5l1.8 0.1M375.7 1747.7l-1.6 1M526.6 1699.2l1.3 1.7M440.3 1736.5l0.8 1.2M464.3 1685.2l-0.6 0.9M385.5 1828l-1.4 1.1M545.8 1811.4l-0.4 0M343.2 1802.9l-0.5 0.2M367.7 1718.5l-1.8 1.1M459.2 1819.7l-1 1.2M548.8 1792.7l0.7 0.5M551.2 1806.9l-0.2 0.8M379.4 1832l0.1 0.2M529.9 1826.2l1.6 0.7M472.7 1675.3l-1 0.6" stroke="#2a22c0" stroke-width="2"/>
<path d="M481.3 1677.8l1.8 0.9M437.5 1759.8l0.7 0.1M480 1827l0 0.1M320.3 1826.5l0.2 1.3M427.7 1804.3l-0.4 0.9M458.8 1777.2l-0.8 0.7M442.1 1775.7l0.2 0.5M441.2 1779.8l0.1 0.1M393.1 1833.5l-0.7 0M460.5 1746.7l0.1 0M426.1 1812l1.3 0.2M410.1 1687.4l1.3 0M353.8 1673.6l-0.2 0.3M362.5 1793.2l0.5 0.5M490.5 1786.6l0.3 0.5" stroke="#1a14a8" stroke-width="5"/>
<path d="M482.9 1678.3l-2.1 0.5M366 1681.8l0.1 0.9M477.3 1763.5l-0 0.4M495.9 1797.3l0.1 0.1M474.1 1688l-0.2 0.1M406.6 1771.9l1.3 0.2M524.2 1814.4l-0.8 1.5M522.6 1816.5l1.1 0.4M519.6 1783.1l0.3 0M326.2 1734.7l-2.1 0.9M322.9 1803.6l-0.3 0M391.2 1833.7l-0.1 0.1M431.7 1843.1l0.5 0.8" stroke="#1a14a8" stroke-width="2"/>
<path d="M512.4 1816.3l-2.1 0.5M498.3 1828.1l-1.7 1.1M539 1833.5l-0.8 2.3M432.9 1754l-0.9 0.6M366.2 1785.9l2.4 0.2M491.2 1774.8l-0.8 0.9M358.8 1801.6l-0.4 0.4M316.6 1716.2l1 0.2" stroke="#2a22c0" stroke-width="3"/>
<path d="M491 1815.7l0 0M507.3 1746.1l-0.1 0.5M342.2 1691.3l0 2.3M313.6 1782.9l0.3 0.2M465.6 1759.3l-1 1.1M366.4 1837l0.5 0.2M438 1810.3l0.9 0.2M380.3 1814.1l0.3 0.8M486.7 1825.1l-2.3 0.4M356.3 1851.5l-2.4 0.1M430.2 1844.1l-0.1 0.1M456 1804.1l0.7 0.9M538 1771.3l0.7 0.9" stroke="#3a34c8" stroke-width="2"/>
<path d="M384.9 1825.1l1.8 0.1M469.7 1845.2l-0.8 1.9M323.4 1845.6l-1.8 1.1M466.2 1703.1l0.2 0.1M412.3 1832.1l-0.9 0.9M318.2 1749.6l0.8 1.6M335 1738l0.6 1.1M490.3 1774.6l-0.2 0.8M483.3 1786.1l0 0M333.2 1829.5l-1.2 0.5M448.3 1803.3l0.5 0.5M358.5 1708.9l1.7 0.2" stroke="#2018b4" stroke-width="2"/>
<path d="M344 1698.5l-1.9 0.2M483.2 1760.5l-0 0.3M449.3 1844.6l0.8 0.6M448.5 1687.3l-1.4 1.9M393 1727.4l-0.8 0.7M527.8 1827.5l-2 0.1M512.1 1709.5l-0.1 0.6M496.4 1752.8l0.3 1.3M350.7 1802.9l-0.4 0.5" stroke="#1a14a8" stroke-width="2.5"/>
<path d="M339.5 1702.5l1.3 1.3M399.4 1745.9l1.1 1.4M318.7 1787.5l-1.9 1.6M429.8 1761.6l-1.8 1.4M387.2 1787l-0.5 1.1M408 1709.8l2 1M533.7 1744.8l0 0.1M438.3 1714.9l-0.9 0.6M488.1 1776l0.3 0.6M549.1 1804.6l0 1.2" stroke="#2018b4" stroke-width="4"/>
<path d="M486.2 1698l-0.4 0.6M437 1709l0.1 0.3M461.7 1755.7l1.4 2M371.6 1745.9l1.1 0.4M417.2 1724l1.1 0M355.4 1711.3l0.6 2.4M430.5 1735.8l0.2 0.9M333.6 1685.1l-1.1 0.6M331.3 1727.3l-0.2 0.5M440.1 1811l0 0.1M324.9 1809.6l-0.2 0.2M398.1 1788.6l-1.7 1M460.3 1688.1l0.5 0.1M330.2 1779.4l-0.4 0.2M397.2 1809.6l-0.5 0.5M367.9 1730.3l1.4 1.2M477.4 1693.2l0.5 0.6M513.3 1677.6l1.4 1.2M364.8 1738.4l1.3 1.6M316.8 1832.1l-0.3 0.3" stroke="#2a22c0" stroke-width="4"/>
<path d="M394.8 1688.9l-2.1 1.3M375.8 1684.8l-0.1 0.7M320.9 1825l0.4 0.4M530.1 1823.6l-0 0.2M413 1739.3l-1.9 0.4M524.8 1811.4l0.2 0.7M415 1681.5l-0.5 1.5M358.5 1844.2l-1.6 0.9M433.1 1714.8l1 1.1M373.1 1795.6l-0.4 1.5M475.7 1689.7l0.3 0.5M334.8 1800.4l1.9 1.1M413 1774.3l-1.1 2.1M531.4 1830.8l-0.5 1M364.2 1732.5l0.1 0.1" stroke="#2018b4" stroke-width="4.5"/>
<path d="M400.3 1691.6l0 0M337.7 1813.5l1 0.8M431.3 1700.8l-0.3 0.1M537.9 1787.7l1.1 1.6M532.7 1823.9l1.3 0.6M432.1 1733l-0.9 2.2M500.3 1758.5l0.6 1.5M459.5 1691.8l1.3 0.4M360.3 1784.9l0.8 1.2M338.9 1719.1l-0.2 1.6" stroke="#1a14a8" stroke-width="4.5"/>
<path d="M399.2 1689.3l1.6 0.2M522.3 1706.2l0.4 0.8M381.1 1685l0.8 0.4M522.2 1713.1l-1.4 0.8M426.4 1840.6l-0.3 1.9M332.1 1684.4l-1.5 1.1M408.3 1841.4l1.5 0.4M479.7 1707.2l0.1 0.5M394.2 1721.2l0.1 0.4M409.2 1751.1l0.4 0.3M527.8 1833.1l-2.3 0.8M538.8 1799.7l0.1 0.2M342.4 1743.2l-1.5 0.4M539.5 1771.7l-1.6 1.4" stroke="#2a22c0" stroke-width="6"/>
<path d="M447.3 1846.5l0 0M438.6 1712.8l1.2 0.6M389.1 1837.4l-0.6 1.2M504.1 1763.6l-0.2 0.7M415.7 1741.8l-0.1 0.6M382.4 1827.2l-0.4 0.3M434.3 1774.6l0.1 0.3M351.3 1691.3l0 0.1M442.5 1809.3l1.4 0.8M371.9 1737.4l0.3 0.2" stroke="#3a34c8" stroke-width="5"/>
<path d="M427.7 1773.4l0.5 0.1M422.3 1704.7l0.4 0.2M373 1849.6l1.6 0.8M475.9 1804.9l1 0.8M539.1 1828.2l0.6 0.3M337.3 1731.3l-0.9 1.2M419.7 1796.2l0.3 1.2M364.7 1717.5l-0.2 0.3M368.5 1737.2l-0.3 0.4M328.5 1831.5l0.4 0.6M332 1752.6l-2 0M485.3 1785.7l0.7 0.5M356.8 1799l-0.1 0.3" stroke="#1c16ae" stroke-width="2"/>
<path d="M467.5 1846.2l0.8 0.2M393 1845l-0 0.1M381.4 1702.1l0.1 0.2M353.9 1771.1l-1.1 1.8M382.2 1695.3l0.7 1.9M413.4 1841.3l1.5 1M541.4 1780l1.6 0.5M430.5 1776.2l-1.4 0M333.3 1693.6l0.5 1.5M456.8 1681.8l0.7 0.8M405.8 1704.5l-0.5 0.9M490.4 1707.5l2.4 0M491.6 1704.9l-0.1 0.1M430.1 1834.9l-0.5 2.3M427.6 1774.1l0 0.3M359.8 1727.7l0.2 0.7" stroke="#1c16ae" stroke-width="3.5"/>
<path d="M435.3 1713.5l-1.3 1.1M543.7 1842.6l-0.7 0.1M449.7 1687.8l1.4 1.7M510.5 1706.6l0.1 0.3M444.1 1810.2l0.1 1.1M524.9 1836.6l1.4 0.7M408.7 1755.1l1.9 1.1M457.8 1694.8l1.8 0.2" stroke="#3a34c8" stroke-width="4.5"/>
<path d="M386 1841.8l-0.4 1M445.8 1809.2l-1.8 0.3M371.7 1712.1l-2.1 1M351.7 1706.7l0.9 1.1M429.9 1731l0.8 0.9M429.2 1703.1l-0.1 0.3M528.1 1699.5l1.6 0.4M524.8 1821.1l1 0.1M485 1824.4l-1.7 1.8M456.1 1728.7l0 1.7M337.7 1708.2l-0.2 0.5M443.3 1809.9l-0.3 2.2M549 1804.4l0.1 0M473.6 1674.9l-0.7 0.7M476.4 1668.9l0 0" stroke="#1c16ae" stroke-width="6"/>
<path d="M344.7 1692.5l-1.2 0.5M471.6 1768.2l0.3 0.3M460.5 1780.9l0.6 1.6M503 1766.4l-1 0.5M458.8 1680.9l1.1 0.6M455.5 1816.2l-0.8 0M507.8 1832l-0.9 1.1M361.2 1838.2l0.1 0.8M331.6 1806.6l-0.2 1.9M388.8 1833.9l-0 0.1M447.5 1738.2l-1 2.1M366.1 1734.4l1.9 0.1M513.3 1791l0.1 2.5M528.2 1830.7l-0.1 0.1M324.8 1715.6l-1 2" stroke="#1c16ae" stroke-width="4.5"/>
<path d="M490.7 1826.7l0.9 0.2M503.5 1818.6l0.5 1.7M377.6 1751.4l-0.5 0.7M379.2 1801.4l-1.4 1.7M382.6 1749.8l0.3 1.6M322 1784.6l1.3 1.6M451.2 1816.3l-0.5 0.9M407.7 1838.1l-0.1 0M401.7 1743.9l0.7 0.9M529.1 1829.4l-0.4 0.6M493.8 1753.5l-1.6 0.7M544.1 1809.4l-1.2 0.1M515 1780.9l1 1.8M493.4 1707.4l-0.9 0.2M363.2 1722.6l2.2 0M453 1840.8l1 1.2M380.4 1831.9l-0.2 0M319.5 1718.6l0.2 0.2" stroke="#3a34c8" stroke-width="6"/>
<path d="M495.6 1793.8l-0.6 0.1M529.7 1690.8l-0.1 0.4M387.6 1845.6l0.8 1.3M318.3 1763.9l-0.5 2.3M502 1708.4l1.3 1.6M467.1 1749l0.1 0.1M432 1820.8l1 1.1M356.4 1694.3l1.6 0.4M385.7 1681.8l-0.4 1.2M363.2 1840.2l-1.9 0.3" stroke="#3a34c8" stroke-width="2.5"/>
<path d="M473.5 1691.3l-1 1.7M312.2 1783.8l0.1 0.2M467.9 1815.3l-0.9 1.3M322.1 1850.9l1.3 0.9M471.4 1745.2l1.3 1.5M321.3 1785.9l-0.8 0M454.3 1689.6l0.5 0.4M325.4 1770.3l0.7 0.3M340.1 1704l1.6 1.8" stroke="#2018b4" stroke-width="3.5"/>
<path d="M446.1 1747.5l1.3 1.6M505.9 1817.5l1.4 1.9M436.3 1778.2l2.1 0.7M435.5 1775.7l0.6 1.3M469.1 1701.4l0 0.4M317.4 1825.5l-0.4 2M404.4 1809.4l-2 0.4M407.5 1835.1l-2.2 0.8M483.5 1772.4l-0.2 0M549.4 1823.3l1 0.6M549.1 1793.8l-0.5 0.3M393.1 1784.8l-1 0.9M514.8 1789.8l-1.1 0.2M507.1 1794l-2.1 0.6M343.9 1724.7l1.9 0.3M345.1 1719.3l1.2 2.1M530.1 1741l0.4 1M450 1802.9l0.3 0.1M324.6 1717.1l-0 0.7M511.5 1675.5l0.5 0.4M340.5 1746.3l-1 0.2" stroke="#1c16ae" stroke-width="2.5"/>
<path d="M339.4 1748l0.4 1.6M452.9 1785.3l0.1 1.7M518.8 1709.9l0.1 1.9M508.6 1833.4l0.6 1.3M535.3 1756.5l1.6 0.5M345.2 1734.6l-0.4 1.4M318.1 1788l-1.3 1.2M450.8 1690.4l-0.9 1.1M529.5 1835.5l-0.8 2.3M431.4 1837.8l-1.3 0M362.7 1722.8l-2.4 0.3M481.5 1692.6l-1.7 1.6M317.2 1713.2l-0.2 0.7M363.9 1715.8l0.2 2.3M499.1 1835.9l0.3 1M500.4 1831.4l-0.8 1.5" stroke="#1a14a8" stroke-width="3"/>
<path d="M547.2 1844.3l0.5 2.3M454.4 1789.1l1.6 1.1M500 1757.5l-0 0M462.2 1743.7l0.7 0.3M331.4 1690.2l2.1 0.1M372.7 1727.6l0.8 2.1M495.3 1769l-1.7 0.6M514.2 1671.3l0.2 0.2M356.9 1837.1l0.7 1.7" stroke="#1c16ae" stroke-width="3"/>
<path d="M469.1 1760.1l0.3 1M383.7 1746.9l-0.2 0.2M513.3 1704.5l0.2 0.9M426.9 1835.6l-0.2 1.5M334 1684.3l-0.5 0.5M344.4 1779l1.8 1.6M417 1838.3l2 0.8M534.6 1714.2l1.1 0.5M430.4 1758.3l0.2 0.8M317.6 1719.6l0.5 0.6M480.9 1791.8l0.2 1M364 1711.7l-1.8 0.4M354.7 1807.6l0.4 0.3" stroke="#2018b4" stroke-width="2.5"/>
</g></g>
<path d="M487.3 1838.4L524.1 1838.4" stroke-width="3.8"/>
<clipPath id="mc3"><rect x="51.2" y="1859.7" width="240" height="176.7"/></clipPath>
<rect x="51.2" y="1859.7" width="240" height="176.7" fill="#e9e6f6" stroke="none"/>
<g clip-path="url(#mc3)" stroke-linecap="round" fill="none"><g filter="url(#soft)">
<path d="M273.2 2027.3h.01M265.4 1874.5h.01M193.3 1934.6h.01M178.4 1882.7h.01M97.3 1938.3h.01M104.2 1940.1h.01M57.1 1874.9h.01M221.6 1934.1h.01M174.2 1989.4h.01M137.4 1869.9h.01M239.1 1963.8h.01M209.1 1969.4h.01M284.2 1923.8h.01M233.5 1924.8h.01M188.5 1976.4h.01M126.7 1874.8h.01M165 1986.6h.01M192.9 1938.8h.01M205.4 1891.9h.01M94 1916.8h.01M247 1894.3h.01M78.6 1877.1h.01M60.5 1908.4h.01M188.7 2004.7h.01M130.6 1925h.01M120.4 1913.6h.01M237.8 1956.7h.01M113.2 1878.6h.01M239.3 1984.7h.01M250.1 1901.8h.01M182.1 2022h.01M193.4 2026.8h.01M91.3 2032h.01M64.6 1933.2h.01M56.8 2002.7h.01M216.1 2031.8h.01M244.4 2027.4h.01M180.5 2034.3h.01M231 1920.9h.01M285.1 1926.3h.01M97.6 1873.1h.01M163 1894.4h.01M275.3 2027.6h.01M103 1878h.01M178.2 1889.7h.01M181.7 2003.3h.01M111.9 1934.2h.01M267.4 1938.3h.01M133.5 2017.4h.01M246.5 2017.9h.01M216.3 1932.6h.01M217.5 2006.3h.01M204.7 1901.8h.01M122.1 1932.1h.01M236.4 1958.1h.01M183.2 2005.7h.01M77.2 1971.2h.01M131 1958.5h.01M251.7 1903.6h.01M279.6 1873.6h.01M186.1 1955.4h.01M107.6 1958.8h.01M164.2 1939.1h.01M223.6 1860.4h.01M141.7 1998.5h.01M85.2 2013h.01M100.1 1980.1h.01M92.8 1939.1h.01M152.6 1874.2h.01M219.1 1944.5h.01M216.6 1955h.01M184.6 1952.7h.01M122.7 2018.5h.01M71.9 2014.6h.01M258.4 1947.7h.01M237.7 1978.7h.01M196.4 1911.2h.01M127.9 1921.4h.01M123.7 2029.3h.01M133.1 1928.2h.01M151.9 2004h.01M165.9 1957.5h.01M112.5 1908.8h.01M72.6 1898.1h.01M114.5 2010.3h.01M171.8 1879.2h.01M162.3 1881.1h.01M187 1937.8h.01M257.2 1905.5h.01M255.4 1903.5h.01M287 1971.8h.01M61.4 2002.3h.01M117.4 1923.7h.01M86.4 2007.7h.01M72.9 1990.2h.01M146.2 1979.8h.01M121.5 1873.5h.01M270.8 1975.4h.01M91.9 2032.2h.01M270 1892h.01M55.8 1967.7h.01M84.6 1989h.01M163.7 1985h.01M187.9 1995.9h.01M248.4 1966.2h.01M193.1 1917.5h.01M83.4 1876h.01M256.9 1896.1h.01M153.6 1915.7h.01M199.9 1953.9h.01M257.4 1936.7h.01M138.1 1974.8h.01M230 2023.2h.01M126 2016.3h.01M286.7 2033.3h.01M82.2 1926.9h.01M237 2006.5h.01M60.7 1929.5h.01M225 1993.7h.01M179.6 1896.9h.01M148.8 1870h.01M127 1935.2h.01M248.7 1963.8h.01M150.6 1903.2h.01M126.9 1978.2h.01M158.1 1890.3h.01M248.4 1961.4h.01M283.4 1954.5h.01M200.7 1935.3h.01M197.2 2022.1h.01M286.7 1976.5h.01M154.5 1870.8h.01M252.8 1928.9h.01M143 1869.8h.01M59.4 1928.7h.01M285.1 1990.6h.01M221.3 1977.8h.01M116.7 1889.5h.01M195.8 1870.9h.01M192.3 1950.6h.01M181.4 1881.1h.01M67.4 1943.3h.01M86.1 1973h.01M125.5 1969.4h.01M231.3 1966.9h.01M178.8 1894.6h.01M134.5 2032.5h.01M115.7 1909.9h.01M169.6 1956.2h.01M241 1911.9h.01M282.3 1863.6h.01M240.9 1960.4h.01M267.5 1886.7h.01M216.6 2027.1h.01M211.3 1879.6h.01M272.2 2031h.01M77.8 2005.9h.01M70.2 1874.1h.01M242.1 1986.9h.01M280.9 1971.4h.01M174 1907.8h.01M188.7 2035.1h.01M206.4 2014.4h.01M98.6 1989.6h.01M226.8 1872.2h.01M248 1890.8h.01M103.4 1870.5h.01M210.2 1884.8h.01M285.4 1859.7h.01M245.5 1993.8h.01M187.8 1960.8h.01M242.7 1972.1h.01M84.6 2000.5h.01M136.1 1962.9h.01M174.2 2019.4h.01M150.6 2010.5h.01M70.8 1917.3h.01M212.1 1967.8h.01M251 1896.4h.01M244.2 2000.3h.01M85.5 1884.4h.01M191.2 2032.1h.01M198.5 1935.3h.01M172.8 2002.7h.01M176.5 1954.5h.01M193.6 2024.4h.01M243.3 2008h.01M115.1 1965.7h.01M248.7 1986.6h.01M279.6 2021.4h.01M81.8 1949.5h.01M137.1 1895.9h.01M171.4 2033.5h.01M235.6 1877.2h.01M110.7 1925h.01M263.6 1940.9h.01M89.5 1956.9h.01M110.5 1866.5h.01M193.4 2034.8h.01M237.4 1989.8h.01M87.8 1959h.01M204.1 1993.8h.01M158.4 1869.1h.01M273.8 1906.6h.01M228.4 1941.7h.01M238.2 1919.4h.01M73.4 1935.3h.01M166.4 1999.7h.01M148.1 1977.5h.01M141.5 1989.2h.01M93 2015.2h.01M277.9 1863.9h.01M257.2 1997.2h.01M217.5 1878.4h.01M227.1 1996.1h.01M201.5 2030h.01M278.5 1971.7h.01M273.2 1885.1h.01M122.8 1953.3h.01M176.6 2028.1h.01M203.8 1969.5h.01M200.3 2026.8h.01M147.3 1990.4h.01M195.2 1930.8h.01M132.6 1886.9h.01M53.8 1919.1h.01M123.2 1874.1h.01M167.7 1921.7h.01M273.4 1997.6h.01M210.8 2009.4h.01M117.1 1880.2h.01M197.5 1899.9h.01M287.6 1934.8h.01M263.9 1903.1h.01M73.7 1970.5h.01M217.5 1904.9h.01M273.6 2031.7h.01M216.1 2033.1h.01M287.2 1885.9h.01M226.5 1991.5h.01M226.9 1919.7h.01M181.6 1963.6h.01M255.2 1868.8h.01M141.2 1915.3h.01M241.2 1880.3h.01M66 1880.1h.01M79 1936.6h.01M259 1922.5h.01M75.5 1978.1h.01M131 1960.6h.01M230.6 1940.3h.01M227.2 1969.2h.01M255.6 1994.4h.01M267.5 1991.6h.01M118.9 1948.9h.01M236.5 1998.3h.01M226.5 2008.7h.01M249.1 1955.3h.01M204.9 1867.4h.01M165.8 1988.1h.01M270.4 2009.6h.01M156.6 1900.3h.01M263.7 1975.8h.01M97.2 1866.4h.01M261.9 1961.6h.01M77.5 2034.6h.01M192.1 1993.8h.01M244.7 1904.9h.01M176.6 1890.1h.01M198.2 1936.5h.01M240.8 1880.2h.01M100.5 1928.1h.01M51.6 1931.5h.01M282.2 2012.7h.01M94.4 2006.7h.01M105.2 1902h.01M204.2 1911.7h.01M99.5 1874.8h.01M93.6 1893.7h.01M270 1867.1h.01M180.8 1897.2h.01M224.1 1860.2h.01M140.3 1990.1h.01M57.4 1932.4h.01M129.4 1945.3h.01M202.1 1873.8h.01M259 1907.4h.01M236.5 1883.2h.01M73.7 1893.9h.01M71.3 1903.5h.01M84.7 1875h.01M255.6 1953.1h.01M170.4 1949.5h.01M245.7 1867.8h.01M62.1 1977.4h.01M52.9 1949.1h.01M201.2 2009.8h.01M51.4 1930.7h.01M126.3 1962.2h.01M59.1 1992.9h.01" stroke="#605e74" stroke-width="2.2" opacity="0.7"/>
<path d="M283.6 1955.3l0.2 0.5M127.6 1961.9l0.1 0.3M250.9 2038.3l-0.6 0.5M274.7 1857.3l-0 0.6M125.7 1888.1l-0.5 0.4M224.3 1998.1l-1.1 2M238.8 2020.7l-0.9 0.7M211.4 2004.4l1.5 1.3M157.2 1947.5l-0.9 1.9" stroke="#3a34c8" stroke-width="3"/>
<path d="M279.5 1962.4l-0.5 0.5M173.1 1906.6l0.2 0.6M245.8 1885.7l-1.4 0.3M211.9 1996.9l-0.3 0M293.6 1957.6l1.6 0.4M214.5 1959.3l-0.2 0.4M73 1876.6l0 0.6" stroke="#1c16ae" stroke-width="4.5"/>
<path d="M280.9 1953.9l0.8 0.2M105.1 1938.7l1.1 0M130.5 1963.7l-0.1 0.2M246.3 1920.5l-0.1 0.7M77.8 2027.7l0 0.9M223.5 1937.7l-0.3 0.1" stroke="#1a14a8" stroke-width="2"/>
<path d="M204.2 1925l0.5 0.2M262.2 1931.8l-0.1 0.2M90.1 1873.2l-0.3 0.4M128.4 1862.3l-0.3 0.1M243.2 1919.9l-0 2.1M207 1891.5l1.9 1.4M102.8 1944.2l-1.1 1.5M252 2021.8l0.9 0.1M176.6 1944.9l-1.4 0.6M269.9 1930.7l0.2 0.3" stroke="#1c16ae" stroke-width="2.5"/>
<path d="M201.6 1923l-0.6 1M82.8 1955.6l0 0.2M223.3 1949.6l-0.8 1.5M128.2 1868.5l-0.3 0.2M261.6 1870l-1.2 0.3M92.2 1989l-1.8 1.2M177.9 1940.6l-0 0.1M98.7 1896.6l-1.6 1M108.6 1872.6l-0.3 0.4M195 1909l0 0M157 2025.1l2 1.5" stroke="#1c16ae" stroke-width="6"/>
<path d="M71.3 1999.8l-0.4 0.3M132.2 2004.9l-0.2 1.1M266 1971.4l0.2 0M151.9 1995.2l1.2 0.6M106.2 1910l0.3 0.4M204 1884.9l0.9 0.9M237.2 1913.4l-2.1 1.3M267.3 1868.8l0.4 1.7M190.1 2001.8l1.1 2M171.6 1901.9l-0.5 0.9M279 1860l-0.7 0.3M281.2 1857.2l2.1 1.1M277.2 1978l1.3 0.7" stroke="#2a22c0" stroke-width="2"/>
<path d="M69.3 2004.2l0.3 0.2M108.5 2004.6l0.5 0.2M160.9 1972.6l-0.4 0.8M61.6 2034.9l-0.8 0.6M268.4 1982.3l0.5 0.1M215 1955.1l-0.5 0M193.7 1917.6l-0.4 0.1" stroke="#2018b4" stroke-width="4"/>
<path d="M88.1 1952.9l-0.7 0.6M170.7 2031l-0.9 0.6M285.2 2021.1l1.6 0.9M75 2028.7l-0.8 1.2M201.8 1937.5l-0.7 0.9M210.7 2001.2l1 2.3M56.9 1868.2l-0.7 1.2" stroke="#2018b4" stroke-width="6"/>
<path d="M89.9 1956.9l-0.5 2.2M113.8 1903.5l2 0.3M286.6 2019l-0.7 1.3M151.3 2010.5l-0.4 0.5M248.1 1928.1l-0.1 0.5M60.3 1973.3l-1.1 0.8M101.6 2037l-0.3 0M104.2 1958.3l0.9 0.2" stroke="#2018b4" stroke-width="5"/>
<path d="M88.3 1960.2l-1.4 0.6M94.2 2000.7l0 0.1M175 1909.2l-1.1 0.5M109.6 1911.1l0 0.9M161.1 1935.8l0.6 0.6M245.4 1924.2l-1.2 2.1M176.4 1959.8l-0.5 1M270.8 1983l-0.3 0.5M256.6 1916.6l-0.1 1M205.3 2002.2l-0.7 0.9M257.1 2029.4l-1.1 0.8M96.4 1928.5l0.3 1.3" stroke="#1c16ae" stroke-width="2"/>
<path d="M136.6 1998.8l-1.7 0.2M187.6 1896.9l0.4 1M263.3 1973.9l-0.1 0M162.1 1934.6l0.5 1.3M85.1 2009.3l-1.1 1.1M161.5 1866.5l-0.1 0.2M263.6 1914.2l0.7 0.7M62.2 2032.8l-0.6 1.2M169.2 2031.7l0.8 0.4M214.4 1957.2l0.6 0M191.9 1915.2l0.3 0.1M148.3 2005.8l0.4 0.1" stroke="#2a22c0" stroke-width="3.5"/>
<path d="M72.3 1929.2l0.1 0.3M286.2 1902.1l1.3 2.2M245 1886.4l0.7 0.2M76.9 2025.6l1.9 0.5M155.5 1965l-1.2 1M100.4 1900.3l1.6 1M167.5 2015l-0.5 0.1" stroke="#2018b4" stroke-width="2.5"/>
<path d="M109.8 1943.2l-0.6 0.2M129 1912.9l0.6 0.6M102.2 1907.8l-0.6 0.8M204.6 1887l-0.5 1.7M251 1922.3l0.6 0.6M101 1956.2l0 0.1M101.6 2036.1l-1.7 1.1M206.1 1943.7l1.7 0.4M113.4 1883.3l0.8 1.3M264.7 1968.2l1.4 0.5" stroke="#3a34c8" stroke-width="4.5"/>
<path d="M107 1939l1.8 1.2M165.8 1969.4l-0.2 0.4M75.5 2001.9l-2 0.9M96.7 1859.6l1.3 0.8M267 1991.6l0.5 1.6M126.3 1886.3l-0.2 0.4M281 1954.3l0 0M167.8 2019.9l-0.4 0.3M108.8 1959l-0.9 1.6" stroke="#1c16ae" stroke-width="4"/>
<path d="M108.6 1937.6l-0.5 0.5M173.9 1931.4l0.1 0.5M133.1 1878l0.5 0.3M243.7 1930.5l-0.6 1.2M66.2 1862.8l0.3 0.6M288.2 2036.8l-0.7 0.5M71.2 1971l0.3 0.7M94.9 1875.8l2.1 1.3M181.1 1861.2l0.1 2.1M172.8 1901.6l0.9 0.2M192.6 1916.3l-1.9 1.2M97.7 1957.5l0.2 0.4M82.5 1962.9l0.1 0.2" stroke="#1c16ae" stroke-width="5"/>
<path d="M258.3 1932.5l1.1 0.5M224 1942.9l0.1 0.9M111.3 1902.4l-1.4 1.7M245.8 1920.8l0 0.8M199.5 1959.3l-1.1 1.6M74.5 2030.2l1.5 0.1M174 1863.2l-0.3 1.9M269.7 2036.3l1 0.1M186.9 2001.5l-0.1 0.4M142.5 1910.2l-1 0.9M252.5 1916l0.1 1.5M156 1950.7l-1.8 1.4" stroke="#3a34c8" stroke-width="2"/>
<path d="M134 1917.4l0.1 0.3M111.6 2004.4l-0.7 1.7M134.6 1963.3l-0.7 0.7M77.4 1896.8l0 0M183.4 1983.7l0.3 0.1M211 2003.9l1.3 1.3M87.7 1922.3l0.6 0.1" stroke="#2a22c0" stroke-width="5"/>
<path d="M132.6 1912.3l0.4 1M50.8 1938.8l2.3 0.4M162.1 2020l0.4 0.4M253.4 2026.5l1.4 1.9M185.9 1880.6l-0.7 0.2M85.7 2011.9l-0.1 0.2M269.7 2009.2l-0.8 2.2M182.5 1864.5l0.3 0.7M207.5 1941.1l2.1 0.1M136.3 1972.5l-0 0M67.3 1897.3l-0.1 1" stroke="#1a14a8" stroke-width="4.5"/>
<path d="M180.1 2030.1l0 0.2M252.4 2018.8l2.4 0.3M193.4 2017.2l2.4 0.6M125.9 1992.7l0.5 1.8M140.7 1915.4l-1.2 0.3" stroke="#1a14a8" stroke-width="3"/>
<path d="M174.4 2029.6l1.3 0.5M248.3 1925l0.3 0.2M268.7 1860.4l2 0.8M121.3 1991.6l-0.1 0.8M179.5 1973.6l-2.1 0.2M88.8 1975.8l-0.1 2M127.9 1886.5l1.9 1M74.8 2014.2l2 1.5M174.7 1946.4l1 0.6M179.7 1941.9l-1.1 1.1M142.7 1932.1l0.1 0M110.5 1943.6l-0 0.3M84.3 1966.5l-0.3 0.4" stroke="#2a22c0" stroke-width="4"/>
<path d="M162.1 1858.3l1.3 1.1M232 1874.3l1 0M67.2 1865.6l-0.2 0.2M203 1892.7l1.5 1.6M206.5 1894.6l0 0.9M60.5 1972.6l-1.2 0.9M129.2 1973.6l1.5 0.9M231.1 2020.9l1.1 0.3" stroke="#1a14a8" stroke-width="2.5"/>
<path d="M87.7 1868.8l-1.7 0.3M170.4 1934.5l0.1 0.1M183 1997.5l-1.6 0.4M162.2 1953l0.4 1.5M224.1 1937.4l-1.9 0.5M275.8 1974.8l0.3 2.3M76.1 1869.3l-0.5 0.5M67.7 1900.2l0.6 0.5" stroke="#2a22c0" stroke-width="2.5"/>
<path d="M182.9 1893l-1.6 1.3M100.6 2001l-0.3 1.6M202.4 1895.2l-1 1M198.4 1874.3l0.2 0.4M185.9 2019.8l-0.1 0M57.2 1866.8l1.8 1.7" stroke="#2018b4" stroke-width="4.5"/>
<path d="M291.5 1901.3l0.7 0.9M244.8 1925.3l-0.1 1.1M102.3 1885.4l-0.7 0.8M239.4 1915.7l-0.6 1.2M224.6 1935.6l-1.1 0.5M266.4 1983.3l1.1 0.2M267 1986.3l1 0.5M277.1 1961.1l2.2 0.1M110.8 1957.5l0.5 0.1" stroke="#3a34c8" stroke-width="4"/>
<path d="M282 1906l-1.1 0.4M90.2 1962l-1.3 0.9M253.4 2022.7l-1.4 1.4M285.2 1889.4l1.3 0.5M179.5 1976.6l-0.1 1.5M129.1 1941l-0.2 0.3" stroke="#2a22c0" stroke-width="4.5"/>
<path d="M257.1 1881.5l-0.5 0.4M81.8 1897.7l-0 0.1M165.5 1953l-1.2 0M235 1881.3l-1.1 1.2" stroke="#2018b4" stroke-width="3.5"/>
<path d="M261.9 1879.6l-0.5 0.2M151.6 1992.1l-0.6 0.1M109.9 2000.1l0.2 0.1M248.7 2028.4l-0.6 1M58.2 1889l-1.3 0.7M194 1908.7l-0.4 0.1M141.5 1972.7l-0.3 0.1" stroke="#1a14a8" stroke-width="5"/>
<path d="M91.3 2008.8l2.3 0.1M74.1 1932.6l1.4 2.1M72.4 1963.1l0.1 0.3M148.2 2011.8l1.5 0.6M180.1 1897.8l0.7 0.7M170.1 1863.5l-1.9 1.5M72.3 2011.4l-1.3 1.8M164.7 2014.3l-0.8 0.5M166.9 2004.9l-0.5 1.6M112.3 1961.9l-0.9 0.2" stroke="#2018b4" stroke-width="3"/>
<path d="M94 2006.8l-0 1.4M68 1867.2l0.7 0.1M187.5 1932.5l-0.4 1.1M205.3 1873.8l2 0.4M180 1878.8l0.1 0.2M278.8 1958.2l0.2 1.1M66.1 2035.1l-0.9 0.6M269.1 2007.3l0.2 0M215.2 1925.6l0.4 0.1M225.1 1938.5l-0.6 0.9M152.8 1942.4l0.1 2.4M156.8 1943.1l-0.1 0.2" stroke="#2a22c0" stroke-width="6"/>
<path d="M256.7 2019l-1.8 1.2M106.1 2003.6l-1.3 0.6M256.3 2026.9l-0.1 0.2M99.2 1898.8l2 1.4M154 2018.3l1.1 0.9" stroke="#1c16ae" stroke-width="3.5"/>
<path d="M273.1 1889.1l0.6 0.1M150 2014.5l0.1 0.2M131.7 1944.4l1.3 1.9M67.3 1866.1l0.5 1.8M73.1 1870l-0.3 0.2M232.3 1899.6l-0.4 0.6M92.8 1935.5l1.9 1.1M108.7 1934.2l0.1 2" stroke="#1c16ae" stroke-width="3"/>
<path d="M277.8 1889.5l-0 0M240.5 1913.9l0 2M51.5 1883.8l-1 0.6M164.8 2018.9l0.2 0.6M186.3 1893.1l-1.2 0.2M161.5 1991.6l0.2 0.1M253.1 1917.1l-1.5 0.8M100.4 1928.2l2.2 0.8" stroke="#1a14a8" stroke-width="6"/>
<path d="M246 1885.2l-1.2 0.2M136.9 1877.6l-0.2 0.3M131.4 1962.2l0.2 1.7M187.8 1936.2l0.1 1.1M173.9 1881l-0.6 1.1M172.9 1940.6l0.9 0.8M84.2 2009.8l-1.3 2.1M203.2 2027.8l-0.9 0.1M207.2 1939.3l0.1 0.5M278.3 1975.8l0.7 0.8M119.2 1933.6l0.1 0.6M73.5 1903.1l-0.1 0.4" stroke="#1a14a8" stroke-width="4"/>
<path d="M215.3 1875.7l-0 0M111.1 1911.8l0.5 0.9M121.2 2031.5l0.5 0.4M193.7 2019.4l0.4 0.3M186.2 1977.9l-0.9 0.4M124.2 1965.4l0.2 0.2M279 1998.5l-1.2 0.8" stroke="#2a22c0" stroke-width="3"/>
<path d="M134.8 1880.7l-0 0M75.7 1862.8l1.9 0.1M161.8 2018.3l0.5 0.2M180.5 1969.6l-0.3 0M209.5 1866l0.2 1M119.1 1991.8l-1.6 0.6M141.4 1920.5l0 0.1M240.5 2021.2l0 0.4M125.6 1970.9l-0.3 0.3M76 1864.1l-0.7 0.2M247.6 1907.2l0.4 1.7M95.9 1896.1l1.3 1.7M267.5 1952.9l1.8 1.3M107.3 2034.1l-1.1 1.3" stroke="#2018b4" stroke-width="2"/>
<path d="M232.2 1876.1l1.6 1.6M149.6 2010.2l-0.9 1.7M163.7 1954.2l-0.3 0M142 1913.5l0 0M106.4 1944.8l-1 2.2" stroke="#3a34c8" stroke-width="5"/>
<path d="M128.3 1864.1l-1.1 1.6M206.2 1885.3l-1.1 2.1M115.8 1904.3l0.9 1.7M285.3 2028.2l0.4 1.6M232.9 1942l0.4 1.1M76.9 1918.8l0.5 0.3M214 1942.7l-0.1 0" stroke="#3a34c8" stroke-width="2.5"/>
<path d="M243.4 1929.1l-0 1.2M169 1876.4l-0.3 0M122 1996.3l-1.5 1.6M122 1993l0.3 0.2M60.3 1967.3l2 1.4M126.3 1974.4l1.9 0.6M145.5 1915.2l-0.5 1.1M275.3 1970.3l1.2 0.3" stroke="#3a34c8" stroke-width="6"/>
<path d="M290.2 1947.3l0.1 0.1M82.1 2015.6l-1 1.3M106 1944.8l-0 0M143.8 2011.4l-0.4 2.2" stroke="#1a14a8" stroke-width="3.5"/>
<path d="M180.9 1941.4l-0.6 0.7M95 2000.3l-1.9 0.5M220.2 1925.7l0.9 2M249.2 1917.9l0.6 0.9M146.1 1993.7l-0.1 0" stroke="#3a34c8" stroke-width="3.5"/>
</g></g>
<path d="M222.3 2022.7L259.5 2022.7" stroke-width="3.8"/>
<clipPath id="mc4"><rect x="311.7" y="1859.7" width="239.3" height="176.7"/></clipPath>
<rect x="311.7" y="1859.7" width="239.3" height="176.7" fill="#e9e6f6" stroke="none"/>
<g clip-path="url(#mc4)" stroke-linecap="round" fill="none"><g filter="url(#soft)">
<path d="M482.2 2008.1h.01M355.4 2036.1h.01M358.1 1978.2h.01M333.7 1993.6h.01M347.9 1984.5h.01M485.1 1995h.01M417.3 2012.7h.01M548.1 1880.1h.01M435.4 2029h.01M488.6 1938.2h.01M384.6 2028.1h.01M332.1 1994.1h.01M513.5 1887.6h.01M389.9 1913.7h.01M441.4 1924.5h.01M525.6 2023.1h.01M387.4 2017.8h.01M328.4 1876.8h.01M470.9 2000.9h.01M507.7 2035h.01M517.4 1906.8h.01M489.4 2023.1h.01M334.1 1947.1h.01M348.6 1885h.01M426.5 1978.2h.01M544.7 1882.9h.01M432.7 2035.9h.01M494.8 1953.7h.01M369.8 1971.2h.01M374.1 1973.5h.01M466.9 1928.8h.01M501.9 1931h.01M423.9 2006.6h.01M371.7 1892.5h.01M449.1 1936.5h.01M520.9 1903.7h.01M400.6 1869.9h.01M419.6 1914.9h.01M419.1 1994.7h.01M320.7 2034.5h.01M481.9 2003.1h.01M440.6 1961.5h.01M409.7 1929.7h.01M364.5 1913.2h.01M382 1919.1h.01M528.8 2000.8h.01M465.1 1862.7h.01M374.5 1955.7h.01M477.3 1933.8h.01M463.1 2019.6h.01M375.7 1927.2h.01M493.6 1916h.01M484.3 1929.9h.01M316.3 1941.4h.01M328 1998.4h.01M513.9 1953.3h.01M526.9 1897.3h.01M418.4 1890.7h.01M323.3 2005.4h.01M324.2 2024.8h.01M444.9 1983.5h.01M323.6 2020h.01M501.6 1878h.01M355.5 1884.6h.01M432.3 1873.6h.01M502.8 1947.4h.01M480.2 1904.7h.01M468.2 1939.8h.01M466.9 1932.3h.01M548.5 2009.2h.01M511 1920h.01M357.4 1886.8h.01M343.2 2030.6h.01M379.2 2013.5h.01M367.3 1969.2h.01M371.3 1914h.01M490.6 1967.2h.01M538.1 1901.7h.01M376.4 1870.8h.01M362.9 2033h.01M446.6 1943.7h.01M393.3 1993.9h.01M476.6 1887.2h.01M322.8 1890.4h.01M507.2 1989.2h.01M365.9 1901.1h.01M385.2 1979.7h.01M490.8 1901.8h.01M390.4 1901.6h.01M538 1957.2h.01M536.6 1902.5h.01M463.1 1960.2h.01M534.7 1924.1h.01M366.4 2004.2h.01M539.7 1949.6h.01M391.3 1874.8h.01M418 2023.2h.01M397.2 1939h.01M446.8 1901.7h.01M337.7 1951.4h.01M543.2 2013.8h.01M384 1998.3h.01M510.8 1962.8h.01M397.7 1894.3h.01M480.1 1981h.01M362.8 1884.7h.01M339 2006.1h.01M523.6 1951h.01M457.9 1984.7h.01M349.2 1951.5h.01M418.9 2013.3h.01M350.9 2009.4h.01M345.7 1967.6h.01M525.1 1873.2h.01M427.4 1860.5h.01M433.5 1945.5h.01M541.4 1945.6h.01M529.4 1988.6h.01M513.1 1921.6h.01M334.6 1972.3h.01M338.6 1970.4h.01M354.6 1966.5h.01M495.1 2029.6h.01M359.8 1890.6h.01M412.4 2031.8h.01M372.6 1943.6h.01M402.9 1870.7h.01M440.8 1913.9h.01M424.2 1990.3h.01M471.4 1903h.01M466.7 1954.5h.01M494.7 1860.3h.01M378.9 1978.6h.01M445.1 1948.8h.01M438.3 1968.8h.01M487.8 2007.2h.01M498 2019.9h.01M449.4 1890h.01M400.1 2012h.01M496.5 1969.2h.01M342.2 1888h.01M468.7 1934.3h.01M356.6 2031.2h.01M367.1 2023.4h.01M460.4 2028.5h.01M497.2 1895.2h.01M366.2 2012.2h.01M415.6 1948.7h.01M490.5 1966.2h.01M483.8 1951.8h.01M377.6 1987.2h.01M341.9 1987.6h.01M502.2 1884.8h.01M312.3 2021.2h.01M356.3 1953.9h.01M381.1 1883.9h.01M373.5 1872.7h.01M514.3 1995.7h.01M499.2 1885.7h.01M389.1 1876.9h.01M514.9 2032h.01M538.7 2008.7h.01M458.4 1947.6h.01M339.1 1865.5h.01M459.8 2029.6h.01M546.5 1933.5h.01M436.5 2015.4h.01M379.4 1989.4h.01M455.3 1936.4h.01M404.9 1887.7h.01M346.7 1912.2h.01M548.2 2004.4h.01M313.8 1993.4h.01M345.5 1961.5h.01M532 2019.7h.01M523.9 2035.1h.01M462.8 1865.2h.01M372.5 1977.9h.01M454.3 2020.9h.01M352.5 2016.3h.01M449.9 1964.4h.01M340.7 1922.5h.01M434.8 1993.1h.01M474.4 1973h.01M481.7 1922h.01M392 2032.5h.01M472.2 1958.6h.01M542.9 2012.6h.01M484.2 2032.6h.01M403.6 2023.2h.01M449.7 1935h.01M407.9 1868.4h.01M523.9 2031.7h.01M402.1 2027.1h.01M342.9 1941.3h.01M549.3 1971.5h.01M349.2 1971.9h.01M317.9 1987.2h.01M452.3 1973.6h.01M473.3 1876.8h.01M522.8 1994.8h.01M525.4 1900.5h.01M366.2 1987.4h.01M532.4 1960.2h.01M369.9 1937.7h.01M369.3 1945.1h.01M541.2 1979.6h.01M360.2 2021.5h.01M521.6 1931h.01M311.9 1977.6h.01M389.3 1882.3h.01M529.2 1930.4h.01M351 1909.8h.01M549.9 1921.8h.01M424.6 1904.2h.01M331.2 1883h.01M325.9 1940.2h.01M414.9 1984h.01M511.1 2014.2h.01M345.2 1958.3h.01M345.9 1912.1h.01M404.3 1929.1h.01M513.6 1934.8h.01M350 1965.8h.01M373.9 2019.7h.01M337.5 1887.1h.01M327.3 1912.2h.01M499 1873.8h.01M457.3 2018.2h.01M367 1991.2h.01M484.8 2029.9h.01M515.6 1970.8h.01M413.5 1924.7h.01M340.9 1869.1h.01M465.8 1909.8h.01M349.2 1944.2h.01M346.5 1972h.01M539.4 1925.5h.01M319.6 1889.2h.01M386.5 2016.6h.01M537.9 1966.8h.01M406.6 1876.6h.01M512.4 1864h.01M374 1989.2h.01M477.5 1892.5h.01M548.5 1975.2h.01M476.5 1900.9h.01M502.2 1864.3h.01M455.7 1863.3h.01M500 1964h.01M447.8 1925.4h.01M498.9 1865.8h.01M348.3 1861.8h.01M461.8 1871.1h.01M313.4 2010.5h.01M387 1924h.01M510.4 1925.1h.01M513 2034.6h.01M337.3 1901.5h.01M314.3 1906.3h.01M453.6 2033.1h.01M502 1987h.01M346.7 2023.6h.01M415.4 1996.9h.01M358.3 2031.9h.01M404.2 1911.5h.01M518.1 1977.4h.01M407.7 1939.3h.01M488.5 1926.9h.01M438 1947.6h.01M407.2 1921.6h.01M373.4 1999.8h.01M469.2 1890.3h.01M351.5 1929.1h.01M454 1948.9h.01M466.5 1983.6h.01M382.2 1871.5h.01M469.3 1955h.01M392.1 2016.3h.01M346.4 1880.3h.01M462.1 1927.6h.01M467.8 1875.8h.01M427.8 1968.3h.01M415.5 1885.3h.01M330.7 1914.9h.01M381.5 2015.6h.01M327.8 1991.9h.01M540 1951.4h.01M351.7 1967.9h.01M533.5 1932.3h.01M485.7 1896.6h.01M373.8 1922h.01M457.4 2025.7h.01M350.2 1867.2h.01M372.6 1973.8h.01M475.1 1954.6h.01M484.4 1944.7h.01M349.2 2029h.01M392.6 1861h.01M352.5 1905.4h.01" stroke="#605e74" stroke-width="2.2" opacity="0.7"/>
<path d="M480.7 1913.1l-0.5 1.1M453.6 1946.7l1.1 0.3M440.7 1968.9l-0.6 0.9M374.6 2020l-0 0.1M438.1 1919.7l0 0.1M372.5 1993.9l-1.5 0.1M368.1 1959.9l-0.8 0.2M463.4 2004l-0.2 0.2M544.5 1985l-0.3 1.4M318.2 2027.9l1.2 0.1M325.4 1908.4l-0.6 1.4" stroke="#1a14a8" stroke-width="4"/>
<path d="M529.4 1904.6l-0.8 0.8M516.4 1945.6l-0.5 2.1M381.1 2020.3l-0.5 0.5M516.2 1928.1l-0 0M418.4 2008.4l-0.3 1.2M408.9 1954.3l0.5 1M322.7 2009.6l-2 0.6M413.7 1895.4l-0.4 0.9M406.8 1941.6l1.4 1.5M532.7 1875.8l-2.2 1.1M387.7 2007.3l-0 0M504.4 2007.4l1 0.7M538.7 1983.1l0 0M545.1 2024.3l0.8 0.6M524.6 1955l0.5 0.9" stroke="#1c16ae" stroke-width="4"/>
<path d="M358.7 1981.3l-0.7 2.2M318.3 1871.3l0.3 1.2M475.4 1872.9l1.1 0.8M476.4 2025.5l-0 0M493.9 1936.1l-1.4 0.3M345.2 1894.9l0.1 0.2M349.3 1888.5l-0.2 0.2M419.4 1940.2l-0.8 1.5M412.7 1912.7l1.5 0.2" stroke="#2018b4" stroke-width="2.5"/>
<path d="M356.3 1981.7l-1.5 2M357.6 1986.8l0.9 0.4M541.1 1930.2l0.1 0.2M335.2 1905.1l1.4 2M315.8 1893l0.5 0.5M386.4 2004.3l-0.6 0M519.3 1960.5l-0.7 0.4M516.2 1883l0 0.1" stroke="#1a14a8" stroke-width="3"/>
<path d="M355.4 1986.1l1.2 1.9M544.4 1873.8l-2 0.8M323.6 1868.1l-0.6 0.1M381.9 1971.6l-1.3 0M467.3 2036.8l0.5 0.6M366.8 1910.5l1.9 1.2" stroke="#1a14a8" stroke-width="5"/>
<path d="M521 1936.6l-0.4 0.6M477 1873.3l-0.7 0.9M438.8 2013.7l0 0.1M506.7 2035.4l0.2 0M439.2 1884.4l0.9 1.5M405.8 1975.2l-0.6 0.3M403 1977.8l1.8 0.5M346.9 1965.4l-0.4 0.3M411 1942.2l0 0.1M389.4 1929.7l-0.4 1.5M371.3 1893.5l2.4 0.3M334.3 1981.8l0.1 0.2" stroke="#3a34c8" stroke-width="2.5"/>
<path d="M515.4 1942.5l0 0M515.6 2011.4l0.4 1.6M482 2019.1l-0.7 1.5M491.6 1925.6l-1.1 1.4M509.5 1887.4l-1 0.8M409.8 1875l-1.8 0.9M520.3 1973.7l0.6 0.8M502.7 1910.5l0.5 0.8M400.1 1942l0.4 0.2M444.9 2014.8l-1 1.9M330.6 1889.3l-0.4 0M432.4 1862.6l0.6 0M430.2 1901.3l-0.3 1.1M347.4 1894.3l0.1 0" stroke="#2a22c0" stroke-width="2"/>
<path d="M517.5 1945l-0.2 0.4M552.8 1915.2l0.3 1.5M487.9 1998.8l0.8 1.7M325.6 1869.4l-0 1.1M492.6 1904.9l-0.8 1.1M540.4 1867.2l-1.8 0.8M529 1991.9l0.1 1.3M537 1902.7l-0.9 1.1M334 1930.3l-0.6 1.6M331.6 1902.3l-0.8 0.1" stroke="#1a14a8" stroke-width="2"/>
<path d="M487.2 1998.7l-0.9 1.5M480 1871.4l-0.9 0.8M541.9 1984.4l-1 0.4M374.7 2019.7l-0.5 0.2M508.3 1884.6l-2.1 1.4M431.5 2019.1l-0.9 1.2M522.1 1872.6l-0.1 2.5M339.6 1881l-0.6 1.3M437.9 1945.4l-0.8 0.4M412.5 1940.4l-0.5 1.1M343.1 1956l0 2.3M314 1966.6l-0.9 1.1M540.8 1904.4l0.1 0.1M317.2 1970.7l0.8 2.2" stroke="#2018b4" stroke-width="6"/>
<path d="M513.2 2009.1l-1.5 1.5M319.6 1872.5l0 0.6M499.7 1978.9l0.8 2M430.2 1881l1.1 1.1M525.1 1869.7l0.7 0.7M430.3 1952.4l0.2 0.7M444.1 1883.7l0.4 1.3M487.2 1868.9l1.4 1.8M352.3 1863.7l0.8 2.3M398 1936.4l-0.5 1.1M534.8 1870.9l-0.9 1.8M424 1893.1l0.2 0.3M417.4 2009.7l-1.7 1.7M324 1904l0.1 0.6M458.8 1952.5l0.2 0.6" stroke="#2a22c0" stroke-width="4"/>
<path d="M510.9 2016.8l0 2.1M435.8 1978.5l-0.4 1.8M498.7 1929.1l-2 1.2M456.8 1984.1l0.8 0.6M342.4 1962.3l1.3 0.7M500.7 1910.2l0.2 0.5M442.1 2017.7l-0.1 0.5M443.2 2014.1l-0.1 1.7M438.8 2013.3l0.3 1.5M549.3 1903.2l-0.4 0M332.4 1928.9l-0.6 2.2M534.7 1929.8l0.8 1.5M320 2022.5l0.2 0.3M332.3 1901.5l-0.1 0.3M403.9 1952.5l-0 0.4" stroke="#2018b4" stroke-width="2"/>
<path d="M372.6 1970.8l-2.1 0.7M435.7 1971.9l-2 0.3M490.5 1928.3l-0.3 0.9M403.3 1976.4l-0.1 0M466.3 2001.3l-2 0M408 1865.9l1.5 0M315.2 2022.4l-0 0M519.6 2026.4l-2.3 0.7M421.3 1864.4l0 0M467.2 1961.6l2.3 0.7M368.9 1889.9l0.3 2.2M336.4 1975.1l-0.2 0M513.4 2037.1l-0.1 0" stroke="#1c16ae" stroke-width="6"/>
<path d="M374 1968.8l0.5 0.2M318.2 1869.4l-0.7 1.1M385 2018l0.1 0.7M452.4 1944.2l-0.1 0.2M407.3 1978.2l-2.1 0.3M339.3 1875.7l0.4 0.2M485.9 1945.7l-1.1 0.8M462.3 1873.1l-0.4 1.2M401.2 2028.7l-0.6 0.3M345.3 2013.2l-0.6 1.3M479.3 1924.9l0.2 2.1M384.5 1947.6l-2.4 0.1M365.6 1996.6l0.3 1M324 2026l2.2 0.3M337.4 2012.9l0.9 0.8M435.7 1993.2l0 0M418.7 1939l-2.1 0.1" stroke="#3a34c8" stroke-width="5"/>
<path d="M501.6 1975.6l-1.5 1.7M478.1 1992l-0.6 0.5M432.7 1929.8l1.7 1.2M520.1 1908.8l0.7 0.6M489.5 1959.9l-1.3 0.1M447 1950.6l-0.9 1M398.1 2029.3l0.4 1.6M474 1861.2l-0.5 1.4M436.7 1999.7l-1.9 0.6M542.8 1990.5l1.6 0.4M524.5 2025.7l1.9 1.2M541.9 1906.7l0.8 0.2M452.1 1965.1l-0.1 1.9M331 1902.1l0 0.7M344.8 1886.3l-1.6 1.7M407.6 1913.8l0.4 1.7" stroke="#1c16ae" stroke-width="4.5"/>
<path d="M482.2 1919.5l-2 0.2M439.3 1973.3l0.5 0.3M328.4 1875.2l-1.9 0.2M340.5 1876.6l-0.3 0.6M336.3 1897.8l-0.3 0.4M533.5 1923.6l-0.9 1.5M364.7 1976.4l0.2 2.3M482.1 1968.2l0.4 1.3" stroke="#2a22c0" stroke-width="6"/>
<path d="M477.8 1873.1l-0.8 0.5M404 2004.8l-0.6 1.4M545.8 1877.2l0.8 0.6M445.1 1958.1l0.4 2.1M443.1 1953.2l-0.8 2.1M325.1 1903.9l-1.4 1.2M353.8 1880.9l0 2.1M526.8 2003l-0.5 0.1" stroke="#2a22c0" stroke-width="3"/>
<path d="M383.1 2018.5l-0.7 0.5M405.7 1954.1l0.2 0.5M427.9 1924.7l0.6 2.2M431.3 1932.8l-1 0.1M507 1990.6l-0.2 1.4M430.6 2008.8l1.2 0.2M518 2023.1l-1.1 0.2M474 1881.6l0.7 1.2" stroke="#1a14a8" stroke-width="6"/>
<path d="M384.1 2021.8l0.5 0.6M341.2 1967.1l-0.2 2.3M341.7 1931l1.1 1.9M515.2 1882.7l2 1M339.6 1910.1l-2 0.2M470 2032.8l0.2 0.6M337 1874.3l-1.6 1.5M330.8 2010.3l0.1 1.3M330.9 1907.7l0.4 1.1" stroke="#3a34c8" stroke-width="6"/>
<path d="M476.1 1997.2l-2.1 0.3M431 1934.4l-0.1 1.3M487.4 2015.2l0.4 1.4M312.8 1968.6l2.2 0.1M432 1917.2l-1.9 1M516.8 1907.4l-0.9 0.9M388.6 2028.3l2.3 0.9M414.5 1895.2l1.1 1.3M356.5 2031.6l-1.3 1.7M330.8 1898.4l-0.2 1.6M331.1 1885.6l-2.2 0.5M329 1908.6l-1.2 0.7M408.1 1916.9l0.6 2.1" stroke="#1a14a8" stroke-width="4.5"/>
<path d="M349.7 1997.6l0.1 0.1M378.4 1994.9l-0.1 0.3M515.5 1938.8l0.2 0.2M550.9 2024.5l-0.8 0.9M314 1916.7l-1.2 0.5M405.7 1945.4l-0 0.1" stroke="#3a34c8" stroke-width="4"/>
<path d="M402.3 2036.4l-0.3 0.8M406.6 2037.7l-0.4 1.7M373.9 2008.9l0.8 0.2M493.8 1933.3l1.5 0.6M533.4 1904l0.1 0.7M418.1 1918l-1.8 0.2M435.1 1921.4l1.7 0.3M322.7 1865.1l-1.2 1M366.7 1939.6l1.3 0.1M538.8 1867.2l0.5 0.4M409.3 1866.9l-0.2 0.2M544.8 1986.1l0.6 2.2M545.1 1906.2l-0.1 1.4M539.8 1911.6l0.6 1.8M550.4 2024.4l1.6 0.8M372 1887.5l0.7 1.7M400.1 1951.3l0.5 1.8" stroke="#3a34c8" stroke-width="3"/>
<path d="M396.4 2038.7l0 0.9M404.3 2008.9l-1.8 1M323.3 2012.5l0.2 1.2M511.1 1973.2l0.6 1.5M432.5 1882l1.7 0.5M497.9 2014.8l-0 1.3M330.2 1929.8l-2 0.9M370.7 1895.4l1.9 1.5" stroke="#2a22c0" stroke-width="3.5"/>
<path d="M377 2014.9l-0.9 0.5M405 2009.6l0.1 0.3M495.9 1953.6l-0.2 0M417.1 1942.2l0.1 0.2M396.2 1936.8l1.5 0M478.1 1937.3l-1.8 0.4M319.6 1866.6l0.1 0.2M529.3 1998.8l0.8 0.2M469.4 1884.4l1.1 1.4M399.8 1955.5l1.5 0.9" stroke="#2a22c0" stroke-width="4.5"/>
<path d="M333.2 2032l0.4 1.9M428.8 1929.3l1 1.5M418.4 1915.4l0.1 1.6M345.2 1962.6l0 0.1M456.7 2031.8l0.2 1.4M315 1918.5l-0.9 1.2M418.8 1944.4l0.5 1.8M330.9 1906.7l-0.4 0.3M359.8 1931.2l-0.3 1.9" stroke="#3a34c8" stroke-width="2"/>
<path d="M416.8 2005.8l0.9 1.3M470.3 1957.5l-0.1 0.3M528.8 1870.2l0.1 0M504.5 1913.6l-0.3 1.7M370 1980l0.1 0.1M472.9 2029.8l0.6 0.9M380.4 1972.3l0.6 0.7M339.2 1913.6l-0.6 2M412.2 1940l1.9 0.7M336.7 2006.1l-0.9 1.3M461.9 1866.1l0 0.8M439.6 1870.4l-0.1 0.1M349.7 1859.8l-0.1 0M380.4 1982.4l-2.3 0.6" stroke="#1a14a8" stroke-width="3.5"/>
<path d="M420.4 2008.4l0.1 1.2M425.3 1965.1l-0.7 0.8M520.3 1911.9l-0 0M481.6 1867.9l-0.1 1.4M517.2 1972.1l-0.5 0.2M320.5 1903.6l0.1 1M432.9 1864.3l2.2 0.4" stroke="#2018b4" stroke-width="3"/>
<path d="M408.4 1910.2l-2.3 0.8M524.1 1907.2l0.7 0.7M405.1 1877.4l1.2 1.8M484.4 1947.1l-2.2 0.6M530.2 1865.3l-0.2 0.6M398.6 1938.2l1.1 0.9M461 1874l-0.4 0.5M392.2 1959.8l2.4 0.2M528.1 2003.8l0.2 0.9" stroke="#1c16ae" stroke-width="3"/>
<path d="M495 1929.4l-0.8 0.8M428.1 1922.5l-0.1 0.5M392.8 1925.9l1 0.6M523 1888l-2 0M387.6 1859l-0.4 1M389.2 2008.8l2.2 0.8M438.9 2013.5l-0 0.1M455.8 1967.9l0 0.2M463.5 1916.1l0.4 0.8M529.2 1978.1l0.9 1.2" stroke="#2018b4" stroke-width="4.5"/>
<path d="M498.8 1933.3l-0.4 2.5M467.4 1952.5l-0.1 0.1M491.1 2031.7l1.1 1.4M324.6 1863.6l-0.8 0.6M407.2 1882.7l-0.2 1.4M351.1 1856l-1.2 0.2M387.5 2008.5l0.7 1M313.2 2022l1.7 0.9M376.6 2021.2l0.4 0.2M525.4 1956.2l0 0M441.3 1956.6l-0.2 0.5" stroke="#1c16ae" stroke-width="3.5"/>
<path d="M404.1 1952.4l1.2 2M381.8 1975.4l-1.3 0.3M335.5 1890.7l0.5 1.6M451.7 1971.5l-0.1 0.3M548.3 2027.2l0.2 0.3M333.2 1873.6l1.6 0.5M532.9 2000.1l0.3 0.1M400.4 1874.7l-1.4 1.7" stroke="#2018b4" stroke-width="5"/>
<path d="M412 1950.8l0 0.1M360.8 2013.8l0.6 0.7M423.9 1962.4l0.3 1.2M444.9 1950l-0.9 1.1M490.7 1956.5l1.6 1.6M471.4 2029l0.1 0.7M378.2 1884.7l0 0M468.4 2034.5l-1.7 1.1M404.1 2023.3l-0.7 1.9M382.8 1972.4l-0 0.1M544.4 1981.7l1.1 1.2M368.3 1909.7l0 0.1M364 1908.8l-1 1.4M546.1 1976l0.1 0M370.1 1948.5l-1.5 1.8" stroke="#2a22c0" stroke-width="5"/>
<path d="M463 1891.8l-0 2M360.6 2011.9l-1 1.4M484.4 1910.9l-0 0.7M457.1 1878.1l0.4 1.9M337.5 1927.3l-1.1 0.7M340.3 1930.5l0.9 0.4M478.8 1941l0.2 0.1M379.7 1891.9l-1.4 0.4M459.2 1983l-0.4 2.4M349.8 2011.9l-1.3 0.8M521.9 1950.1l0.2 0.1M533.3 1919.8l1 0.2M406.9 1914.5l0.7 0.5" stroke="#1c16ae" stroke-width="2.5"/>
<path d="M363.9 2013.8l0 0M452 1989l0.1 1.4M417.8 1919.3l0 0M416.5 1887.2l0.6 0.6M417.6 1888.4l0.2 1.8M368.2 1940.2l-0.4 0.4M339.5 1900.7l0.2 2.2M337.1 1928.6l0.4 0.7M368.5 1889.2l-0.4 0.9M336.5 1884.5l-1.1 0.9M456.3 1946.8l0.9 0.5M402 1875.1l-1 0.7" stroke="#1a14a8" stroke-width="2.5"/>
<path d="M530 1873.2l-0.2 2.1M500.3 1909.4l-0.2 1.3M343.1 2009.3l1.3 0.2M524.8 1957.2l-1.6 0.2M491.1 1937.1l0.2 0.1" stroke="#1c16ae" stroke-width="2"/>
<path d="M481.7 2026.7l-0 0.1M447.7 1988.2l-1 1M471.2 2024.9l0.1 1.2M488 1871.6l-0.9 0.8M522.7 1888.2l0 1.8M403.7 2031.1l0.8 0.7M428.9 1859l0.3 0.2M431.3 2012.4l-0.1 0.2M356.4 2037.7l1.2 1.7" stroke="#3a34c8" stroke-width="4.5"/>
<path d="M323.8 2007.2l1.4 2.1M484.4 1926.7l-0.6 0.9M411.3 1934l1 0.1M497.6 1996.2l-0 0.2M520.5 1881.7l0.8 1.5M442.3 1955.4l-0.2 0.4" stroke="#3a34c8" stroke-width="3.5"/>
<path d="M418.1 1915.8l-0.8 0.2M545.2 1873.2l-0.1 0.7M428 2020.3l-1.1 0.6M502.3 1996.8l-0.2 0.1M452 1961l1.1 0.3M471.3 2036.6l0 0M517.1 1996.4l-0.1 0.3M430.9 1866.8l-0 1.1M498.1 2022.4l0.8 1.4M450.2 1967.1l1.6 0.7" stroke="#2018b4" stroke-width="4"/>
<path d="M471.3 1934.5l0.4 0.9M539.3 1928.8l-0.3 2.4M435.7 1874.4l-0.6 1M462 2003.5l1 1.8M544 1973.3l0.6 0.4" stroke="#1c16ae" stroke-width="5"/>
<path d="M335.9 1879.7l-0.2 1.4M354.2 1857l-1.1 0.3M461 1869.6l0.3 1.9M457.5 1964.5l-0.5 0.1M528.7 1875.8l0.5 0.3M319.6 2026.6l0.8 0.5M335.4 1978.4l-0.4 0.1M409 1944.8l-0 0.1M530.1 2009l-1 1M409.9 2014.7l-1 1.9M417.4 1941.7l-1.2 0.3" stroke="#2018b4" stroke-width="3.5"/>
<path d="M484.8 1953.6l-2 0.7M525.9 1960.2l1 1M334.6 2007.2l-1.9 1.5M526.3 2007.5l-0.6 0.2M525.6 1978.6l0.6 0.9" stroke="#2a22c0" stroke-width="2.5"/>
</g></g>
<path d="M486 2022.7L523.7 2022.7" stroke-width="3.8"/>
<text font-size="33" text-anchor="middle" transform="translate(589.5 1848.2) rotate(-90)">Migrated cells per field</text>
<path d="M667.1 1685.2L667.1 2027.5" stroke-width="3.2"/>
<path d="M652.1 1686.8L667.1 1686.8" stroke-width="3.2"/>
<text x="647.9" y="1695.8" font-size="25" text-anchor="end">300</text>
<path d="M652.1 1799.8L667.1 1799.8" stroke-width="3.2"/>
<text x="647.9" y="1808.8" font-size="25" text-anchor="end">200</text>
<path d="M652.1 1912.4L667.1 1912.4" stroke-width="3.2"/>
<text x="647.9" y="1921.4" font-size="25" text-anchor="end">100</text>
<path d="M652.1 2025.9L667.1 2025.9" stroke-width="3.2"/>
<text x="647.9" y="2034.9" font-size="25" text-anchor="end">0</text>
<rect x="688.3" y="1934.6" width="36.4" height="91.3" fill="#7f7f7f" stroke="#000" stroke-width="4"/>
<rect x="738.4" y="1932.4" width="36.4" height="93.5" fill="#ffa040" stroke="#000" stroke-width="4"/>
<rect x="789.8" y="1761.6" width="36.4" height="264.3" fill="#ff8080" stroke="#000" stroke-width="4"/>
<rect x="840.3" y="1929.4" width="36.4" height="96.5" fill="#5858f8" stroke="#000" stroke-width="4"/>
<path d="M652.2 2025.9L899.6 2025.9" stroke-width="3.2"/>
<path d="M707 1927.5V1934M699 1927.5H715M699 1934H715" fill="none" stroke-width="2"/>
<path d="M757.5 1914.6V1944.5M749 1914.6H766M749 1944.5H766" fill="none" stroke-width="2"/>
<path d="M808.4 1728.4V1789.1M799.9 1728.4H816.9M799.9 1789.1H816.9" fill="none" stroke-width="2"/>
<path d="M858.9 1914.6V1939.4M850.4 1914.6H867.4M850.4 1939.4H867.4" fill="none" stroke-width="2"/>
<circle cx="692" cy="1933.8" r="4.7" fill="#fff" stroke="#000" stroke-width="2"/>
<circle cx="699.2" cy="1928.7" r="4.7" fill="#fff" stroke="#000" stroke-width="2"/>
<circle cx="707" cy="1928.7" r="4.7" fill="#fff" stroke="#000" stroke-width="2"/>
<circle cx="714.7" cy="1929.5" r="4.7" fill="#fff" stroke="#000" stroke-width="2"/>
<circle cx="721.9" cy="1936" r="4.7" fill="#fff" stroke="#000" stroke-width="2"/>
<circle cx="757.5" cy="1908.2" r="4.7" fill="#fff" stroke="#000" stroke-width="2"/>
<circle cx="743.3" cy="1926.6" r="4.7" fill="#fff" stroke="#000" stroke-width="2"/>
<circle cx="772" cy="1929.5" r="4.7" fill="#fff" stroke="#000" stroke-width="2"/>
<circle cx="757.5" cy="1936" r="4.7" fill="#fff" stroke="#000" stroke-width="2"/>
<circle cx="757.5" cy="1951.8" r="4.7" fill="#fff" stroke="#000" stroke-width="2"/>
<circle cx="808.4" cy="1715.5" r="4.7" fill="#fff" stroke="#000" stroke-width="2"/>
<circle cx="808.4" cy="1744.2" r="4.7" fill="#fff" stroke="#000" stroke-width="2"/>
<circle cx="792.6" cy="1764.7" r="4.7" fill="#fff" stroke="#000" stroke-width="2"/>
<circle cx="822.5" cy="1771.2" r="4.7" fill="#fff" stroke="#000" stroke-width="2"/>
<circle cx="808.4" cy="1796" r="4.7" fill="#fff" stroke="#000" stroke-width="2"/>
<circle cx="858.9" cy="1910.3" r="4.7" fill="#fff" stroke="#000" stroke-width="2"/>
<circle cx="846.1" cy="1922.3" r="4.7" fill="#fff" stroke="#000" stroke-width="2"/>
<circle cx="871.8" cy="1921" r="4.7" fill="#fff" stroke="#000" stroke-width="2"/>
<circle cx="843.9" cy="1940.3" r="4.7" fill="#fff" stroke="#000" stroke-width="2"/>
<circle cx="873" cy="1937.3" r="4.7" fill="#fff" stroke="#000" stroke-width="2"/>
<path d="M712.5 1908.2L712.5 1695L810.5 1695L810.5 1702.7" fill="none" stroke-width="1.6"/>
<path d="M816.1 1654.7L867.5 1654.7L867.5 1906" fill="none" stroke-width="1.6"/>
<text x="711.2" y="1685.5" font-size="23">p &lt; 0.0001</text>
<text x="776.3" y="1650.4" font-size="23">p &lt; 0.0001</text>
<text x="913" y="1683.3" font-size="65">l</text>
<text font-size="33" text-anchor="middle" transform="translate(932 1842.9) rotate(-90)">Number of colonies</text>
<path d="M1007.9 1692.5L1007.9 2027.5" stroke-width="3.2"/>
<path d="M991.9 1694.1L1007.9 1694.1" stroke-width="3.2"/>
<text x="988.6" y="1703.1" font-size="25.2" text-anchor="end">600</text>
<path d="M991.9 1805.4L1007.9 1805.4" stroke-width="3.2"/>
<text x="988.6" y="1814.4" font-size="25.2" text-anchor="end">400</text>
<path d="M991.9 1915.9L1007.9 1915.9" stroke-width="3.2"/>
<text x="988.6" y="1924.9" font-size="25.2" text-anchor="end">200</text>
<path d="M991.9 2025.9L1007.9 2025.9" stroke-width="3.2"/>
<text x="988.6" y="2034.9" font-size="25.2" text-anchor="end">0</text>
<rect x="1027.4" y="1973.5" width="32" height="52.4" fill="#7f7f7f" stroke="#000" stroke-width="4"/>
<rect x="1071.5" y="1963.7" width="32" height="62.2" fill="#ffa040" stroke="#000" stroke-width="4"/>
<rect x="1116" y="1789.4" width="32" height="236.5" fill="#ff8080" stroke="#000" stroke-width="4"/>
<rect x="1160.1" y="1918.7" width="32" height="107.2" fill="#5858f8" stroke="#000" stroke-width="4"/>
<path d="M991.6 2025.9L1212.9 2025.9" stroke-width="3.2"/>
<path d="M1043.2 1967V1972M1036.2 1967H1050.2M1036.2 1972H1050.2" fill="none" stroke-width="1.8"/>
<path d="M1087.3 1959V1962M1080.3 1959H1094.3M1080.3 1962H1094.3" fill="none" stroke-width="1.8"/>
<path d="M1132 1778.9V1796.8M1124 1778.9H1140M1124 1796.8H1140" fill="none" stroke-width="2"/>
<path d="M1176 1907.3V1923.1M1168 1907.3H1184M1168 1923.1H1184" fill="none" stroke-width="2"/>
<circle cx="1031.4" cy="1973.2" r="4.7" fill="#fff" stroke="#000" stroke-width="2"/>
<circle cx="1042.1" cy="1966.8" r="4.7" fill="#fff" stroke="#000" stroke-width="2"/>
<circle cx="1055" cy="1968.1" r="4.7" fill="#fff" stroke="#000" stroke-width="2"/>
<circle cx="1076" cy="1961.7" r="4.7" fill="#fff" stroke="#000" stroke-width="2"/>
<circle cx="1087.1" cy="1959.5" r="4.7" fill="#fff" stroke="#000" stroke-width="2"/>
<circle cx="1098.6" cy="1960.8" r="4.7" fill="#fff" stroke="#000" stroke-width="2"/>
<circle cx="1120" cy="1794.7" r="4.7" fill="#fff" stroke="#000" stroke-width="2"/>
<circle cx="1132" cy="1776.3" r="4.7" fill="#fff" stroke="#000" stroke-width="2"/>
<circle cx="1143.6" cy="1788.3" r="4.7" fill="#fff" stroke="#000" stroke-width="2"/>
<circle cx="1163.7" cy="1906" r="4.7" fill="#fff" stroke="#000" stroke-width="2"/>
<circle cx="1163.7" cy="1921" r="4.7" fill="#fff" stroke="#000" stroke-width="2"/>
<circle cx="1188.5" cy="1915.9" r="4.7" fill="#fff" stroke="#000" stroke-width="2"/>
<path d="M1020.3 1929.6L1020.3 1729.6L1127.3 1729.6L1127.3 1762.6" fill="none" stroke-width="1.6"/>
<path d="M1132.9 1762.6L1132.9 1729.6L1185.5 1729.6L1185.5 1860.2" fill="none" stroke-width="1.6"/>
<text x="1019.5" y="1719.8" font-size="23">p &lt; 0.0001</text>
<text x="1135.9" y="1718.5" font-size="23">p &lt; 0.0001</text>
<text x="1258" y="1666.5" font-size="65">m</text>
<text x="1451" y="1666.5" font-size="32.4">shCtrl</text>
<path d="M1428.1 1675.9L1531.3 1675.9" stroke-width="3"/>
<text x="1590" y="1666.5" font-size="32.9" font-style="italic">shRnf40</text>
<path d="M1579.6 1675.9L1683.9 1675.9" stroke-width="3"/>
<clipPath id="bl6"><rect x="1392.4" y="1684" width="318.4" height="49"/></clipPath>
<linearGradient id="gbl6" x1="0" y1="0" x2="0" y2="1"><stop offset="0" stop-color="#ececec"/><stop offset="1" stop-color="#e4e4e4"/></linearGradient>
<rect x="1392.4" y="1684" width="318.4" height="49" fill="url(#gbl6)" stroke="none"/>
<g clip-path="url(#bl6)" stroke="none">
<ellipse cx="1436" cy="1694" rx="16" ry="7" fill="#888" opacity="0.45" filter="url(#bb3)"/>
<ellipse cx="1436" cy="1706" rx="30" ry="5.2" fill="#000" opacity="0.97" filter="url(#bb2)"/>
<ellipse cx="1511" cy="1697" rx="16" ry="5" fill="#aaa" opacity="0.4" filter="url(#bb3)"/>
<ellipse cx="1511" cy="1706.5" rx="29" ry="4.8" fill="#000" opacity="0.95" filter="url(#bb2)"/>
<ellipse cx="1585" cy="1707" rx="22" ry="3" fill="#555" opacity="0.5" filter="url(#bb3)"/>
<ellipse cx="1657" cy="1705.5" rx="25" ry="3" fill="#555" opacity="0.45" filter="url(#bb3)"/>
</g>
<rect x="1394.1" y="1685.7" width="315.1" height="45.7" fill="none" stroke="#111" stroke-width="3.3"/>
<clipPath id="bl7"><rect x="1392.4" y="1741.7" width="318.4" height="49"/></clipPath>
<linearGradient id="gbl7" x1="0" y1="0" x2="0" y2="1"><stop offset="0" stop-color="#e6e6e6"/><stop offset="1" stop-color="#dcdcdc"/></linearGradient>
<rect x="1392.4" y="1741.7" width="318.4" height="49" fill="url(#gbl7)" stroke="none"/>
<g clip-path="url(#bl7)" stroke="none">
<ellipse cx="1420" cy="1772" rx="16" ry="3.5" fill="#222" opacity="0.75" filter="url(#bb2)"/>
<ellipse cx="1446" cy="1768.5" rx="20" ry="4" fill="#000" opacity="0.9" filter="url(#bb2)"/>
<ellipse cx="1514" cy="1766" rx="30" ry="5" fill="#000" opacity="0.97" filter="url(#bb2)"/>
<ellipse cx="1587" cy="1766" rx="22" ry="3.8" fill="#000" opacity="0.9" filter="url(#bb2)"/>
<ellipse cx="1657" cy="1767" rx="27" ry="4" fill="#000" opacity="0.92" filter="url(#bb2)"/>
</g>
<rect x="1394.1" y="1743.4" width="315.1" height="45.7" fill="none" stroke="#111" stroke-width="3.3"/>
<clipPath id="bl8"><rect x="1392.4" y="1800.5" width="318.4" height="46.9"/></clipPath>
<linearGradient id="gbl8" x1="0" y1="0" x2="0" y2="1"><stop offset="0" stop-color="#cecece"/><stop offset="1" stop-color="#c6c6c6"/></linearGradient>
<rect x="1392.4" y="1800.5" width="318.4" height="46.9" fill="url(#gbl8)" stroke="none"/>
<g clip-path="url(#bl8)" stroke="none">
<ellipse cx="1440" cy="1826" rx="40" ry="12" fill="#bbb" opacity="0.5" filter="url(#bb6)"/>
<ellipse cx="1600" cy="1820" rx="60" ry="12" fill="#d6d6d6" opacity="0.5" filter="url(#bb6)"/>
</g>
<rect x="1394.1" y="1802.2" width="315.1" height="43.6" fill="none" stroke="#111" stroke-width="3.3"/>
<clipPath id="bl9"><rect x="1392.4" y="1856.5" width="318.4" height="45.5"/></clipPath>
<linearGradient id="gbl9" x1="0" y1="0" x2="0" y2="1"><stop offset="0" stop-color="#e8e8e8"/><stop offset="1" stop-color="#e0e0e0"/></linearGradient>
<rect x="1392.4" y="1856.5" width="318.4" height="45.5" fill="url(#gbl9)" stroke="none"/>
<g clip-path="url(#bl9)" stroke="none">
<ellipse cx="1440" cy="1880" rx="26" ry="3.2" fill="#000" opacity="0.9" filter="url(#bb2)"/>
<ellipse cx="1511" cy="1879.5" rx="30" ry="5" fill="#000" opacity="0.97" filter="url(#bb2)"/>
<ellipse cx="1583" cy="1880" rx="26" ry="4.8" fill="#000" opacity="0.97" filter="url(#bb2)"/>
<ellipse cx="1665" cy="1880.5" rx="28" ry="4.4" fill="#000" opacity="0.97" filter="url(#bb2)"/>
</g>
<rect x="1394.1" y="1858.2" width="315.1" height="42.2" fill="none" stroke="#111" stroke-width="3.3"/>
<clipPath id="bl10"><rect x="1392.4" y="1911.4" width="318.4" height="49.7"/></clipPath>
<linearGradient id="gbl10" x1="0" y1="0" x2="0" y2="1"><stop offset="0" stop-color="#e2e2e2"/><stop offset="1" stop-color="#dadada"/></linearGradient>
<rect x="1392.4" y="1911.4" width="318.4" height="49.7" fill="url(#gbl10)" stroke="none"/>
<g clip-path="url(#bl10)" stroke="none">
<ellipse cx="1440" cy="1935" rx="33" ry="9" fill="#000" opacity="0.97" filter="url(#bb3)"/>
<ellipse cx="1440" cy="1946" rx="28" ry="6" fill="#555" opacity="0.4" filter="url(#bb4)"/>
<ellipse cx="1512" cy="1934" rx="29" ry="8.5" fill="#000" opacity="0.97" filter="url(#bb3)"/>
<ellipse cx="1512" cy="1945" rx="26" ry="6" fill="#555" opacity="0.35" filter="url(#bb4)"/>
<ellipse cx="1584" cy="1937" rx="22" ry="5" fill="#444" opacity="0.5" filter="url(#bb4)"/>
<ellipse cx="1656" cy="1935" rx="20" ry="5" fill="#555" opacity="0.4" filter="url(#bb4)"/>
</g>
<rect x="1394.1" y="1913.1" width="315.1" height="46.4" fill="none" stroke="#111" stroke-width="3.3"/>
<clipPath id="bl11"><rect x="1392.4" y="1969.1" width="318.4" height="46.6"/></clipPath>
<linearGradient id="gbl11" x1="0" y1="0" x2="0" y2="1"><stop offset="0" stop-color="#e6e6e6"/><stop offset="1" stop-color="#dedede"/></linearGradient>
<rect x="1392.4" y="1969.1" width="318.4" height="46.6" fill="url(#gbl11)" stroke="none"/>
<g clip-path="url(#bl11)" stroke="none">
<ellipse cx="1443" cy="1992" rx="25" ry="3.3" fill="#000" opacity="0.85" filter="url(#bb2)"/>
<ellipse cx="1514" cy="1992.3" rx="27" ry="3.2" fill="#000" opacity="0.85" filter="url(#bb2)"/>
<ellipse cx="1584" cy="1992.8" rx="27" ry="4.2" fill="#000" opacity="0.95" filter="url(#bb2)"/>
<ellipse cx="1661" cy="1992.8" rx="29" ry="4.2" fill="#000" opacity="0.95" filter="url(#bb2)"/>
</g>
<rect x="1394.1" y="1970.8" width="315.1" height="43.3" fill="none" stroke="#111" stroke-width="3.3"/>
<text x="1380.2" y="1720.7" font-size="32.4" text-anchor="end">RNF40</text>
<text x="1380.2" y="1779.5" font-size="32.4" text-anchor="end">RNF20</text>
<text x="1373.2" y="1820.4" font-size="32.4" text-anchor="end">HIF1α</text>
<text x="1382" y="1849.1" font-size="32.4" text-anchor="end">(normoxia)</text>
<text x="1373.2" y="1878.2" font-size="32.4" text-anchor="end">HIF1α</text>
<text x="1382" y="1907.9" font-size="32.4" text-anchor="end">(hypoxia)</text>
<text x="1378.4" y="1949.9" font-size="32.4" text-anchor="end">H2Bub1</text>
<text x="1383.7" y="2001.3" font-size="32.4" text-anchor="end">α-tub</text>
<path d="M1710.8 1706.7L1720.3 1706.7" stroke-width="2.6"/>
<text x="1728" y="1720.7" font-size="25.2">130</text>
<path d="M1710.8 1769L1720.3 1769" stroke-width="2.6"/>
<text x="1728" y="1782" font-size="25.2">120</text>
<path d="M1710.8 1829.2L1720.3 1829.2" stroke-width="2.6"/>
<text x="1728" y="1841.4" font-size="25.2">120</text>
<path d="M1710.8 1881L1720.3 1881" stroke-width="2.6"/>
<text x="1728" y="1895" font-size="25.2">120</text>
<path d="M1710.8 1938.7L1720.3 1938.7" stroke-width="2.6"/>
<text x="1728" y="1951" font-size="25.2">23</text>
<path d="M1710.8 1994.3L1720.3 1994.3" stroke-width="2.6"/>
<text x="1728" y="2007.6" font-size="25.2">52</text>
<text x="0" y="2101.8" font-size="65">n</text>
<text font-size="33" text-anchor="middle" transform="translate(36.5 2283.8) rotate(-90)">Migrated cells per field</text>
<path d="M112.7 2155.2L112.7 2397.5" stroke-width="2.8"/>
<path d="M99.7 2156.6L112.7 2156.6" stroke-width="2.8"/>
<text x="95.1" y="2164.6" font-size="22.3" text-anchor="end">200</text>
<path d="M99.7 2216.4L112.7 2216.4" stroke-width="2.8"/>
<text x="95.1" y="2224.4" font-size="22.3" text-anchor="end">150</text>
<path d="M99.7 2276.7L112.7 2276.7" stroke-width="2.8"/>
<text x="95.1" y="2284.7" font-size="22.3" text-anchor="end">100</text>
<path d="M99.7 2335.8L112.7 2335.8" stroke-width="2.8"/>
<text x="95.1" y="2343.8" font-size="22.3" text-anchor="end">50</text>
<path d="M99.7 2396.1L112.7 2396.1" stroke-width="2.8"/>
<text x="95.1" y="2404.1" font-size="22.3" text-anchor="end">0</text>
<rect x="133.8" y="2197.2" width="38.9" height="198.9" fill="#606060" stroke="#000" stroke-width="3"/>
<rect x="198.4" y="2211.7" width="38.8" height="184.4" fill="#ff8080" stroke="#000" stroke-width="3"/>
<path d="M99.8 2396.1L261.4 2396.1" stroke-width="2.8"/>
<path d="M153.4 2396.1L153.4 2407" stroke-width="2.8"/>
<path d="M218.4 2396.1L218.4 2407" stroke-width="2.8"/>
<text x="85.3" y="2434.4" font-size="29.6">sh<tspan font-style="italic">Ctrl</tspan></text>
<text x="189" y="2434.4" font-size="29.6">sh<tspan font-style="italic">Rnf40</tspan></text>
<path d="M153.8 2176.1V2215.3M143.8 2176.1H163.8M143.8 2215.3H163.8" fill="none" stroke-width="2"/>
<path d="M218.4 2196.9V2221.1M208.4 2196.9H228.4M208.4 2221.1H228.4" fill="none" stroke-width="2"/>
<circle cx="153.8" cy="2163.6" r="4.8" fill="#fff" stroke="#000" stroke-width="2"/>
<circle cx="138.2" cy="2198.8" r="4.8" fill="#fff" stroke="#000" stroke-width="2"/>
<circle cx="169.5" cy="2191.8" r="4.8" fill="#fff" stroke="#000" stroke-width="2"/>
<circle cx="138.2" cy="2216" r="4.8" fill="#fff" stroke="#000" stroke-width="2"/>
<circle cx="169.5" cy="2205.5" r="4.8" fill="#fff" stroke="#000" stroke-width="2"/>
<circle cx="202.3" cy="2194.5" r="4.8" fill="#fff" stroke="#000" stroke-width="2"/>
<circle cx="233.7" cy="2201.6" r="4.8" fill="#fff" stroke="#000" stroke-width="2"/>
<circle cx="202.3" cy="2206.3" r="4.8" fill="#fff" stroke="#000" stroke-width="2"/>
<circle cx="233.7" cy="2212.5" r="4.8" fill="#fff" stroke="#000" stroke-width="2"/>
<circle cx="218.4" cy="2226.2" r="4.8" fill="#fff" stroke="#000" stroke-width="2"/>
<text x="175.3" y="2142.1" font-size="22.3">ns</text>
<path d="M146 2149.9L223.1 2149.9" stroke-width="2"/>
<text x="323" y="2101.8" font-size="65">o</text>
<text font-size="33.1" text-anchor="middle" transform="translate(341.5 2271) rotate(-90)">Number of colonies</text>
<path d="M398.4 2154.4L398.4 2397.5" stroke-width="2.8"/>
<path d="M385.4 2155.8L398.4 2155.8" stroke-width="2.8"/>
<text x="381.6" y="2163.8" font-size="22.3" text-anchor="end">80</text>
<path d="M385.4 2216L398.4 2216" stroke-width="2.8"/>
<text x="381.6" y="2224" font-size="22.3" text-anchor="end">60</text>
<path d="M385.4 2275.9L398.4 2275.9" stroke-width="2.8"/>
<text x="381.6" y="2283.9" font-size="22.3" text-anchor="end">40</text>
<path d="M385.4 2335.8L398.4 2335.8" stroke-width="2.8"/>
<text x="381.6" y="2343.8" font-size="22.3" text-anchor="end">20</text>
<path d="M385.4 2396.1L398.4 2396.1" stroke-width="2.8"/>
<text x="381.6" y="2404.1" font-size="22.3" text-anchor="end">0</text>
<rect x="421.5" y="2231.2" width="40.8" height="164.9" fill="#606060" stroke="#000" stroke-width="3"/>
<rect x="486.8" y="2251.2" width="42" height="144.9" fill="#ff8080" stroke="#000" stroke-width="3"/>
<path d="M385.5 2396.1L552.6 2396.1" stroke-width="2.8"/>
<path d="M441.5 2396.1L441.5 2407" stroke-width="2.8"/>
<path d="M507.6 2396.1L507.6 2407" stroke-width="2.8"/>
<text x="374.6" y="2434.4" font-size="29.6">sh<tspan font-style="italic">Ctrl</tspan></text>
<text x="479.5" y="2434.4" font-size="29.6">sh<tspan font-style="italic">Rnf40</tspan></text>
<path d="M442.3 2213.3V2245.4M431.3 2213.3H453.3M431.3 2245.4H453.3" fill="none" stroke-width="2"/>
<path d="M508 2233.7V2265M497 2233.7H519M497 2265H519" fill="none" stroke-width="2"/>
<circle cx="442.3" cy="2198.4" r="5" fill="#fff" stroke="#000" stroke-width="2"/>
<circle cx="442.3" cy="2236.8" r="5" fill="#fff" stroke="#000" stroke-width="2"/>
<circle cx="442.3" cy="2250.5" r="5" fill="#fff" stroke="#000" stroke-width="2"/>
<circle cx="508" cy="2219.2" r="5" fill="#fff" stroke="#000" stroke-width="2"/>
<circle cx="508" cy="2256.4" r="5" fill="#fff" stroke="#000" stroke-width="2"/>
<circle cx="508" cy="2270" r="5" fill="#fff" stroke="#000" stroke-width="2"/>
<text x="463.8" y="2171" font-size="22.3">ns</text>
<path d="M433.7 2181.2L517.8 2181.2" stroke-width="2"/>
<text x="563" y="2098.7" font-size="65">p</text>
<rect x="698" y="2069.2" width="17.6" height="16" fill="#606060" stroke="#111" stroke-width="2.6"/>
<text x="732.2" y="2086.2" font-size="32.7">sh<tspan font-style="italic">Ctrl</tspan></text>
<rect x="833.8" y="2069.2" width="18" height="16" fill="#dd88f8" stroke="#ac4fdc" stroke-width="2.6"/>
<text x="869.2" y="2086.2" font-size="32.9">sh<tspan font-style="italic">Rnf40</tspan></text>
<text font-size="29.8" text-anchor="middle" transform="translate(637.5 2282.5) rotate(-90)">Relative mRNA expression</text>
<path d="M706 2142.1L706 2395.8" stroke-width="3.2"/>
<path d="M693 2143.7L706 2143.7" stroke-width="3.2"/>
<text x="688.4" y="2151.9" font-size="22.6" text-anchor="end">1.5</text>
<path d="M693 2227.9L706 2227.9" stroke-width="3.2"/>
<text x="688.4" y="2236.1" font-size="22.6" text-anchor="end">1.0</text>
<path d="M693 2310.8L706 2310.8" stroke-width="3.2"/>
<text x="688.4" y="2319" font-size="22.6" text-anchor="end">0.5</text>
<path d="M693 2394.2L706 2394.2" stroke-width="3.2"/>
<text x="688.4" y="2402.4" font-size="22.6" text-anchor="end">0.0</text>
<rect x="761.6" y="2265.8" width="34.9" height="128.4" fill="#dd88f8" stroke="#ac4fdc" stroke-width="3"/>
<rect x="726.1" y="2229.7" width="33.4" height="164.5" fill="#606060" stroke="#000" stroke-width="3.5"/>
<rect x="852.8" y="2238.4" width="35.2" height="155.8" fill="#dd88f8" stroke="#ac4fdc" stroke-width="3"/>
<rect x="818.1" y="2229.7" width="32.6" height="164.5" fill="#606060" stroke="#000" stroke-width="3.5"/>
<rect x="944.3" y="2340.9" width="34.9" height="53.3" fill="#dd88f8" stroke="#ac4fdc" stroke-width="3"/>
<rect x="909.2" y="2229.7" width="33" height="164.5" fill="#606060" stroke="#000" stroke-width="3.5"/>
<rect x="1035.5" y="2333.9" width="34.9" height="60.3" fill="#dd88f8" stroke="#ac4fdc" stroke-width="3"/>
<rect x="1000.9" y="2229.7" width="32.6" height="164.5" fill="#606060" stroke="#000" stroke-width="3.5"/>
<rect x="1127.5" y="2226.2" width="34.9" height="168" fill="#dd88f8" stroke="#ac4fdc" stroke-width="3"/>
<rect x="1092.8" y="2229.7" width="32.6" height="164.5" fill="#606060" stroke="#000" stroke-width="3.5"/>
<path d="M693 2394.2L1183.5 2394.2" stroke-width="3.2"/>
<path d="M760.4 2394.2L760.4 2406" stroke-width="3.2"/>
<path d="M851.6 2394.2L851.6 2406" stroke-width="3.2"/>
<path d="M943.6 2394.2L943.6 2406" stroke-width="3.2"/>
<path d="M1034.7 2394.2L1034.7 2406" stroke-width="3.2"/>
<path d="M1126.3 2394.2L1126.3 2406" stroke-width="3.2"/>
<text x="749.8" y="2435.3" font-size="31.2" text-anchor="middle" font-style="italic">Cdh1</text>
<text x="850.2" y="2435.3" font-size="31.2" text-anchor="middle" font-style="italic">Snai1</text>
<text x="942.2" y="2435.3" font-size="31.2" text-anchor="middle" font-style="italic">Fn1</text>
<text x="1036.9" y="2435.3" font-size="31.2" text-anchor="middle" font-style="italic">Snai2</text>
<text x="1117.7" y="2435.3" font-size="31.2" text-anchor="middle" font-style="italic">Vim</text>
<path d="M742.8 2199.7V2255.3M733.8 2199.7H751.8M733.8 2255.3H751.8" fill="none" stroke-width="1.8"/>
<circle cx="729.1" cy="2211" r="4.4" fill="#fff" stroke="#000" stroke-width="1.6"/>
<circle cx="755.7" cy="2212.2" r="4.4" fill="#fff" stroke="#000" stroke-width="1.6"/>
<circle cx="742.8" cy="2260.4" r="4.4" fill="#fff" stroke="#000" stroke-width="1.6"/>
<path d="M779.2 2224.7V2304.2M770.2 2224.7H788.2M770.2 2304.2H788.2" fill="none" stroke-width="1.8"/>
<circle cx="779.2" cy="2235.7" r="4.4" fill="#fff" stroke="#000" stroke-width="1.6"/>
<circle cx="779.2" cy="2246.7" r="4.4" fill="#fff" stroke="#000" stroke-width="1.6"/>
<circle cx="779.2" cy="2309.3" r="4.4" fill="#fff" stroke="#000" stroke-width="1.6"/>
<path d="M834 2210.3V2244.3M825 2210.3H843M825 2244.3H843" fill="none" stroke-width="1.8"/>
<circle cx="834" cy="2209.1" r="4.4" fill="#fff" stroke="#000" stroke-width="1.6"/>
<circle cx="834" cy="2231.8" r="4.4" fill="#fff" stroke="#000" stroke-width="1.6"/>
<circle cx="834" cy="2242.3" r="4.4" fill="#fff" stroke="#000" stroke-width="1.6"/>
<path d="M871.1 2227.1V2246.3M862.1 2227.1H880.1M862.1 2246.3H880.1" fill="none" stroke-width="1.8"/>
<circle cx="857.5" cy="2228.6" r="4.4" fill="#fff" stroke="#000" stroke-width="1.6"/>
<circle cx="884.1" cy="2234.9" r="4.4" fill="#fff" stroke="#000" stroke-width="1.6"/>
<circle cx="871.1" cy="2246.3" r="4.4" fill="#fff" stroke="#000" stroke-width="1.6"/>
<path d="M926 2201.3V2254.1M917 2201.3H935M917 2254.1H935" fill="none" stroke-width="1.8"/>
<circle cx="926" cy="2197.3" r="4.4" fill="#fff" stroke="#000" stroke-width="1.6"/>
<circle cx="912.3" cy="2244.7" r="4.4" fill="#fff" stroke="#000" stroke-width="1.6"/>
<circle cx="938.9" cy="2240.8" r="4.4" fill="#fff" stroke="#000" stroke-width="1.6"/>
<path d="M962.3 2299.1V2379.7M953.3 2299.1H971.3M953.3 2379.7H971.3" fill="none" stroke-width="1.8"/>
<circle cx="962.3" cy="2294.4" r="4.4" fill="#fff" stroke="#000" stroke-width="1.6"/>
<circle cx="962.3" cy="2354.3" r="4.4" fill="#fff" stroke="#000" stroke-width="1.6"/>
<circle cx="962.3" cy="2369.9" r="4.4" fill="#fff" stroke="#000" stroke-width="1.6"/>
<path d="M1017.1 2202.4V2252.5M1008.1 2202.4H1026.1M1008.1 2252.5H1026.1" fill="none" stroke-width="1.8"/>
<circle cx="1017.1" cy="2199.7" r="4.4" fill="#fff" stroke="#000" stroke-width="1.6"/>
<circle cx="1017.1" cy="2234.9" r="4.4" fill="#fff" stroke="#000" stroke-width="1.6"/>
<circle cx="1017.1" cy="2246.7" r="4.4" fill="#fff" stroke="#000" stroke-width="1.6"/>
<path d="M1053.9 2303V2360.9M1044.9 2303H1062.9M1044.9 2360.9H1062.9" fill="none" stroke-width="1.8"/>
<circle cx="1040.6" cy="2311.2" r="4.4" fill="#fff" stroke="#000" stroke-width="1.6"/>
<circle cx="1067.6" cy="2319.1" r="4.4" fill="#fff" stroke="#000" stroke-width="1.6"/>
<circle cx="1053.9" cy="2364.9" r="4.4" fill="#fff" stroke="#000" stroke-width="1.6"/>
<path d="M1109.1 2203.6V2251.4M1100.1 2203.6H1118.1M1100.1 2251.4H1118.1" fill="none" stroke-width="1.8"/>
<circle cx="1109.1" cy="2201.6" r="4.4" fill="#fff" stroke="#000" stroke-width="1.6"/>
<circle cx="1109.1" cy="2231.8" r="4.4" fill="#fff" stroke="#000" stroke-width="1.6"/>
<circle cx="1109.1" cy="2249.4" r="4.4" fill="#fff" stroke="#000" stroke-width="1.6"/>
<path d="M1145.9 2207.5V2242.7M1136.9 2207.5H1154.9M1136.9 2242.7H1154.9" fill="none" stroke-width="1.8"/>
<circle cx="1145.9" cy="2206.3" r="4.4" fill="#fff" stroke="#000" stroke-width="1.6"/>
<circle cx="1145.9" cy="2228.6" r="4.4" fill="#fff" stroke="#000" stroke-width="1.6"/>
<circle cx="1145.9" cy="2240.8" r="4.4" fill="#fff" stroke="#000" stroke-width="1.6"/>
<path d="M741.2 2158.2L741.2 2144.9L779.2 2144.9L779.2 2178.2" fill="none" stroke-width="1.6"/>
<text x="749" y="2138.6" font-size="22.3">ns</text>
<path d="M832.8 2188.7L832.8 2171.1L870 2171.1L870 2218.1" fill="none" stroke-width="1.6"/>
<text x="838.7" y="2166" font-size="22.3">ns</text>
<path d="M924.8 2175L924.8 2162.1L962.3 2162.1L962.3 2266.2" fill="none" stroke-width="1.6"/>
<text x="891.9" y="2153.5" font-size="23">p = 0.0158</text>
<path d="M1017.9 2151.5L1017.9 2133.9L1055.1 2133.9L1055.1 2283.4" fill="none" stroke-width="1.6"/>
<text x="988.6" y="2125.3" font-size="23">p = 0.0092</text>
<path d="M1109.9 2186.8L1109.9 2169.2L1147.1 2169.2L1147.1 2188" fill="none" stroke-width="1.6"/>
<text x="1110.7" y="2158.6" font-size="22.3">ns.</text>
<text font-size="29.9" text-anchor="middle" transform="translate(1255.2 2267.2) rotate(-90)">Relative mRNA expression</text>
<path d="M1324.8 2136.3L1324.8 2389.8" stroke-width="3"/>
<path d="M1311.8 2137.8L1324.8 2137.8" stroke-width="3"/>
<text x="1308.5" y="2146.3" font-size="23.4" text-anchor="end">1.5</text>
<path d="M1311.8 2221.8L1324.8 2221.8" stroke-width="3"/>
<text x="1308.5" y="2230.3" font-size="23.4" text-anchor="end">1.0</text>
<path d="M1311.8 2305L1324.8 2305" stroke-width="3"/>
<text x="1308.5" y="2313.5" font-size="23.4" text-anchor="end">0.5</text>
<path d="M1311.8 2388.3L1324.8 2388.3" stroke-width="3"/>
<text x="1308.5" y="2396.8" font-size="23.4" text-anchor="end">0.0</text>
<rect x="1380.9" y="2247.9" width="35.5" height="140.4" fill="#dd88f8" stroke="#ac4fdc" stroke-width="3"/>
<rect x="1345.3" y="2223.6" width="33.5" height="164.8" fill="#606060" stroke="#000" stroke-width="3.5"/>
<rect x="1474" y="2259.8" width="35.8" height="128.5" fill="#dd88f8" stroke="#ac4fdc" stroke-width="3"/>
<rect x="1438.8" y="2223.6" width="33.1" height="164.8" fill="#606060" stroke="#000" stroke-width="3.5"/>
<rect x="1567.4" y="2310.1" width="35.4" height="78.2" fill="#dd88f8" stroke="#ac4fdc" stroke-width="3"/>
<rect x="1531.8" y="2223.6" width="33.5" height="164.8" fill="#606060" stroke="#000" stroke-width="3.5"/>
<rect x="1660.8" y="2325" width="35.4" height="63.3" fill="#dd88f8" stroke="#ac4fdc" stroke-width="3"/>
<rect x="1625.2" y="2223.6" width="33.5" height="164.8" fill="#606060" stroke="#000" stroke-width="3.5"/>
<path d="M1312.2 2388.3L1718.4 2388.3" stroke-width="3"/>
<path d="M1380.2 2388.3L1380.2 2401" stroke-width="3"/>
<path d="M1473.3 2388.3L1473.3 2401" stroke-width="3"/>
<path d="M1566.7 2388.3L1566.7 2401" stroke-width="3"/>
<path d="M1659.7 2388.3L1659.7 2401" stroke-width="3"/>
<text x="1352" y="2431.5" font-size="32" text-anchor="middle" font-style="italic">Slc2a1</text>
<text x="1469.7" y="2431.5" font-size="32" text-anchor="middle" font-style="italic">Ldha</text>
<text x="1567.4" y="2431.5" font-size="32" text-anchor="middle" font-style="italic">Vegfa</text>
<text x="1677.2" y="2431.5" font-size="32" text-anchor="middle" font-style="italic">Eno1</text>
<path d="M1362.1 2198.6V2244.6M1353.1 2198.6H1371.1M1353.1 2244.6H1371.1" fill="none" stroke-width="1.8"/>
<circle cx="1362.1" cy="2201.1" r="4.4" fill="#fff" stroke="#000" stroke-width="1.6"/>
<circle cx="1362.1" cy="2216.7" r="4.4" fill="#fff" stroke="#000" stroke-width="1.6"/>
<circle cx="1362.1" cy="2247.1" r="4.4" fill="#fff" stroke="#000" stroke-width="1.6"/>
<path d="M1399.8 2213.1V2279M1390.8 2213.1H1408.8M1390.8 2279H1408.8" fill="none" stroke-width="1.8"/>
<circle cx="1399.8" cy="2208.4" r="4.4" fill="#fff" stroke="#000" stroke-width="1.6"/>
<circle cx="1385.7" cy="2267" r="4.4" fill="#fff" stroke="#000" stroke-width="1.6"/>
<circle cx="1413.5" cy="2263.8" r="4.4" fill="#fff" stroke="#000" stroke-width="1.6"/>
<path d="M1455.9 2204.7V2238.4M1446.9 2204.7H1464.9M1446.9 2238.4H1464.9" fill="none" stroke-width="1.8"/>
<circle cx="1455.9" cy="2207.6" r="4.4" fill="#fff" stroke="#000" stroke-width="1.6"/>
<circle cx="1455.9" cy="2217.4" r="4.4" fill="#fff" stroke="#000" stroke-width="1.6"/>
<circle cx="1455.9" cy="2240.2" r="4.4" fill="#fff" stroke="#000" stroke-width="1.6"/>
<path d="M1493.2 2237.3V2278.2M1484.2 2237.3H1502.2M1484.2 2278.2H1502.2" fill="none" stroke-width="1.8"/>
<circle cx="1493.2" cy="2239.1" r="4.4" fill="#fff" stroke="#000" stroke-width="1.6"/>
<circle cx="1493.2" cy="2256.1" r="4.4" fill="#fff" stroke="#000" stroke-width="1.6"/>
<circle cx="1493.2" cy="2280" r="4.4" fill="#fff" stroke="#000" stroke-width="1.6"/>
<path d="M1549.3 2197.5V2246.4M1540.3 2197.5H1558.3M1540.3 2246.4H1558.3" fill="none" stroke-width="1.8"/>
<circle cx="1549.3" cy="2195" r="4.4" fill="#fff" stroke="#000" stroke-width="1.6"/>
<circle cx="1549.3" cy="2228.3" r="4.4" fill="#fff" stroke="#000" stroke-width="1.6"/>
<circle cx="1549.3" cy="2242.8" r="4.4" fill="#fff" stroke="#000" stroke-width="1.6"/>
<path d="M1586.2 2280.8V2335.1M1577.2 2280.8H1595.2M1577.2 2335.1H1595.2" fill="none" stroke-width="1.8"/>
<circle cx="1586.2" cy="2284.4" r="4.4" fill="#fff" stroke="#000" stroke-width="1.6"/>
<circle cx="1586.2" cy="2303.2" r="4.4" fill="#fff" stroke="#000" stroke-width="1.6"/>
<circle cx="1586.2" cy="2337.6" r="4.4" fill="#fff" stroke="#000" stroke-width="1.6"/>
<path d="M1642.3 2207.6V2235.5M1633.3 2207.6H1651.3M1633.3 2235.5H1651.3" fill="none" stroke-width="1.8"/>
<circle cx="1642.3" cy="2205.8" r="4.4" fill="#fff" stroke="#000" stroke-width="1.6"/>
<circle cx="1628.2" cy="2230.1" r="4.4" fill="#fff" stroke="#000" stroke-width="1.6"/>
<circle cx="1656.1" cy="2230.1" r="4.4" fill="#fff" stroke="#000" stroke-width="1.6"/>
<path d="M1679.6 2296V2350.3M1670.6 2296H1688.6M1670.6 2350.3H1688.6" fill="none" stroke-width="1.8"/>
<circle cx="1679.6" cy="2300" r="4.4" fill="#fff" stroke="#000" stroke-width="1.6"/>
<circle cx="1679.6" cy="2315.2" r="4.4" fill="#fff" stroke="#000" stroke-width="1.6"/>
<circle cx="1679.6" cy="2352.5" r="4.4" fill="#fff" stroke="#000" stroke-width="1.6"/>
<path d="M1363.9 2161.3L1363.9 2148.6L1401.6 2148.6L1401.6 2166.7" fill="none" stroke-width="1.6"/>
<text x="1367.5" y="2141.4" font-size="22.6">ns</text>
<path d="M1457 2177.6L1457 2164.9L1494.3 2164.9L1494.3 2201.8" fill="none" stroke-width="1.6"/>
<text x="1463.5" y="2154" font-size="22.6">ns</text>
<path d="M1546.4 2151.5L1546.4 2133.4L1584.8 2133.4L1584.8 2249.3" fill="none" stroke-width="1.6"/>
<text x="1522.1" y="2124" font-size="22.7">p = 0.0148</text>
<path d="M1638 2191.3L1638 2175.8L1684 2175.8L1684 2266.3" fill="none" stroke-width="1.6"/>
<text x="1621" y="2164.9" font-size="22.7">p = 0.0047</text>
</g></svg>
</body></html>
